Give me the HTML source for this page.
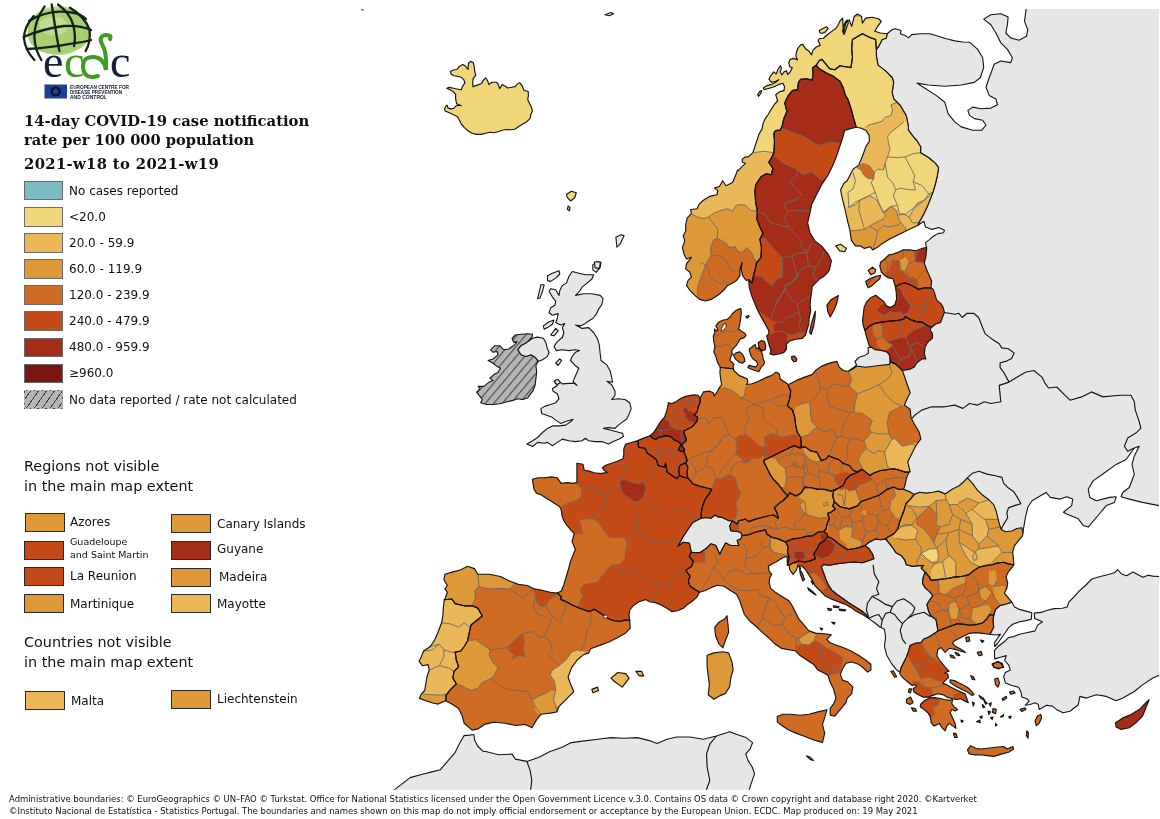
<!DOCTYPE html>
<html lang="en"><head><meta charset="utf-8"><title>14-day COVID-19 case notification rate</title>
<style>
html,body{margin:0;padding:0;background:#fff}
body{width:1160px;height:819px;position:relative;overflow:hidden;font-family:"DejaVu Sans","Liberation Sans",sans-serif;color:#111}
.abs{position:absolute}
.sw{position:absolute;width:37px;height:17.5px;border:1px solid #6b6b6b;box-sizing:content-box}
.sw2{position:absolute;width:38px;height:17px;border:1px solid #2a2a2a;box-sizing:content-box}
.lb{position:absolute;font-size:12px;line-height:16px;white-space:nowrap;color:#111}
.lb2{position:absolute;font-size:12px;line-height:16px;white-space:nowrap;color:#111}
.ttl{position:absolute;left:24px;font-family:"DejaVu Serif","Liberation Serif",serif;font-weight:bold;font-size:14.8px;line-height:19px;white-space:nowrap;color:#111}
.hd{position:absolute;left:24px;font-size:14.38px;line-height:19.5px;white-space:nowrap;color:#111}
.cap{position:absolute;left:9px;font-size:8.48px;line-height:10px;white-space:nowrap;color:#111}
.hatch{background:repeating-linear-gradient(125deg,#b4b4b4 0,#b4b4b4 4px,#444 4px,#444 5px,#b4b4b4 5px,#b4b4b4 6.5px)}
#map{position:absolute;left:0;top:0}
</style></head><body>
<svg id="map" width="1160" height="819" viewBox="0 0 1160 819">
<defs>
<pattern id="hatch" width="6.5" height="6.5" patternUnits="userSpaceOnUse" patternTransform="rotate(-50)"><rect width="6.5" height="6.5" fill="#b4b4b4"/><rect y="0" width="6.5" height="1.1" fill="#4a4a4a"/></pattern>
<clipPath id="k1"><path d="M752.1,282.9 749.1,279.6 746.1,280.4 742.5,275.5 741.2,268.9 742.2,262.3 740,268.9 740,275.5 736.7,280.4 732.6,282.9 727.7,285.4 723.6,290.3 717.8,295.2 711.2,299.4 705.4,301 699.7,299.4 694.7,295.2 689.8,290.3 686.5,285.4 688.1,280.4 691.4,277.1 689.8,272.2 685.7,268.9 686.5,263.9 691.4,257.3 686.5,259 684,254 682.4,247.5 684.8,240.9 683.2,235.9 685.7,231 685.7,224.4 687.3,217.8 691.4,213.7 690.6,209.5 697.2,208.7 698.8,204.6 703,200.5 709.5,196.4 717,194.7 717.8,190.6 714.5,188.1 719.4,186.5 722.7,180.7 726,185.7 732.6,182.4 735.1,176.6 737.6,170 738.1,170.6 742.3,166.4 745.4,163.3 742.3,162.3 742.3,159.2 744.9,157.1 748.5,156.6 752.7,152.9 754.2,148.8 755.8,143.6 757.3,139.4 758.9,134.3 762,129.1 763,123.9 765.1,118.7 768.2,114.5 771.3,109.3 774.5,104.2 777.6,101 775.7,94.7 779.8,91.6 784,90.6 784.5,86.4 782.9,83.3 778.8,84.4 773.6,87 768.4,88.5 764.3,89.6 763.2,88 766.3,85.9 771.5,84.4 775.7,82.3 778.8,79.7 775.7,81.2 771.5,82.3 768.9,79.2 770.5,76.1 773.6,71.9 776.2,74 778.3,68.8 780.3,65.7 781.4,67.8 780.3,71.9 781.9,75 784,71.9 786.6,70.9 787.6,74.5 790.2,71.9 792.3,67.8 789.7,66.7 788.7,62.6 790.2,59.4 793.8,58.4 797.5,60 795.9,56.3 796.4,52.2 798,48 800.6,44.9 802.7,44.4 805.8,49.1 808.9,51.1 811.5,54.8 813,50.1 816.2,47 820.3,45.4 818.2,40.8 819.3,38.7 823.4,38.2 827.6,34.5 831.7,31.4 835.9,28.3 838,25.2 840,21 842.6,18.1 843.4,33 845.9,23.1 849.2,19.8 851.7,26.4 854.2,16.5 857.5,14 861.6,16.5 862.4,23.1 865.7,18.1 872.3,17.3 878.9,19 881.3,21.4 877.2,27.2 874.8,31.3 880.5,33 887.1,33.8 887.1,33.8 886.3,38.2 882.2,39.5 878.9,46.1 876.4,49.4 876.4,49.4 875.6,39.5 869,37.1 862.4,33.8 852.5,39.5 851.7,47.8 852.5,57.7 850.9,67.6 845.9,66.7 845.2,66.7 840,65.7 834.8,69.8 829.7,68.8 825.5,63.6 821.9,59.4 819.3,60.5 816.2,65.2 816.2,65.2 812.5,67.8 813,75 812,80.2 806.8,78.7 800.6,79.2 798.5,82.3 797.5,89.6 792.3,90.6 788.1,95.8 784.8,103.1 786.9,111.4 783.8,118.7 782.2,126 780.2,130.1 775.5,130.6 773.9,133.2 774.5,141.5 773.9,152.9 771.3,158.1 768.8,162.3 772.9,168.5 771.3,174.7 766.2,173.7 761,176.8 755.7,184.8 754.9,191.4 755.7,203 757.3,211.2 757,219.4 759.8,226.9 763.1,233.4 759.8,239.2 761.5,247.5 761,257.3 756.5,263.1 754.9,270.5 753.2,277.1 752.1,282.9Z M757.5,94.7 759.6,91.6 761.7,90.6 760.6,93.7 758.5,96.3Z M819.3,30.4 822.4,28.8 826.5,26.7 828.1,28.3 825.5,31.9 821.9,33.5 819.8,32.5Z M842.6,31.4 843.7,26.2 845.2,22.1 847.3,20 848.3,23.1 846.3,28.3 844.2,34.5Z"/></clipPath>
<clipPath id="k2"><path d="M752.1,282.9 748.6,280.7 749.4,288.1 751.9,296.4 755.2,304.6 758.5,312 762.6,319.4 765.9,325.2 768.4,330.1 769.2,333.4 766.7,335.9 767.9,340.9 770,347.5 770.9,350.7 770,354 773.3,354.9 779.1,354 784,352.4 786.5,349.1 786.5,344.2 789.8,340.9 795.6,339.2 802.2,338.4 805.5,335.1 807.1,329.3 808.8,324.4 809.1,317.8 810.7,311.2 810.1,304.6 810.7,298 811.7,291.4 812.1,286.5 815.4,283.2 819.5,279.1 823.6,276.6 827.7,272.5 829.4,270 831.4,260.7 828.1,254.1 821.5,245.9 814.9,240.9 810,232.7 807.6,222.8 810,212.9 811.6,204.7 816.5,194.8 821.5,184.9 828.1,175 833,165.1 836.3,156.9 839.6,147 842.9,137.1 844.6,130.5 849.5,128.9 856.1,127.2 853.8,119 851.2,109.1 847.9,99.2 845.2,94.7 843.1,87.5 840,81.2 833.8,76.6 826.5,72.9 819.3,68.8 816.2,65.2 812.5,67.8 813,75 812,80.2 806.8,78.7 800.6,79.2 798.5,82.3 797.5,89.6 792.3,90.6 788.1,95.8 784.8,103.1 786.9,111.4 783.8,118.7 782.2,126 780.2,130.1 775.5,130.6 773.9,133.2 774.5,141.5 773.9,152.9 771.3,158.1 768.8,162.3 772.9,168.5 771.3,174.7 766.2,173.7 761,176.8 755.7,184.8 754.9,191.4 755.7,203 757.3,211.2 757,219.4 759.8,226.9 763.1,233.4 759.8,239.2 761.5,247.5 761,257.3 756.5,263.1 754.9,270.5 753.2,277.1Z M809.6,332.6 811.2,324.4 813.7,316.1 815.4,311.2 815,317.8 813.7,326 811.2,334.3Z M826.9,305.4 831,299.7 838.4,295.5 836.8,303 834.3,309.5 830.2,317 827.7,311.2Z"/></clipPath>
<clipPath id="k3"><path d="M918,225.3 909,229.4 902.4,232.7 895.8,236 889.2,239.3 882.6,243.4 876.9,247.6 872.7,250 870.3,246.7 864.5,248.4 860.4,245.9 855.4,245.9 851.3,240.1 850.5,234.4 849.7,229.4 847.2,219.5 844.7,208 842.2,198.1 840.6,189.9 843.9,183.3 847.2,180.7 850.5,174.2 853,169.2 858.7,165.1 861.2,159.3 863.7,152.7 866.1,146.1 869.4,141.2 869.1,135.4 866.1,130.5 861.2,128.3 856.3,127.2 853.8,119 851.2,109.1 847.9,99.2 845.2,94.7 843.1,87.5 840,81.2 833.8,76.6 826.5,72.9 819.3,68.8 816.2,65.2 819.3,60.5 821.9,59.4 825.5,63.6 829.7,68.8 834.8,69.8 840,65.7 845.2,66.7 845.9,66.7 850.9,67.6 852.5,57.7 851.7,47.8 852.5,39.5 862.4,33.8 869,37.1 875.6,39.5 876.4,49.4 876.4,56 878,65.1 885.5,70.9 892.1,77.5 893.7,82.4 892.1,92.3 893.7,98.9 900.3,105.5 906.1,115.4 906.9,118.6 908.5,126.9 908.2,129.7 912.3,135.4 917.2,141.2 920.8,147 920.5,152.7 928.8,157.7 935.4,163.4 938.6,167.6 937.3,175.8 935.4,184 932.9,192.3 930.4,198.9 927.1,207.1 923,215.4 918.9,222.8Z M835.7,245.9 840.6,244.3 846.4,248.4 844.7,251.7 839.8,250.9Z"/></clipPath>
<clipPath id="k4"><path d="M926.7,247.4 922.6,248.2 916,250.7 909.4,249.9 902.8,249.9 897.9,252.4 893,254 888.8,254.8 884.7,259 880.6,262.2 879.8,266.4 881.4,272.1 884.7,275.4 888.8,277.9 893,278.7 893.8,281.2 895.4,287 899.5,284.5 904.5,282.8 909.4,284.5 914.4,287 918.5,289.4 924.3,287.8 930.9,287.8 931.7,281.2 929.2,275.4 926.7,269.7 924.3,263.1 925.9,256.5Z M865.8,281.2 869.9,278.7 875.7,276.3 880.6,275.4 879.8,278.7 875.7,282 871.5,286.1 868.2,287.8 866.6,284.5Z M868.2,270.5 872.4,267.2 875.7,269.7 874.8,273 870.7,274.6Z"/></clipPath>
<clipPath id="k5"><path d="M895.4,287 896.3,292.7 896.6,299.3 894.6,305.1 890.5,307.6 886.4,305.9 883.9,301.8 879.8,298.5 875.7,295.2 870.7,297.7 866.6,301.8 864.1,307.6 863.3,314.2 862.5,320.7 863.3,325.7 864.9,330.3 869.9,325.7 874.8,323.2 881.4,322.1 889.7,321.1 897.9,320.4 903.7,319.1 905.3,316.6 909.4,319.1 916,321.6 922.6,322.4 927.6,325.7 931.7,327.3 935.8,324 940.7,322.4 942.4,317.5 944.4,312.5 943.2,307.6 940.7,303.4 936.6,300.1 935,294.4 933.3,289.4 930.9,287.8 924.3,287.8 918.5,289.4 914.4,287 909.4,284.5 904.5,282.8 899.5,284.5Z"/></clipPath>
<clipPath id="k6"><path d="M864.9,330.3 866.6,337.2 868.2,342.2 869.1,345.5 874.8,349.6 881.4,350.4 887.2,352.1 889.7,355.4 890.5,361.9 895.4,363.9 899.5,367.7 902.5,370.5 909.4,369.4 914.4,366.9 916.9,362.8 922.6,358.6 925.9,359 924.3,353.7 925.1,347.1 927.6,342.2 932.5,338 932.5,333.9 930,329.8 931.7,327.3 927.6,325.7 922.6,322.4 916,321.6 909.4,319.1 905.3,316.6 903.7,319.1 897.9,320.4 889.7,321.1 881.4,322.1 874.8,323.2 869.9,325.7Z"/></clipPath>
<clipPath id="k7"><path d="M788.2,385.3 789.9,383.7 796.5,380.4 804.7,377.1 812.1,374.6 815.4,370.5 821.2,366.4 829.4,363.1 836.9,361.4 839.3,367.2 843.4,370.5 848.4,371.3 853.3,368.8 856.6,366 865.7,367.2 878.9,365.5 889.6,364.4 890.5,361.9 895.4,363.9 899.5,367.7 902.5,370.5 902.8,371.6 906.1,381.2 910.2,392.7 906.9,399.3 904.4,405.1 910.2,409.2 911,417.5 914.3,424 919.2,432.3 920.9,438.9 915.9,445.5 911.8,453.7 907.7,461.9 910.2,471.8 909,472.1 905.2,472.1 900.3,470.5 893.7,468.8 887.1,469.7 880.5,470.5 873.9,473 869.8,475.4 865.7,472.1 861.9,469.3 858.3,472.1 853.3,470.5 849.2,465.5 842.6,463.1 839.3,459.8 834.4,458.1 828.6,455.7 826.1,459 821.2,460.6 817.1,452.4 810.5,450.7 804.7,446.6 799.8,447.9 801.4,445.5 800.6,437.2 797.3,432.3 795.7,425.7 794.8,417.5 792.4,410 787.4,405.9 789.9,397.7 790.7,391.1Z"/></clipPath>
<clipPath id="k8"><path d="M861.9,469.3 865.7,472.1 869.8,475.4 873.9,473 880.5,470.5 887.1,469.7 893.7,468.8 900.3,470.5 905.2,472.1 909,472.1 906.6,477.9 905.2,484.5 903.6,489.4 898.6,489.4 893.7,487 887.1,489.4 878.9,495.2 869.8,498.5 860.7,501.8 857.5,505.9 849.2,508.9 840.1,506.7 834.4,501.8 832.7,496 833.6,491.1 837.7,488.6 843.4,485.3 845.9,479.5 850,475.4 855.8,473Z"/></clipPath>
<clipPath id="k9"><path d="M903.6,489.4 898.6,489.4 893.7,487 887.1,489.4 878.9,495.2 869.8,498.5 860.7,501.8 857.5,505.9 849.2,508.9 840.1,506.7 834.4,501.8 832.7,505.9 835.2,509.2 830.3,512.5 827.8,513.3 829.4,519.1 827,524 826.1,529 823.7,531.5 827,533.9 827.8,536.4 832.7,538.9 837.7,543 843.4,547.1 847.6,549.6 854.2,548.8 860.7,547.1 864.9,545.5 869,542.2 875.6,538.9 880.5,539.7 885.5,538.9 888.8,536.4 893.7,533.9 897.8,529 899.5,522.4 901.9,515.8 904.4,509.2 906.1,503.4 910.2,499.3 914.3,494.4 910.2,491.9Z"/></clipPath>
<clipPath id="k10"><path d="M649.9,435.9 653,433.3 655.6,429.6 658.2,425.5 660.8,421.3 664.4,417.2 666.5,412 667.5,406.8 668.5,402.6 671.1,403.7 675.3,402.1 680.5,398.5 685.7,396.4 690.9,395.4 694,394.9 698.1,395.4 700.2,398 700,402.6 698.1,407.3 697.1,412 694,414.6 697.6,417.2 697.1,420.8 694,425 690.9,427.6 686.7,429.6 683.6,431.2 684.6,434.8 686.2,437.9 685.7,441.6 683.1,443.1 681.5,445.2 683.1,447.3 684.6,449.9 683.6,451.4 681,451.4 678.4,449.9 680,446.2 681,444.7 678.4,441.6 674.3,440 671.1,436.9 668,435.9 664.9,435.9 661.8,436.9 658.7,437.4 655.6,439.5 652.5,437.9Z"/></clipPath>
<clipPath id="k11"><path d="M637.8,440.6 643.6,438.1 649.9,435.8 652.5,437.9 655.6,439.5 658.7,437.4 661.8,436.9 664.9,435.9 668,435.9 671.1,436.9 674.3,440 678.4,441.6 681,444.7 680,446.2 678.4,449.9 681,451.4 683.6,451.4 685.2,454.6 686.2,457.7 687.2,460.8 685.6,462.9 681.2,464.7 679.5,466.4 678.7,470.5 679.5,475.4 677.1,478.7 673,476.3 667.2,472.1 665.5,463.1 664.7,467.2 658.1,465.5 656.5,459.8 652.4,456.5 647.4,453.2 644.9,448.2 640,447.4 638.6,447.2Z"/></clipPath>
<clipPath id="k12"><path d="M685.6,462.9 687.8,467.2 687,473 687.8,477.9 682.8,477.1 679.5,475.4 678.7,470.5 679.5,466.4 681.2,464.7Z"/></clipPath>
<clipPath id="k13"><path d="M700.2,398 703.4,391.9 709.2,391.1 713.3,392.7 714.2,396 716.6,392.7 718.8,388.6 721.6,384.5 720.7,379.5 719.9,373 720.3,367.2 725.7,368 733.4,368.8 733.9,370.5 736.4,373 738.9,375.4 743,377.1 747.1,378.7 747.9,382 746.3,384.5 752.1,383.7 758.6,381.2 765.2,377.9 771.8,375.4 775.9,372.1 779.2,373.8 780.1,378.7 783.4,381.2 787.5,383.7 788.2,385.3 790.7,391.1 789.9,397.7 787.4,405.9 792.4,410 794.8,417.5 795.7,425.7 797.3,432.3 800.6,437.2 801.4,445.5 799.8,447.9 794.1,445.8 790,447.4 783.4,450.7 776.8,454 770.2,457.3 763.6,460.6 764.4,463.1 766.9,468 770.2,474.6 773.5,479.5 778.4,484.5 783.4,491.1 787.8,496 782.5,501 780.1,502.6 774.3,507.6 776.8,512.5 778.4,518.3 773.5,515 768.5,515.8 761.9,517.5 755.4,519.1 748.8,521.6 745.5,519.1 738.9,520.7 737.2,524 732.3,520.7 729,520.7 722.4,517.5 717.5,516.6 715,515 710.9,518.3 705.9,517.5 701,518.3 701.3,512.5 702.6,505.9 705.1,499.3 709.2,493.6 711.7,489.4 705.9,487.8 699.3,486.1 692.7,483.7 687.8,477.9 687,473 687.8,467.2 685.6,462.9 687.2,460.8 686.2,457.7 685.2,454.6 683.6,451.4 684.6,449.9 683.1,447.3 681.5,445.2 683.1,443.1 685.7,441.6 686.2,437.9 684.6,434.8 683.6,431.2 686.7,429.6 690.9,427.6 694,425 697.1,420.8 697.6,417.2 694,414.6 697.1,412 698.1,407.3 700,402.6Z"/></clipPath>
<clipPath id="k14"><path d="M787.8,496 783.4,491.1 778.4,484.5 773.5,479.5 770.2,474.6 766.9,468 764.4,463.1 763.6,460.6 770.2,457.3 776.8,454 783.4,450.7 790,447.4 794.1,445.8 799.8,447.9 804.7,446.6 810.5,450.7 817.1,452.4 821.2,460.6 826.1,459 828.6,455.7 834.4,458.1 839.3,459.8 842.6,463.1 849.2,465.5 853.3,470.5 858.3,472.1 861.9,469.3 855.8,473 850,475.4 845.9,479.5 843.4,485.3 837.7,488.6 831.1,491.1 824.5,489.4 817.9,489.4 811.3,487.8 804.7,487 801.4,492.7 795.7,496 789.9,492.7Z"/></clipPath>
<clipPath id="k15"><path d="M837.7,488.6 831.1,491.1 824.5,489.4 817.9,489.4 811.3,487.8 804.7,487 801.4,492.7 795.7,496 789.9,492.7 787.8,496 782.5,501 780.1,502.6 774.3,507.6 776.8,512.5 778.4,518.3 773.5,515 768.5,515.8 761.9,517.5 755.4,519.1 748.8,521.6 745.5,519.1 738.9,520.7 737.2,524 732.3,520.7 729.8,525.7 730.6,530.6 737.2,531.5 740.5,532.3 742.2,535.6 748.8,534.8 755.4,532.3 761.9,530.6 765.2,529.8 766.9,533.9 771.8,537.2 778.4,538.9 785.8,542.2 788.2,540.5 793.2,538.9 799.8,538 806.4,536.4 813,535.6 817.9,532.3 823.7,531.5 826.1,529 827,524 829.4,519.1 827.8,513.3 830.3,512.5 835.2,509.2 832.7,505.9 834.4,501.8 832.7,496 833.6,491.1Z"/></clipPath>
<clipPath id="k16"><path d="M637.8,440.6 632.1,442.2 625.5,444.4 623.8,448.8 623.8,454.6 623,458.7 617.2,461.2 611.5,463.2 605.7,465.3 602.4,467.8 604,470.3 607.3,472.4 600.7,473.6 594.2,472.7 589.2,471.1 584.3,470.3 582.9,464.2 576.9,463.2 576.9,469.4 576.9,482.6 572.7,483.4 567.8,482.6 561.2,483.4 557.1,477.7 551.3,476.9 544.7,477.7 538.1,477.7 532.4,479.3 533.2,484.3 534,489.2 536.5,493.3 541.4,495 546.4,498.3 550.5,500.7 555.4,504 559.5,506.5 561.2,509.8 562,515.6 563.7,520.5 567,525.5 571.1,530.4 574.4,533.7 573.8,535 572.1,541.6 575.4,549.8 573.8,553.1 570.5,561.4 568.8,568 566.4,576.2 563.9,584.4 561.4,591 557.3,593 561.4,596.8 560.6,599.3 566.4,601.7 572.1,605 577.9,607.5 584.5,610 589.4,611.6 594.4,609.2 599.3,612.5 604.3,615.7 609.2,619 614.2,620.7 619.9,621.5 625.7,619.9 629.8,620.7 629,615.7 629.8,610 633.1,605.9 638.9,601.7 645.5,599.6 649.6,601.7 655.4,602.6 661.1,605 666.9,608.3 671.8,611.6 677.6,610.8 683.4,608.3 686.7,605 691.6,601.7 696.5,597.6 699.5,592.3 694.9,589.4 690,586.1 688.3,581.1 690,576.2 685.8,570.4 691.6,566.3 693.3,561.4 689.1,556.4 691.3,552.3 689.3,543.2 683.5,542.3 677.9,546.2 682.8,537.2 686.1,532.3 689.4,527.3 692.7,522.4 696,520.7 701,518.3 701.3,512.5 702.6,505.9 705.1,499.3 709.2,493.6 711.7,489.4 705.9,487.8 699.3,486.1 692.7,483.7 687.8,477.9 682.8,477.1 679.5,475.4 677.1,478.7 673,476.3 667.2,472.1 665.5,463.1 664.7,467.2 658.1,465.5 656.5,459.8 652.4,456.5 647.4,453.2 644.9,448.2 640,447.4 638.6,447.2Z"/></clipPath>
<clipPath id="k17"><path d="M714.7,627.3 718.8,622.3 724.6,619 727,615.7 727.9,624 728.7,632.2 725.4,640.5 722.9,647.9 718.8,643.8 715.5,635.5Z"/></clipPath>
<clipPath id="k18"><path d="M557.3,593 550.1,592.3 541,590 534.2,588.9 527.5,585.5 518.4,584.4 509.4,581 500.4,576.5 489.1,574.2 477.8,574.2 474.4,568.6 467.6,566.3 460.8,569.7 452.9,571.9 445,574.2 443.9,579.8 447.3,585.5 445,588.9 447.3,592.3 445,599 444.3,599.7 451.8,599 455.2,603.6 464.2,605.8 472.1,605.8 477.8,608.1 482.3,616 476.6,620.5 471,625 469.2,632.9 467.6,640.8 464.2,646.5 460.8,651 455.2,652.1 456.3,660 458.6,666.8 454,671.3 452.9,678.1 456.3,683.8 450.7,689.4 446.1,695.1 445.7,700.7 451.8,704.1 458.6,708.6 462,715.4 464.2,723.3 472.1,730.1 477.8,728.9 484.5,724.4 493.6,722.2 504.9,723.3 516.2,725.5 525.2,724.4 532,727.8 536.5,719.9 541,714.3 550.1,713.1 556.8,712 559.1,706.3 565.9,699.6 573.8,691.7 570.4,683.8 568.1,677 571.5,667.9 577.2,660 583.9,654.4 588.5,653.3 590.7,648.7 599.7,645.4 608.8,642 617.8,637.5 625.7,632.9 630.2,628.4 629.8,620.7 625.7,619.9 619.9,621.5 614.2,620.7 609.2,619 604.3,615.7 599.3,612.5 594.4,609.2 589.4,611.6 584.5,610 577.9,607.5 572.1,605 566.4,601.7 560.6,599.3 561.4,596.8Z M611,678.1 617.8,672.5 625.7,673.6 629.1,678.1 622.3,687.1 614.4,681.5Z M635.9,671.3 641.5,671.3 643.8,675.9 639.3,675.9Z M591.8,689.4 597.5,687.1 598.6,690.5 593,692.8Z"/></clipPath>
<clipPath id="k19"><path d="M444.3,599.7 443.4,607 442.8,616 441.6,622.8 438.2,631.8 434.8,639.7 430.3,646.5 423.6,651 421.3,656.7 419,661.2 422.4,665.7 428.1,664.6 429.2,670.2 426.9,677 425.8,683.8 424.7,690.5 421.3,693.9 419.5,698.4 425.8,700.7 432.6,703 438.2,704.1 445.7,700.7 446.1,695.1 450.7,689.4 456.3,683.8 452.9,678.1 454,671.3 458.6,666.8 456.3,660 455.2,652.1 460.8,651 464.2,646.5 467.6,640.8 469.2,632.9 471,625 476.6,620.5 482.3,616 477.8,608.1 472.1,605.8 464.2,605.8 455.2,603.6 451.8,599Z"/></clipPath>
<clipPath id="k20"><path d="M699.5,592.3 704.8,590.8 711.6,587.4 717.3,585.2 724,586.3 730.8,590.8 736.5,594.2 739.9,601 742.1,607.8 744.4,614.5 750,621.3 756.8,627 762.5,632.6 769.2,638.3 774.9,643.9 781.7,648.4 788.4,649.6 795.2,650.7 799.7,655.2 806.5,659.7 813.3,664.2 817.8,669.9 824.6,673.3 828,675.5 830.2,682.3 833.6,689.1 835.9,698.1 833.6,703.8 830.2,708.3 830.2,715.1 834.7,716.2 840.4,709.4 846,702.6 847.2,698.1 851.7,693.6 852.8,686.8 848.3,682.3 842.6,680.1 840.4,674.4 842.6,668.8 846,663.1 851.7,662 858.5,664.2 863,667.6 867.5,672.1 870.9,669.9 870.9,664.2 865.2,659.7 858.5,655.2 850.5,650.7 842.6,647.3 835.9,645 830.2,642.8 826.8,639.4 831.3,634.9 824.6,633.7 815.5,633.1 808.6,630.5 803.7,624.7 798.8,618.9 795.5,612.3 792.2,605.7 788.9,600.8 782.3,596.7 775.7,592.6 770.7,588.4 769.1,582.7 769.9,577.7 771.6,574.4 769.1,571.1 768.3,566.2 772.4,563.7 777.3,561.3 782.3,558 787.2,556.3 787.4,565.2 788.2,561.9 789.1,557 787.4,552.1 788.2,547.1 785.8,542.2 778.4,538.9 771.8,537.2 766.9,533.9 765.2,529.8 761.9,530.6 755.4,532.3 748.8,534.8 742.2,535.6 740.8,538.9 737.2,540.5 738.9,545.5 735.6,545.5 730.6,545.5 725.7,543 722.4,548.8 719.9,554.5 715.8,545.5 710.9,543.8 705.9,548.8 699.3,552.9 691.3,552.3 689.1,556.4 693.3,561.4 691.6,566.3 685.8,570.4 690,576.2 688.3,581.1 690,586.1 694.9,589.4Z M777.3,716.5 782.9,714.2 790.8,714.2 799.9,715.3 808.9,714.2 817.9,711.9 827,709.7 824.7,717.6 822.5,724.4 824.7,733.4 822.5,742.4 814.5,740.2 805.5,736.8 796.5,733.4 788.6,730 781.8,725.5 777.3,722.1Z"/></clipPath>
<clipPath id="k21"><path d="M707.1,655.2 713.9,652.9 722.9,651.8 728.6,652.9 732,662 733.1,669.9 730.8,677.8 729.7,686.8 725.2,693.6 719.5,695.9 713.9,699.3 708.2,694.7 709.4,684.6 708.2,675.5 707.1,666.5Z"/></clipPath>
<clipPath id="k22"><path d="M785.8,542.2 788.2,540.5 793.2,538.9 799.8,538 806.4,536.4 813,535.6 817.9,532.3 823.7,531.5 827,533.9 827.8,536.4 824.5,540.5 819.5,543.8 817.1,548.8 813.8,553.7 815.4,558.6 809.7,561.1 804.7,561.9 798.1,561.1 793.2,562.8 789.1,565.2 787.4,565.2 788.2,561.9 789.1,557 787.4,552.1 788.2,547.1Z"/></clipPath>
<clipPath id="k23"><path d="M789.1,565.2 793.2,562.8 798.1,561.1 804.7,561.9 809.7,561.1 815.4,558.6 813.8,553.7 817.1,548.8 819.5,543.8 824.5,540.5 827.8,536.4 832.7,538.9 837.7,543 843.4,547.1 847.6,549.6 854.2,548.8 860.7,547.1 864.9,545.5 869,548.8 872.3,553.7 873.9,558.6 869.8,560.3 862.4,562.8 854.2,561.9 845.9,562.8 837.7,563.6 829.4,565.2 823.7,564.4 821.2,566.9 823.5,572.8 825.9,579.4 828.4,585.1 831.7,590.1 836.7,594.2 842.4,598.3 848.2,602.5 854.8,606.6 861.4,610.7 866.3,614.8 868.8,618.6 863,614.8 856.4,611.5 850.7,607.4 844.9,604.1 838.3,601.6 831.7,599.2 825.1,595.9 820.2,590.9 815.2,586 811.9,579.4 808.6,574.4 805.4,569.5 802.1,566.2 797.9,565.4 796.3,570.3 793,574.4 789.7,569.5Z M799.6,569.5 802.1,572.8 804.5,579.4 802.9,581 800.4,574.4Z M798.8,566.2 800.7,568.2 800.1,569.8Z M807.8,587.6 812.8,591.7 816.1,595 814.4,594.2 808.6,590.1Z M811.1,581 813.6,582.7 812.8,584.3Z M827.6,608.2 831.7,609 830.9,610.7 828.1,609.9Z M833.4,605.7 839.1,606.6 838.3,607.7 833.7,607.1Z M839.1,609 845.7,609.9 844.9,611 839.6,610.4Z M831.7,622.2 835,622.6 834.2,624.2Z M820.2,628 822.7,628.5 821.5,630.1Z"/></clipPath>
<clipPath id="k24"><path d="M914.3,494.4 919.5,492.2 926.1,493.1 932.7,492.2 938.5,491.1 945.1,493.9 952.5,489 959.1,485.7 964,481.5 967.3,477.9 972.3,483.2 977.2,489.8 982.2,494.7 988.8,499.7 993.7,504.6 996.2,511.2 997.8,517.8 999.5,524.4 1001.1,529.3 1005.2,531.8 1011.8,531 1016.8,528.5 1021.7,527.7 1023,532.6 1022.5,535.9 1018.4,540.9 1014.3,545.8 1012.7,552.4 1013.5,559 1013.8,564.8 1008.5,563.9 1003.6,562.3 997,563.1 992.1,564.8 985.5,565.6 978.9,567.2 973.9,570.5 969,574.6 962.4,576.3 954.2,577.1 945.9,578.8 937.7,579.6 931.1,580.4 929.4,577.1 925.3,572.2 921.2,568 923.7,565.6 917.9,565.6 913,566.4 906.4,564.8 904.7,559.8 901.4,555.7 895.7,552.4 893.2,548.3 889.9,544.2 885.8,538.9 888.8,536.4 893.7,533.9 897.8,529 899.5,522.4 901.9,515.8 904.4,509.2 906.1,503.4 910.2,499.3Z"/></clipPath>
<clipPath id="k25"><path d="M1013.8,564.8 1008.5,563.9 1003.6,562.3 997,563.1 992.1,564.8 985.5,565.6 978.9,567.2 973.9,570.5 969,574.6 962.4,576.3 954.2,577.1 945.9,578.8 937.7,579.6 931.1,580.4 929.4,577.1 925.3,572.2 923.2,577.4 922.5,583.2 925.3,588.1 929.4,591.4 932.7,595.5 929.4,600.5 927,604.6 928.6,611.2 931.1,616.1 936,619.4 936.9,624.4 938,631 944.3,628.5 950.9,626 957.5,623.6 964,624.4 970.6,625.2 977.2,624.4 983,622.7 987.1,618.6 989.6,614.5 993.7,615.3 995.4,609.5 1000.3,605.4 1006.9,603.8 1011.8,602.1 1007.7,597.2 1004.4,593.1 1006.9,588.1 1007.7,583.2 1006.1,576.6 1008.5,571.6 1012.7,566.7Z"/></clipPath>
<clipPath id="k26"><path d="M938,631 934.4,633.4 929.4,636.7 923.7,639.2 921.2,642.5 915.4,643.3 910.2,645.5 908.8,650.7 906.4,657.3 903.9,662.3 901.4,667.2 899.8,672.2 899.9,674 903.2,678.1 908.1,682.2 912.2,685.5 915.5,684.7 916.4,686.4 913.1,688.8 913.9,692.1 918,694.6 923,697.1 927.9,697.1 932.8,695.4 937.8,693.8 942.7,694.6 946.9,697.1 952.6,698.7 956.7,699.5 960.9,698.7 965,701.2 968.3,702.8 966.6,697.9 965,693.8 960.9,692.1 955.9,689.7 951,687.2 946.9,684.7 942.7,683.1 945.2,680.6 948.5,677.3 947.7,674 944.4,673.2 947.7,671.5 949.2,671.3 945.9,668 942.6,663.9 939.3,659.8 936.9,655.7 937.7,649.9 941,647.5 945.1,652.4 949.2,648.3 954.2,649.1 959.1,650.7 965.7,652.4 960.7,649.1 955.8,646.6 952.5,643.3 954.2,640.9 959.1,638.4 964,635.9 969,633.4 975.6,632.6 982.2,633.4 989.6,634.3 990.4,633.4 993.7,626.9 992.9,621.1 993.7,615.3 989.6,614.5 987.1,618.6 983,622.7 977.2,624.4 970.6,625.2 964,624.4 957.5,623.6 950.9,626 944.3,628.5Z M950.1,679.8 954.3,680.6 959.2,683.1 964.2,685.5 968.3,688 971.6,691.3 974,694.6 971.6,695.4 967.5,692.1 962.5,689.7 957.6,687.2 953.4,684.7 950.1,682.2Z M920.5,704.5 924.6,700.4 929.5,697.9 934.5,697.6 939.4,698.2 944.4,699.5 949.3,700.4 952.6,699.5 951.8,703.7 954.3,707 957.6,709.4 955.1,711.1 951.8,709.4 950.1,712.7 952.6,717.7 955.1,723.4 955.9,728.4 952.6,725.9 949.3,723.4 946.9,725.9 945.2,730.9 941.9,727.6 939.4,723.4 936.1,725.1 933.7,725.9 931.2,722.6 930.4,716.9 927.9,712.7 923.8,709.4 920.5,707Z M967.5,749.8 970.7,745.7 975.7,748.2 980.6,749 987.2,748.2 995.5,747.3 1003.7,746.5 1007,749 1012.8,746.5 1013.6,749 1008.6,752.3 1002.1,753.9 993.8,756.4 987.2,755.6 980.6,754.8 974,754.8 969.1,753.9Z M1035,721 1037.5,716 1040.8,714.4 1041.6,717.7 1039.1,723.4 1036.3,725.9Z M992.2,664.9 997.1,661.6 1002.1,663.3 1003.7,667.4 998.8,668.2 994.6,667.4Z M994.6,679 997.9,678.1 999.6,683.1 997.9,687.2 995.5,684.7Z M1009.5,692.1 1013.6,691 1015.2,693 1011.1,694.3Z M906.5,699.5 910.6,697.1 913.1,702.8 909.8,704.5 906.5,702.8Z M911.4,707.8 915.5,708.6 916.4,711.1 913.1,711.1Z M909,688.8 911.4,688.8 910.6,693 908.5,692.1Z M953.4,733.3 955.9,733.3 957.2,737.5 954.6,737.5Z M979,695.4 983.1,697.9 984.8,700.4 980.6,698.2Z M993,708.6 996.3,709.4 995.5,713.6 992.5,712.4Z M988,711.1 990.5,711.9 988.9,714.4Z M988.9,703.7 991.3,702.8 990.5,706.1Z M983.9,700.4 987.2,703.2 985.6,704.2Z M972.4,702 974.4,703.2 973.2,706.1Z M976.5,721.8 979.8,720.1 980.3,722.6Z M995.5,723.4 997.1,725.1 995.5,725.9Z M990.5,717.7 993,716.9 992.2,719.7Z M1020.2,709.4 1025.1,707.8 1025.9,709.4 1021.8,711.4Z M1026.8,730.9 1028.4,732.5 1028.1,738.3 1026.4,735.8Z M1002.1,698.7 1006.2,696.3 1006.7,697.9 1002.9,700.4Z M970.7,675.7 973.2,676.5 974.9,679.8 972.4,679.4Z M890.8,671.5 893.3,670.7 896.6,676.5 894.9,677.3Z M1000.4,716.9 1003.7,714.4 1002.9,716.9Z M1008.6,716.9 1011.1,716 1010.3,718.5Z M982.3,704.5 984.8,707 983.1,707.8Z M979.8,716.9 982.3,716 981.5,718.5Z M960.9,720.1 963.3,721 961.7,722.3Z M965.7,637.6 969,636.7 969.8,640.9 966.5,641.7Z M980.5,640 983.8,640.9 982.2,642.5Z M977.2,652.4 981.3,651.6 982.2,654.9 978.9,655.7Z M992.1,663.9 998.6,661.5 1003.6,666.4 998.6,668.9 993.7,667.2Z M950,654.9 953.3,655.7 955,658.2 950.9,657.3Z M955,652.4 958.3,653.2 959.9,655.7 956.6,654.9Z"/></clipPath>
<clipPath id="k27"><path d="M1115.5,722.8 1122.8,717.9 1131,714.6 1139.2,709.6 1145.8,703 1149.1,699.7 1145.8,708 1142.5,716.2 1135.9,722.8 1129.3,727.7 1121.1,729.4 1116.2,727.1Z"/></clipPath>
<clipPath id="k28"><path d="M450.4,71.6 453.5,70 457.1,69.5 459.2,66.4 462.8,64.5 465.4,65.9 468,69.5 468.5,63.3 470.6,61.4 473.2,62.5 474.2,66.4 474.8,71.6 475.8,75.2 473.2,78.3 472.7,83 473,86.6 477.3,85.1 481.5,83.5 483.6,79.9 485.6,77.8 487.7,80.9 488.8,84.6 491.9,82.2 496.5,82.2 498.6,85.1 499.6,88.7 502.2,84.6 504.8,86.1 507.9,88 511.6,87.2 515.2,86.6 517.8,83.5 519.9,82.8 522,85.6 524,90.3 528.2,91.5 528.4,95.5 527.7,99.6 529.7,103.8 531.8,107.9 532.3,111.5 530.8,114.6 530.2,118.3 527.1,121.4 523,124 518.8,126.6 514.7,129.2 510.5,129.7 506.4,129.5 502.2,130.2 498.1,131.8 493.9,132.8 489.8,132.3 485.6,133.3 481.5,134.4 476.3,134.4 472.2,133.3 468,130.7 464.4,127.6 461.3,124 459.2,119.8 457.6,116.7 454.5,115.2 449.9,113.1 445.2,111 444.4,108.9 445.7,106.3 447.3,105.3 447.8,107.9 450.4,108.9 453.5,108.4 456.1,105.8 459.2,105.3 461.3,105.8 456.6,103.8 455.6,98.6 455.6,94.4 453.5,91.8 449.9,89.8 446.7,88.2 449.3,87.4 453.5,88.2 458.2,89.2 461.3,89.8 462.3,86.6 464.9,83 463.9,79.9 461.3,77.3 457.6,76.3 453.5,75.7 450.9,73.7Z M566.4,194.4 571.4,191.2 576.3,192.8 574.7,197.7 570.7,201 567.4,197.7Z M568.1,206 570.1,207.6 569.4,210.9 567.4,209.3Z"/></clipPath>
<clipPath id="k29"><path d="M733.4,368.8 725.7,368 720.3,367.2 717.4,362.2 715.9,356.5 713.8,351.9 714.9,346.7 713.8,341.5 713.3,336.3 714.9,332.2 714.3,329 716.4,331.1 718,330.1 715.9,325.9 718.5,322.3 722.6,320.2 727.3,319.2 729.9,317.1 732.5,313.5 736.1,310.4 740.8,308.5 741.3,312.4 740.8,317.6 739.8,323.9 738.7,329 741.8,331.6 744.9,333.2 746,335.3 743.9,337.9 740.3,338.9 738.2,342.5 736.1,345.6 733,348.8 731.5,351.9 732.5,353.9 730.9,356.5 729.9,360.7 732,362.2 734,364.3 733,366.4Z M733.5,355 736.1,352.9 739.8,351.9 742.3,353.9 744.4,358.1 744.9,361.2 742.3,363.3 739.2,362.2 736.1,359.6 734.6,357.6Z M749.1,349.3 752.2,346.7 755.3,344.6 756.3,348.8 758.4,347.7 761,350.8 762.6,355 763.1,359.1 764.6,362.2 763.6,364.8 761,367.4 758.9,371.6 754.8,370.5 750.6,369 748,367.4 749.1,365.4 752.7,366.4 755.8,366.9 757.9,364.3 756.3,361.2 753.2,359.1 751.2,356.5 750.1,352.9Z M758.4,342.5 761.5,340.5 764.6,341.5 765.7,345.6 765.2,349.8 762.6,350.8 760,348.8 758.4,345.6Z M791.6,356.5 794.2,356 796.8,358.6 796.3,361.2 793.7,361.7 791.9,359.6Z M746,316.6 748.6,315.4 749.1,316.6 747,318.2Z"/></clipPath>
<clipPath id="k30"><path d="M806.6,756 810,757.1 813.4,760.5 810,759.4Z"/></clipPath>
<clipPath id="frame"><rect x="390" y="9" width="769" height="780.8"/></clipPath>
</defs>
<g clip-path="url(#frame)">
<path d="M887.1,33.8 892.1,29.7 895.4,28.8 901.1,30.5 900.3,33.8 905.2,35.4 908.5,37.9 911.8,34.6 920.1,33.8 930,33.8 938.2,36.3 946.4,38.7 954.7,40.9 962.9,42 969.5,42.2 977.7,49.4 982.7,57.7 983.7,67.6 980.4,77.5 974.4,82.4 961.3,85 944.8,86.3 928.3,85 916.8,83.1 925,88.3 936.5,95.6 944.8,102.2 948.1,113.7 954.7,121.9 961.3,126.9 972.8,130.2 981.7,130.2 986,125.2 982.7,120.3 974.4,118.6 969.5,115.4 967.9,110.4 972.8,107.1 981,108.8 990.9,108.1 997.5,104.8 995.9,98.9 989.3,95.6 986,87.3 989.3,77.5 994.2,64.3 1000.8,61 1010.7,62.6 1012.4,57.7 1007.4,49.4 1000.8,42.8 995.9,33 990.9,24.7 983.7,19.1 990.9,14.8 1000.8,13.8 1008.1,17.1 1007.4,24.7 1005.8,33 1010.7,37.9 1018.9,40.2 1026.5,36.3 1027.8,29.7 1024.5,21.4 1026.5,6.6 1180,0 1180,506 1168.9,505.6 1159,505.6 1142.5,502.4 1129.3,499.1 1121.1,496.7 1122.8,492.5 1129.3,487.5 1134.3,474.3 1132,464.4 1134.3,456.2 1139.2,446.3 1134.3,448 1126.1,459.5 1116.2,464.4 1104.6,472.7 1093.1,480.9 1088.2,489.2 1089.8,497.4 1096.4,500.7 1109.6,497.4 1116.2,496.7 1114.5,502.4 1106.3,505.6 1098,515.5 1088.2,527.1 1083.2,525.4 1078.3,518.8 1066.7,513.9 1063.4,512.2 1071.7,505.6 1072.7,499.1 1066.7,496.7 1060.1,499.1 1050.3,497.4 1046.3,492.5 1040.4,495.8 1032.1,500.7 1027.8,507.3 1025.5,517.2 1023.2,530.4 1023,532.6 1020.1,535.9 995.4,535.9 978.9,519.4 928.3,507.3 888.8,497.4 878.9,474.3 888.8,441.4 888.8,395.2 905.2,345.8 918.4,309.5 921.7,276.6 926.3,246.7 925.5,242.6 928.8,240.1 933.7,236 937.8,233.6 943.6,232.7 944.4,230.3 938.6,227.5 932.1,229.4 925.5,227 923.8,221.2 918,225.3 918.9,222.8 923,215.4 927.1,207.1 930.4,198.9 932.9,192.3 935.4,184 937.3,175.8 938.6,167.6 935.4,163.4 928.8,157.7 920.5,152.7 920.8,147 917.2,141.2 912.3,135.4 908.2,129.7 908.5,126.9 906.9,118.6 906.1,115.4 900.3,105.5 893.7,98.9 892.1,92.3 893.7,82.4 892.1,77.5 885.5,70.9 878,65.1 876.4,56 876.4,49.4 878.9,46.1 882.2,39.5 886.3,38.2 887.1,33.8Z" fill="#E6E6E6" stroke="#141414" stroke-width="1.1" stroke-linejoin="round"/>
<path d="M849.1,370.5 854.1,367.2 856.5,364.8 854.9,361.5 859,357.3 864.8,355.4 868.4,353.2 868.1,347.5 890,347.5 890,368.9 849.1,375.5Z" fill="#E6E6E6" stroke="#141414" stroke-width="1.1" stroke-linejoin="round"/>
<path d="M691.3,552.3 689.3,543.2 683.5,542.3 677.9,546.2 682.8,537.2 686.1,532.3 689.4,527.3 692.7,522.4 696,520.7 701,518.3 705.9,517.5 710.9,518.3 715,515 717.5,516.6 722.4,517.5 729,520.7 732.3,520.7 729.8,525.7 730.6,530.6 737.2,531.5 740.5,532.3 742.2,535.6 740.8,538.9 737.2,540.5 738.9,545.5 735.6,545.5 730.6,545.5 725.7,543 722.4,548.8 719.9,554.5 715.8,545.5 710.9,543.8 705.9,548.8 699.3,552.9Z" fill="#E6E6E6" stroke="#141414" stroke-width="1.1" stroke-linejoin="round"/>
<path d="M868.8,618.6 866.3,614.8 861.4,610.7 854.8,606.6 848.2,602.5 842.4,598.3 836.7,594.2 831.7,590.1 828.4,585.1 825.9,579.4 823.5,572.8 821.2,566.9 823.7,564.4 829.4,565.2 837.7,563.6 845.9,562.8 854.2,561.9 862.4,562.8 869.8,560.3 873.9,558.6 872.3,553.7 869,548.8 864.9,545.5 869,542.2 875.6,538.9 880.5,539.7 885.5,538.9 889.9,544.2 893.2,548.3 895.7,552.4 901.4,555.7 904.7,559.8 906.4,564.8 913,566.4 917.9,565.6 923.7,565.6 921.2,568 925.3,572.2 923.2,577.4 922.5,583.2 925.3,588.1 929.4,591.4 932.7,595.5 929.4,600.5 927,604.6 928.6,611.2 931.1,616.1 936,619.4 936.9,624.4 938,631 934.4,633.4 929.4,636.7 923.7,639.2 921.2,642.5 915.4,643.3 910.2,645.5 908.8,650.7 906.4,657.3 903.9,662.3 901.4,667.2 899.8,672.2 895.7,668.8 891.2,663.1 886.7,655.2 884.4,646.2 885.6,637.1 884.4,629.2 879.9,627 874.3,622.5Z" fill="#E6E6E6" stroke="#141414" stroke-width="1.1" stroke-linejoin="round"/>
<path d="M993.7,615.3 995.4,609.5 1000.3,605.4 1006.9,603.8 1011.8,602.1 1014.5,607 1019.4,609.4 1026,611.1 1031.8,612.7 1031.3,619.3 1026,620.6 1019.4,621.8 1012.8,624.3 1008.7,627.6 1005.4,632.5 1001.3,638.3 997.2,644 994.7,646.5 994.7,642.4 998,637.5 1000.5,634.2 996.4,635 989.6,634.3 990.4,633.4 993.7,626.9 992.9,621.1Z" fill="#E6E6E6" stroke="#141414" stroke-width="1.1" stroke-linejoin="round"/>
<path d="M1034.3,613.1 1040.9,612.4 1047.5,610.3 1054,608.6 1062.3,608.3 1067.2,607 1068.9,602 1073.8,597.1 1078.8,591.3 1085.4,585.5 1091.9,579 1100.2,576.5 1108.4,574.5 1115,572.4 1117.5,569.6 1121.6,574 1126.5,575.7 1133.1,571.9 1138.1,574.8 1143,577.3 1148,575.2 1152.9,576.1 1159,576.5 1180,576 1180,675 1160,675 1152.4,678.3 1142.5,684.9 1134.3,691.5 1122.8,698.1 1116.2,700.7 1106.3,696.4 1096.4,694.8 1086.5,698.1 1079.9,696.4 1078.3,704.7 1070,711.3 1063,712.7 1056.4,709.4 1052.3,706.1 1046.5,705.3 1042.4,707.8 1039.1,709.4 1038.3,704.5 1035,702.8 1030.1,704.5 1025.1,705.3 1029.2,701.2 1026.8,698.7 1021.8,697.1 1021,692.1 1018.5,687.2 1011.9,685.5 1005.4,683.1 1003.7,676.5 1005.4,672.4 1010.3,669.9 1008.6,664.9 1004.6,660.5 1006.3,655.6 1000.5,657.2 994.7,658.9 994.4,650.6 997.2,647.3 1001.3,644 1005.4,640.7 1008.7,637.5 1013.7,636.6 1019.4,634.2 1027.7,632.5 1035.1,630.9 1037.6,625.1 1042.5,621.8 1034.6,618.5Z" fill="#E6E6E6" stroke="#141414" stroke-width="1.1" stroke-linejoin="round"/>
<path d="M572.2,271.5 578.8,273.2 585.4,274.8 593.6,274.8 591.9,279 587,283.1 582.1,287.2 579.6,291.3 575.5,295.4 583.7,293.8 591.9,293.8 600.2,295.4 603.1,298.7 601.8,304.5 598.5,309.4 596.1,314.4 592.8,318.5 588.6,321 585.4,323.4 580.4,325.9 575.5,325.1 582.1,328.4 588.6,327.6 593.6,332.5 597.7,339.1 599.4,345.7 600.2,353.9 601,360.5 606.8,364.9 610.1,370.7 611.7,377.3 612.5,382.2 606.8,381.4 611.7,384.7 615,391.3 615,395.4 611.7,399.5 618.3,398.7 624.9,399.5 629.8,402.8 631.2,408.6 629,414.4 626.5,419.3 621.6,422.6 617.5,425.9 615,428.4 608.4,427.6 603.5,428.4 610.1,430 616.7,431.7 622.4,433.3 623.6,436.6 619.1,439.1 613.4,441.6 608.4,444 601.8,441.6 595.2,441.6 588.6,440.7 585.4,438.3 582.1,440.7 575.5,441.6 568.9,440.7 562.3,439.1 557.3,442.4 552.4,445.7 547.5,442.4 544.2,443.2 537.6,442.4 532.6,446.5 526.9,444 532.6,440.7 537.6,437.5 542.5,432.5 547.5,428.4 552.4,425.9 559,425.9 565.6,425.1 570.5,421.8 573,419.3 567.2,421 560.6,423.4 555.7,420.1 551.6,416.9 546.6,415.2 541.7,413.6 540.9,408.6 545,406.1 550.7,404.5 555.7,402.8 559,398.7 557.3,393.8 553.2,391.3 552.4,388.8 557.3,385.5 554,381.4 557.3,379.8 560.3,382.2 562.3,383.9 568.9,383.4 573.8,383.1 577.1,385.5 573,381.4 575.5,375.7 578.8,368.2 575.5,365.8 570.5,360.5 572.2,356.4 575.5,352.3 579.6,350.6 575.5,349.8 568.9,350.6 562.3,349.8 556.5,350.6 554,346.5 557.3,341.6 562.3,337.5 563.9,332.5 562.3,327.6 564.8,323.4 560.6,325.1 555.7,322.6 557.3,318.5 558.2,313.6 552.4,315.2 549.1,312.7 550.7,307.8 554.9,305.3 555.7,301.2 552.4,297.1 549.1,291.3 550.7,288.8 555.7,289.7 559,295.4 559.8,290.5 562.3,285.5 566.4,283.1 568.9,276.5Z" fill="#E6E6E6" stroke="#141414" stroke-width="1.1" stroke-linejoin="round"/>
<path d="M547.5,275.7 552.4,273.2 559,270.7 559.8,274 555.7,278.1 550.7,281.4 547.5,280.6Z" fill="#E6E6E6" stroke="#141414" stroke-width="1.1" stroke-linejoin="round"/>
<path d="M540.9,284.7 544.2,284.7 542.5,291.3 540,297.9 537.6,298.7 539.2,292.1Z" fill="#E6E6E6" stroke="#141414" stroke-width="1.1" stroke-linejoin="round"/>
<path d="M543.3,325.9 549.1,321.8 554,320.1 552.4,324.3 547.5,327.6 544.2,329.2Z" fill="#E6E6E6" stroke="#141414" stroke-width="1.1" stroke-linejoin="round"/>
<path d="M550.7,335 555.7,328.4 558.2,330.9 554,335.8Z" fill="#E6E6E6" stroke="#141414" stroke-width="1.1" stroke-linejoin="round"/>
<path d="M555.7,363 559.8,358.9 561.5,360.5 558.2,365.5Z" fill="#E6E6E6" stroke="#141414" stroke-width="1.1" stroke-linejoin="round"/>
<path d="M592.8,264.9 596.9,261.6 601,262.5 600.2,267.4 596.1,272.4 592.8,269.9Z" fill="#E6E6E6" stroke="#141414" stroke-width="1.1" stroke-linejoin="round"/>
<path d="M554.9,380.3 558.2,379.5 560.3,382.8 557.3,384.4 554.9,382.8Z" fill="#E6E6E6" stroke="#141414" stroke-width="1.1" stroke-linejoin="round"/>
<path d="M615.9,237.3 620.8,234.7 624.1,235.6 620.2,243.9 616.9,247.2Z" fill="#E6E6E6" stroke="#141414" stroke-width="1.1" stroke-linejoin="round"/>
<path d="M594.4,262 600.4,262 599.4,268.6 595.1,267.6Z" fill="#E6E6E6" stroke="#141414" stroke-width="1.1" stroke-linejoin="round"/>
<path d="M605,14.8 610.9,12.5 613.6,13.8 609.3,15.8Z" fill="#E6E6E6" stroke="#141414" stroke-width="1.1" stroke-linejoin="round"/>
<path d="M515.3,335 521.1,334.2 527.7,333.8 532.6,334.2 531.8,337.5 526.9,342.4 521.1,345.7 517.8,349.8 521.1,354.8 526,356.4 531,354.8 535.1,357.2 538.4,361.3 535.9,365.5 536.7,372.1 535.9,378.6 535.1,385.2 532.6,391.8 531.8,392.1 527.7,397.9 522.7,399.5 517.8,398.7 512.8,400.4 506.3,402 499.7,403.7 493.1,404.5 486.5,404.5 480.7,402.8 482.4,399.5 479.1,395.4 476.6,392.1 479.9,388.8 478.2,386.4 484,386.4 489,382.2 493.1,380.6 489.8,378.1 494.7,374 498,372.4 500.5,368.2 497.2,366.6 493.1,363.3 488.1,360.5 493.1,358.9 498,354.8 497.2,351.5 493.1,352.3 490.6,349.8 494.7,345.7 499.7,345.7 503.8,349.8 508.7,349 514.5,344.9 517,341.6 513.7,342.4 512,338.3Z" fill="url(#hatch)" stroke="#141414" stroke-width="1.1" stroke-linejoin="round"/>
<path d="M517.8,349.8 521.1,345.7 526.9,342.4 532.6,338.3 537.6,337.1 543.3,338.3 545.8,342.4 547.5,349 549.1,352.3 547.5,356.4 542.5,359.7 538.4,361.3 535.1,357.2 531,354.8 526,356.4 521.1,354.8Z" fill="#E6E6E6" stroke="#141414" stroke-width="1.1" stroke-linejoin="round"/>
<path d="M380,800 394.5,789.6 400.8,784.9 410.1,777.6 421.5,774.5 431.9,771.9 440.2,769.8 446.4,762.6 454.7,753.2 459.9,742.8 464.1,735.6 469.3,735.1 473.9,734.5 474.5,739.7 477.6,746 482.8,751.1 485.7,751.5 498.9,754.8 512.1,754.1 515.4,759.1 526.9,761.4 538.4,757.4 550,751.5 561.5,747.5 571.4,742.6 584.6,740.9 597.7,739.3 610.9,737.6 624.1,738.3 637.3,737.6 650.5,740.9 657.1,743.6 667,739.3 676.8,737 690,737 703.2,739.3 716.4,736 729.6,731.7 736.2,734.3 746.1,737.6 752.6,742.6 750,749.2 745.7,753.8 748,760.4 752.3,767.3 754.6,773.9 751.3,783.1 749,790.4 749,810.1 380,850Z" fill="#E6E6E6" stroke="#141414" stroke-width="1.1" stroke-linejoin="round"/>
<path d="M526.9,761.4 530.2,770.6 531.8,780.5 530.2,793.7" fill="none" stroke="#141414" stroke-width="1.15" stroke-linejoin="round"/>
<path d="M716.4,736 709.8,744.2 706.5,754.1 707.2,767.3 709.8,780.5 704.9,793.7" fill="none" stroke="#141414" stroke-width="1.15" stroke-linejoin="round"/>
<path d="M944.4,312.5 949,313.3 954.8,314.2 958.9,313.3 962.2,317.5 967.1,313.3 973.7,313.3 978.6,317.5 981.9,325.7 985.2,333.9 991.8,338.9 999.2,343.8 1001.7,347.9 1008.3,348.8 1014.1,352.9 1011.6,358.6 1006.7,361.1 1000.1,362.8 1000.1,367.7 1003.4,371.8 1009.1,382.1" fill="none" stroke="#141414" stroke-width="1.15" stroke-linejoin="round"/>
<path d="M1009.1,382.1 1017.3,377.1 1025.5,372.2 1033.8,370.5 1042,377.1 1045.3,383.7 1048.6,388 1056.8,387 1063.4,393.6 1070,400.2 1081.6,396.9 1091.4,391.9 1103,396.9 1119.5,395.2 1131,395.2 1134.3,401.8 1135.3,410.1 1139.2,421.6 1140.9,428.2 1135.9,433.1 1127.7,438.1 1124.4,446.3 1127.7,451.3 1134.3,448" fill="none" stroke="#141414" stroke-width="1.15" stroke-linejoin="round"/>
<path d="M1009.1,382.1 999.2,385.4 1000.8,401.8 990.9,403.5 984.3,401.8 977.7,405.1 969.5,403.5 962.9,408.4 954.7,405.1 944.8,406.8 931.6,406.8 921.7,410.1 915.1,415 911.8,418.3" fill="none" stroke="#141414" stroke-width="1.15" stroke-linejoin="round"/>
<path d="M967.3,477.9 972.3,473.3 978.9,471.3 987.1,474.1 995.4,475.8 1001.9,477.4 1003.6,483.2 1008.5,488.1 1013.5,491.4 1016.8,496.4 1020.9,503.8 1015.1,505.4 1008.5,507.9 1006.9,512.8 1007.7,517.8 1003.6,524.4 1001.1,529.3" fill="none" stroke="#141414" stroke-width="1.15" stroke-linejoin="round"/>
<path d="M873.1,564.8 874.3,573.9 878.8,581.8 876.5,588.6 878.8,594.2 872,596.5 867.5,603.2 866.4,610 868.6,616.8" fill="none" stroke="#141414" stroke-width="1.15" stroke-linejoin="round"/>
<path d="M872,596.5 878.8,599.9 885.6,604.4 892.3,606.6 896.9,601 903.6,598.7 910.4,603.2 914.9,607.8 912.7,613.4 908.1,617.9 902.5,623.6" fill="none" stroke="#141414" stroke-width="1.15" stroke-linejoin="round"/>
<path d="M892.3,606.6 890.1,612.3 885.6,613.4 882.2,620.2 881,627" fill="none" stroke="#141414" stroke-width="1.15" stroke-linejoin="round"/>
<path d="M868.8,618.2 874.3,615.7 878.8,614.5 882.2,620.2" fill="none" stroke="#141414" stroke-width="1.15" stroke-linejoin="round"/>
<path d="M890.1,612.3 894.6,614.5 898,619.1 902.5,623.6 900.2,630.4 902.5,639.4 905.9,643.9" fill="none" stroke="#141414" stroke-width="1.15" stroke-linejoin="round"/>
<path d="M908.1,617.9 914.9,614.5 924,612.3 930.7,616.8" fill="none" stroke="#141414" stroke-width="1.15" stroke-linejoin="round"/>
<g clip-path="url(#k1)">
<path d="M752.1,282.9 749.1,279.6 746.1,280.4 742.5,275.5 741.2,268.9 742.2,262.3 740,268.9 740,275.5 736.7,280.4 732.6,282.9 727.7,285.4 723.6,290.3 717.8,295.2 711.2,299.4 705.4,301 699.7,299.4 694.7,295.2 689.8,290.3 686.5,285.4 688.1,280.4 691.4,277.1 689.8,272.2 685.7,268.9 686.5,263.9 691.4,257.3 686.5,259 684,254 682.4,247.5 684.8,240.9 683.2,235.9 685.7,231 685.7,224.4 687.3,217.8 691.4,213.7 690.6,209.5 697.2,208.7 698.8,204.6 703,200.5 709.5,196.4 717,194.7 717.8,190.6 714.5,188.1 719.4,186.5 722.7,180.7 726,185.7 732.6,182.4 735.1,176.6 737.6,170 738.1,170.6 742.3,166.4 745.4,163.3 742.3,162.3 742.3,159.2 744.9,157.1 748.5,156.6 752.7,152.9 754.2,148.8 755.8,143.6 757.3,139.4 758.9,134.3 762,129.1 763,123.9 765.1,118.7 768.2,114.5 771.3,109.3 774.5,104.2 777.6,101 775.7,94.7 779.8,91.6 784,90.6 784.5,86.4 782.9,83.3 778.8,84.4 773.6,87 768.4,88.5 764.3,89.6 763.2,88 766.3,85.9 771.5,84.4 775.7,82.3 778.8,79.7 775.7,81.2 771.5,82.3 768.9,79.2 770.5,76.1 773.6,71.9 776.2,74 778.3,68.8 780.3,65.7 781.4,67.8 780.3,71.9 781.9,75 784,71.9 786.6,70.9 787.6,74.5 790.2,71.9 792.3,67.8 789.7,66.7 788.7,62.6 790.2,59.4 793.8,58.4 797.5,60 795.9,56.3 796.4,52.2 798,48 800.6,44.9 802.7,44.4 805.8,49.1 808.9,51.1 811.5,54.8 813,50.1 816.2,47 820.3,45.4 818.2,40.8 819.3,38.7 823.4,38.2 827.6,34.5 831.7,31.4 835.9,28.3 838,25.2 840,21 842.6,18.1 843.4,33 845.9,23.1 849.2,19.8 851.7,26.4 854.2,16.5 857.5,14 861.6,16.5 862.4,23.1 865.7,18.1 872.3,17.3 878.9,19 881.3,21.4 877.2,27.2 874.8,31.3 880.5,33 887.1,33.8 887.1,33.8 886.3,38.2 882.2,39.5 878.9,46.1 876.4,49.4 876.4,49.4 875.6,39.5 869,37.1 862.4,33.8 852.5,39.5 851.7,47.8 852.5,57.7 850.9,67.6 845.9,66.7 845.2,66.7 840,65.7 834.8,69.8 829.7,68.8 825.5,63.6 821.9,59.4 819.3,60.5 816.2,65.2 816.2,65.2 812.5,67.8 813,75 812,80.2 806.8,78.7 800.6,79.2 798.5,82.3 797.5,89.6 792.3,90.6 788.1,95.8 784.8,103.1 786.9,111.4 783.8,118.7 782.2,126 780.2,130.1 775.5,130.6 773.9,133.2 774.5,141.5 773.9,152.9 771.3,158.1 768.8,162.3 772.9,168.5 771.3,174.7 766.2,173.7 761,176.8 755.7,184.8 754.9,191.4 755.7,203 757.3,211.2 757,219.4 759.8,226.9 763.1,233.4 759.8,239.2 761.5,247.5 761,257.3 756.5,263.1 754.9,270.5 753.2,277.1 752.1,282.9Z M757.5,94.7 759.6,91.6 761.7,90.6 760.6,93.7 758.5,96.3Z M819.3,30.4 822.4,28.8 826.5,26.7 828.1,28.3 825.5,31.9 821.9,33.5 819.8,32.5Z M842.6,31.4 843.7,26.2 845.2,22.1 847.3,20 848.3,23.1 846.3,28.3 844.2,34.5Z" fill="#DD9838"/>
<path d="M679.9,137 679.9,213.7 691.4,213.7 697.2,217 703,218.6 708.7,217 714.5,212.8 721.1,210.4 727.7,208.7 732.6,211.2 735.9,205.4 740.9,204.6 745.8,205.4 750.7,210.4 759,211.2 772.2,179.9 772.2,137Z" fill="#EAB858"/>
<path d="M725.9,155.2 753.9,152.6 773.7,152.6 956.6,152.6 956.6,16.8 725.9,16.8Z" fill="#F0D678"/>
<path d="M713.7,240 717.8,238.4 726,243.3 729.3,247.5 735.1,246.6 737.6,251.6 742.5,252.4 746.6,247.5 751.6,252.4 754,259 762.3,263.1 762.3,288.6 719.4,306.8 697.2,301.8 697.2,293.6 698,285.4 700.5,278.8 703,272.2 705.4,264.8 711.2,255.7 710.4,247.5Z" fill="#CF6B23"/>
<path d="M691.4,213.7 697.2,217 703,218.6 708.7,217 714.5,212.8 721.1,210.4 727.7,208.7 732.6,211.2 735.9,205.4 740.9,204.6 745.8,205.4 750.7,210.4 756.5,211.2" fill="none" stroke="#6f6a64" stroke-width="0.9" stroke-linejoin="round"/>
<path d="M708.7,217 712.8,222.7 717.8,229.3 717,238.4 713.7,240 710.4,247.5 711.2,255.7 705.4,264.8 700.5,262.3" fill="none" stroke="#6f6a64" stroke-width="0.9" stroke-linejoin="round"/>
<path d="M713.7,240 717.8,238.4 726,243.3 729.3,247.5 735.1,246.6 737.6,251.6 742.5,252.4 746.6,247.5 751.6,252.4 754,259 756.5,263.1" fill="none" stroke="#6f6a64" stroke-width="0.9" stroke-linejoin="round"/>
<path d="M705.4,264.8 703,272.2 700.5,278.8 698,285.4 697.2,293.6" fill="none" stroke="#6f6a64" stroke-width="0.9" stroke-linejoin="round"/>
<path d="M711.2,255.7 719.4,255.7 726,259.8 730.1,268.9 735.9,272.2 740,268.9" fill="none" stroke="#6f6a64" stroke-width="0.9" stroke-linejoin="round"/>
<path d="M705.4,264.8 708.7,268.9 710.4,277.1 714.5,280.4 721.1,283.7 725.2,280.4 727.7,285.4" fill="none" stroke="#6f6a64" stroke-width="0.9" stroke-linejoin="round"/>
<path d="M753.9,152.6 763.8,151.3 773.7,152.6" fill="none" stroke="#6f6a64" stroke-width="0.9" stroke-linejoin="round"/>
</g>
<g clip-path="url(#k2)">
<path d="M752.1,282.9 748.6,280.7 749.4,288.1 751.9,296.4 755.2,304.6 758.5,312 762.6,319.4 765.9,325.2 768.4,330.1 769.2,333.4 766.7,335.9 767.9,340.9 770,347.5 770.9,350.7 770,354 773.3,354.9 779.1,354 784,352.4 786.5,349.1 786.5,344.2 789.8,340.9 795.6,339.2 802.2,338.4 805.5,335.1 807.1,329.3 808.8,324.4 809.1,317.8 810.7,311.2 810.1,304.6 810.7,298 811.7,291.4 812.1,286.5 815.4,283.2 819.5,279.1 823.6,276.6 827.7,272.5 829.4,270 831.4,260.7 828.1,254.1 821.5,245.9 814.9,240.9 810,232.7 807.6,222.8 810,212.9 811.6,204.7 816.5,194.8 821.5,184.9 828.1,175 833,165.1 836.3,156.9 839.6,147 842.9,137.1 844.6,130.5 849.5,128.9 856.1,127.2 853.8,119 851.2,109.1 847.9,99.2 845.2,94.7 843.1,87.5 840,81.2 833.8,76.6 826.5,72.9 819.3,68.8 816.2,65.2 812.5,67.8 813,75 812,80.2 806.8,78.7 800.6,79.2 798.5,82.3 797.5,89.6 792.3,90.6 788.1,95.8 784.8,103.1 786.9,111.4 783.8,118.7 782.2,126 780.2,130.1 775.5,130.6 773.9,133.2 774.5,141.5 773.9,152.9 771.3,158.1 768.8,162.3 772.9,168.5 771.3,174.7 766.2,173.7 761,176.8 755.7,184.8 754.9,191.4 755.7,203 757.3,211.2 757,219.4 759.8,226.9 763.1,233.4 759.8,239.2 761.5,247.5 761,257.3 756.5,263.1 754.9,270.5 753.2,277.1Z M809.6,332.6 811.2,324.4 813.7,316.1 815.4,311.2 815,317.8 813.7,326 811.2,334.3Z M826.9,305.4 831,299.7 838.4,295.5 836.8,303 834.3,309.5 830.2,317 827.7,311.2Z" fill="#A62C1A"/>
<path d="M781.3,127.9 791.8,132.2 805,137.1 818.2,145.4 831.4,142.1 844.6,143.7 844.6,175 826.4,176.7 821.5,180 811.6,171.7 803.4,175 795.1,168.4 783.6,163.5 773.7,155.2 772.1,142.1 775.4,130.5Z" fill="#C44A18"/>
<path d="M759.8,239.2 764.8,237.6 768.9,243.3 773.8,249.1 778.8,254 782.1,258.2 782.9,268.9 782.1,277.1 777.1,278.8 772.2,285.4 767.2,282.1 762.3,277.1 756.5,275.5 752.4,275.5 754.9,263.1 761,257.3 759,247.5Z" fill="#C44A18"/>
<path d="M754.8,309.3 761,312.4 765.2,315.6 770.4,319.7 776.6,322.3 773.5,325.4 774,330.1 775.5,332.7 769.3,335.3 766.2,334.2 763.1,323.9 756.9,315.6Z" fill="#C44A18"/>
<path d="M787.5,334.2 793.2,335.3 798.4,333.2 803.5,332.2 806.1,336.3 801.5,339.9 795.2,341 791.1,341.5 787,341.5Z" fill="#C44A18"/>
<path d="M807.1,335.9 817,309.5 840.1,293.1 840.1,319.4 812.1,335.9Z" fill="#C44A18"/>
<path d="M781.3,127.9 791.8,132.2 805,137.1 818.2,145.4 831.4,142.1 839.6,143.7" fill="none" stroke="#6f6a64" stroke-width="0.9" stroke-linejoin="round"/>
<path d="M773.7,155.2 783.6,163.5 795.1,168.4 803.4,175 811.6,171.7 821.5,180 826.4,176.7" fill="none" stroke="#6f6a64" stroke-width="0.9" stroke-linejoin="round"/>
<path d="M759.8,239.2 764.8,237.6 768.9,243.3 773.8,249.1 778.8,254 782.1,258.2 782.9,268.9 782.1,277.1 777.1,278.8 772.2,285.4 767.2,282.1 762.3,277.1 756.5,275.5" fill="none" stroke="#6f6a64" stroke-width="0.9" stroke-linejoin="round"/>
<path d="M757.3,211.2 765.6,214.5 770.5,222.7 780.4,225.2 788.6,226.9 795.2,234.3 801.8,240.9 800.2,245.8 806.8,252.4 811.7,242.5" fill="none" stroke="#6f6a64" stroke-width="0.9" stroke-linejoin="round"/>
<path d="M782.1,258.2 791.9,255.7 795.2,267.2 796.9,275.5 791.9,282.1 785.4,287 777.1,303.5" fill="none" stroke="#6f6a64" stroke-width="0.9" stroke-linejoin="round"/>
<path d="M791.9,255.7 796.9,253.2 806.8,252.4 808.4,265.6 801.8,268.9 796.9,275.5" fill="none" stroke="#6f6a64" stroke-width="0.9" stroke-linejoin="round"/>
<path d="M808.4,265.6 815,267.2 813.4,275.5 816.7,280.4" fill="none" stroke="#6f6a64" stroke-width="0.9" stroke-linejoin="round"/>
<path d="M823.3,252.4 821.6,259 815,267.2" fill="none" stroke="#6f6a64" stroke-width="0.9" stroke-linejoin="round"/>
<path d="M788.6,226.9 783.7,219.4 788.6,211.2 783.7,207.1 785.4,203 795.2,199.7 801.8,194.7 795.2,188.1 790.3,181.5 796.9,174.9 796.9,170" fill="none" stroke="#6f6a64" stroke-width="0.9" stroke-linejoin="round"/>
<path d="M788.6,211.2 798.5,210.4 810.1,211.2" fill="none" stroke="#6f6a64" stroke-width="0.9" stroke-linejoin="round"/>
<path d="M770.9,319.4 777.5,299.7 785.7,289.8 785.7,284.8 795.6,279.9 798.9,273.3" fill="none" stroke="#6f6a64" stroke-width="0.9" stroke-linejoin="round"/>
<path d="M785.7,289.8 792.3,299.7 797.2,304.6 798.9,311.2 792.3,316.1 785.7,317.8 782.4,322.7 776.6,321.1" fill="none" stroke="#6f6a64" stroke-width="0.9" stroke-linejoin="round"/>
<path d="M797.2,304.6 805.5,298 810.4,296.4" fill="none" stroke="#6f6a64" stroke-width="0.9" stroke-linejoin="round"/>
<path d="M774.2,331.8 782.4,331 789.8,335.9 795.6,333.4 802.2,331.8 807.1,332.6" fill="none" stroke="#6f6a64" stroke-width="0.9" stroke-linejoin="round"/>
<path d="M798.9,311.2 800.5,319.4 798.9,326 802.2,331.8" fill="none" stroke="#6f6a64" stroke-width="0.9" stroke-linejoin="round"/>
</g>
<g clip-path="url(#k3)">
<path d="M918,225.3 909,229.4 902.4,232.7 895.8,236 889.2,239.3 882.6,243.4 876.9,247.6 872.7,250 870.3,246.7 864.5,248.4 860.4,245.9 855.4,245.9 851.3,240.1 850.5,234.4 849.7,229.4 847.2,219.5 844.7,208 842.2,198.1 840.6,189.9 843.9,183.3 847.2,180.7 850.5,174.2 853,169.2 858.7,165.1 861.2,159.3 863.7,152.7 866.1,146.1 869.4,141.2 869.1,135.4 866.1,130.5 861.2,128.3 856.3,127.2 853.8,119 851.2,109.1 847.9,99.2 845.2,94.7 843.1,87.5 840,81.2 833.8,76.6 826.5,72.9 819.3,68.8 816.2,65.2 819.3,60.5 821.9,59.4 825.5,63.6 829.7,68.8 834.8,69.8 840,65.7 845.2,66.7 845.9,66.7 850.9,67.6 852.5,57.7 851.7,47.8 852.5,39.5 862.4,33.8 869,37.1 875.6,39.5 876.4,49.4 876.4,56 878,65.1 885.5,70.9 892.1,77.5 893.7,82.4 892.1,92.3 893.7,98.9 900.3,105.5 906.1,115.4 906.9,118.6 908.5,126.9 908.2,129.7 912.3,135.4 917.2,141.2 920.8,147 920.5,152.7 928.8,157.7 935.4,163.4 938.6,167.6 937.3,175.8 935.4,184 932.9,192.3 930.4,198.9 927.1,207.1 923,215.4 918.9,222.8Z M835.7,245.9 840.6,244.3 846.4,248.4 844.7,251.7 839.8,250.9Z" fill="#F0D678"/>
<path d="M859.5,165.1 863.7,163.4 869.4,165.9 874.4,172.5 877.7,169.2 883.4,170 885.1,163.4 887.6,156.9 890,149.4 888.4,142.8 887.6,136.3 890.9,132.1 897.5,127.2 904,121.4 912.3,119.8 912.3,109.9 902.4,100 896.6,102.5 890.9,104.9 892.5,109.9 890.9,115.7 885.1,117.3 881.8,121.4 876,123.1 869.4,124.7 866.1,127.2 853,127.2Z" fill="#EAB858"/>
<path d="M857.1,167.6 862.8,163.4 869.4,165.9 874.4,172.5 873.6,179.1 867.8,178.3 863.7,175 861.2,170Z" fill="#CF6B23"/>
<path d="M844.7,208 855.4,204.7 859.5,200.6 869.4,195.7 874.4,198.1 877.7,201.4 883.4,213 885.9,215.4 883.4,218.7 876.9,222 869.4,226.1 864.5,229.4 850.5,231.1 844.7,221.2Z" fill="#EAB858"/>
<path d="M883.4,213 891.7,206.4 896.6,210.5 897.5,215.4 900.7,222.8 897.5,225.3 887.6,227 883.4,225.3 877.7,231.1 869.4,226.1 876.9,222 883.4,218.7 885.9,215.4Z" fill="#DD9838"/>
<path d="M848,231.1 864.5,229.4 869.4,226.1 877.7,231.1 883.4,225.3 887.6,227 897.5,225.3 900.7,222.8 905.7,227.8 907.3,234.4 869.4,257.5 844.7,250.9Z" fill="#DD9838"/>
<path d="M897.5,215.4 904,213.8 909,217.1 917.2,203.1 925.5,199.8 930.4,194 938.6,196.5 922.2,227.8 907.3,234.4 905.7,227.8 900.7,222.8Z" fill="#EAB858"/>
<path d="M866.1,127.2 869.4,124.7 876,123.1 881.8,121.4 885.1,117.3 890.9,115.7 892.5,109.9 890.9,104.9 896.6,102.5" fill="none" stroke="#6f6a64" stroke-width="0.9" stroke-linejoin="round"/>
<path d="M904,121.4 897.5,127.2 890.9,132.1 887.6,136.3 888.4,142.8 890,149.4 887.6,156.9 885.1,163.4 883.4,170 877.7,169.2 874.4,172.5 873.6,179.1 867.8,178.3 863.7,175 861.2,170 857.1,167.6" fill="none" stroke="#6f6a64" stroke-width="0.9" stroke-linejoin="round"/>
<path d="M859.5,165.1 863.7,163.4 869.4,165.9 874.4,172.5" fill="none" stroke="#6f6a64" stroke-width="0.9" stroke-linejoin="round"/>
<path d="M887.6,156.9 897.5,157.7 904.9,156.9 913.9,153.6 920.5,152.7" fill="none" stroke="#6f6a64" stroke-width="0.9" stroke-linejoin="round"/>
<path d="M904.9,156.9 909.8,165.9 914.8,175.8 913.1,181.6 915.6,189.8 909,189.8 900.7,188.2 895.8,189.8 892.5,182.4 887.6,177.5 885.1,163.4" fill="none" stroke="#6f6a64" stroke-width="0.9" stroke-linejoin="round"/>
<path d="M913.1,181.6 922.2,185.7 928.8,193.9 932.9,192.3" fill="none" stroke="#6f6a64" stroke-width="0.9" stroke-linejoin="round"/>
<path d="M895.8,189.8 893.3,195.6 897.5,205.5 899.1,213.7 905.7,214.5 912.3,208.8 922.2,202.2 928.8,193.9" fill="none" stroke="#6f6a64" stroke-width="0.9" stroke-linejoin="round"/>
<path d="M873.6,179.1 871.1,182.4 875.2,192.3 869.4,195.6 860.4,199.7 855.4,202.2 848.8,207.9" fill="none" stroke="#6f6a64" stroke-width="0.9" stroke-linejoin="round"/>
<path d="M853,172.5 855.4,180.7 853,189 848,192.3 848.8,207.9" fill="none" stroke="#6f6a64" stroke-width="0.9" stroke-linejoin="round"/>
<path d="M875.2,192.3 878.5,202.2 883.4,212.1 890.9,206.3 897.5,205.5" fill="none" stroke="#6f6a64" stroke-width="0.9" stroke-linejoin="round"/>
<path d="M848.8,207.2 855.4,204.7 859.5,200.6 869.4,195.7 874.4,198.1 877.7,201.4 883.4,213 891.7,206.4 896.6,210.5 897.5,215.4 904,213.8 909,217.1 917.2,203.1 925.5,199.8 930.4,194" fill="none" stroke="#6f6a64" stroke-width="0.9" stroke-linejoin="round"/>
<path d="M859.5,200.6 858.7,209.7 861.2,217.9 864.5,229.4 850.5,231.1" fill="none" stroke="#6f6a64" stroke-width="0.9" stroke-linejoin="round"/>
<path d="M864.5,229.4 869.4,226.1 876.9,222 883.4,218.7 885.9,215.4 883.4,213" fill="none" stroke="#6f6a64" stroke-width="0.9" stroke-linejoin="round"/>
<path d="M869.4,226.1 877.7,231.1 883.4,225.3 887.6,227 897.5,225.3 900.7,222.8 897.5,215.4" fill="none" stroke="#6f6a64" stroke-width="0.9" stroke-linejoin="round"/>
<path d="M900.7,222.8 905.7,227.8 905.7,231.1" fill="none" stroke="#6f6a64" stroke-width="0.9" stroke-linejoin="round"/>
<path d="M877.7,231.1 876,239.3 872.7,250" fill="none" stroke="#6f6a64" stroke-width="0.9" stroke-linejoin="round"/>
<path d="M909,217.1 912.3,222.8 918.9,222.8" fill="none" stroke="#6f6a64" stroke-width="0.9" stroke-linejoin="round"/>
</g>
<g clip-path="url(#k4)">
<path d="M926.7,247.4 922.6,248.2 916,250.7 909.4,249.9 902.8,249.9 897.9,252.4 893,254 888.8,254.8 884.7,259 880.6,262.2 879.8,266.4 881.4,272.1 884.7,275.4 888.8,277.9 893,278.7 893.8,281.2 895.4,287 899.5,284.5 904.5,282.8 909.4,284.5 914.4,287 918.5,289.4 924.3,287.8 930.9,287.8 931.7,281.2 929.2,275.4 926.7,269.7 924.3,263.1 925.9,256.5Z M865.8,281.2 869.9,278.7 875.7,276.3 880.6,275.4 879.8,278.7 875.7,282 871.5,286.1 868.2,287.8 866.6,284.5Z M868.2,270.5 872.4,267.2 875.7,269.7 874.8,273 870.7,274.6Z" fill="#C44A18"/>
<path d="M863.3,289.4 881.4,272.1 880.6,263.1 884.7,259 902.8,249.9 914.4,251.5 915.2,261.4 925.1,263.1 932.5,287.8 918.5,289.4 916.9,279.5 912.7,277.1 909.4,277.9 901.2,269.7 899.5,261.4 893,259.8 888,271.3 884.7,275.4 869.9,292.7Z" fill="#CF6B23"/>
<path d="M900.4,259 906.1,257.3 908.6,263.1 906.1,269.7 900.4,270.5 899.5,264.7Z" fill="#DD9838"/>
<path d="M915.2,261.4 916.9,253.2 922.6,248.2 927.6,246.6 925.9,256.5 924.3,263.1Z" fill="#A62C1A"/>
<path d="M909.4,277.9 912.7,277.1 916.9,279.5 917.7,284.5 914.4,287 909.4,284.5Z" fill="#C44A18"/>
<path d="M868.2,270.5 872.4,267.2 875.7,269.7 874.8,273 870.7,274.6Z" fill="#DD9838"/>
<path d="M884.7,259 888,264.7 887.2,271.3 884.7,275.4" fill="none" stroke="#6f6a64" stroke-width="0.9" stroke-linejoin="round"/>
<path d="M888,264.7 893,259.8 899.5,261.4 901.2,269.7 900.4,270.5 895.4,272.1 893,278.7" fill="none" stroke="#6f6a64" stroke-width="0.9" stroke-linejoin="round"/>
<path d="M902.8,249.9 903.7,257.3 900.4,259" fill="none" stroke="#6f6a64" stroke-width="0.9" stroke-linejoin="round"/>
<path d="M914.4,251.5 915.2,261.4 925.1,263.1" fill="none" stroke="#6f6a64" stroke-width="0.9" stroke-linejoin="round"/>
<path d="M915.2,261.4 908.6,263.1 906.1,269.7 909.4,277.9 901.2,269.7" fill="none" stroke="#6f6a64" stroke-width="0.9" stroke-linejoin="round"/>
<path d="M909.4,277.9 916.9,279.5 922.6,273 926.7,269.7" fill="none" stroke="#6f6a64" stroke-width="0.9" stroke-linejoin="round"/>
<path d="M916.9,279.5 918.5,289.4" fill="none" stroke="#6f6a64" stroke-width="0.9" stroke-linejoin="round"/>
<path d="M912.7,277.1 909.4,284.5" fill="none" stroke="#6f6a64" stroke-width="0.9" stroke-linejoin="round"/>
</g>
<g clip-path="url(#k5)">
<path d="M895.4,287 896.3,292.7 896.6,299.3 894.6,305.1 890.5,307.6 886.4,305.9 883.9,301.8 879.8,298.5 875.7,295.2 870.7,297.7 866.6,301.8 864.1,307.6 863.3,314.2 862.5,320.7 863.3,325.7 864.9,330.3 869.9,325.7 874.8,323.2 881.4,322.1 889.7,321.1 897.9,320.4 903.7,319.1 905.3,316.6 909.4,319.1 916,321.6 922.6,322.4 927.6,325.7 931.7,327.3 935.8,324 940.7,322.4 942.4,317.5 944.4,312.5 943.2,307.6 940.7,303.4 936.6,300.1 935,294.4 933.3,289.4 930.9,287.8 924.3,287.8 918.5,289.4 914.4,287 909.4,284.5 904.5,282.8 899.5,284.5Z" fill="#C44A18"/>
<path d="M895.4,287 901.2,289.4 903.7,296 907,301 911.1,305.9 907.8,312.5 903.7,314.2 901.2,310.9 895.4,312.5 890.5,310.9 887.2,312.5 884.7,315 879,312.5 877.3,310 881.4,305.1 886.4,302.6 890.5,305.9 894.6,303.4 897.9,299.3Z" fill="#A62C1A"/>
<path d="M901.2,289.4 903.7,296 907,301 911.1,305.9 907.8,312.5 903.7,314.2 905.3,316.6" fill="none" stroke="#6f6a64" stroke-width="0.9" stroke-linejoin="round"/>
<path d="M911.1,305.9 919.3,308.4 925.9,309.2 927.6,297.7 933.3,289.4" fill="none" stroke="#6f6a64" stroke-width="0.9" stroke-linejoin="round"/>
<path d="M925.9,309.2 921,314.2 922.6,322.4" fill="none" stroke="#6f6a64" stroke-width="0.9" stroke-linejoin="round"/>
<path d="M877.3,310 881.4,315.8 889.7,314.2 903.7,314.2" fill="none" stroke="#6f6a64" stroke-width="0.9" stroke-linejoin="round"/>
<path d="M881.4,315.8 881.4,322.1" fill="none" stroke="#6f6a64" stroke-width="0.9" stroke-linejoin="round"/>
</g>
<g clip-path="url(#k6)">
<path d="M864.9,330.3 866.6,337.2 868.2,342.2 869.1,345.5 874.8,349.6 881.4,350.4 887.2,352.1 889.7,355.4 890.5,361.9 895.4,363.9 899.5,367.7 902.5,370.5 909.4,369.4 914.4,366.9 916.9,362.8 922.6,358.6 925.9,359 924.3,353.7 925.1,347.1 927.6,342.2 932.5,338 932.5,333.9 930,329.8 931.7,327.3 927.6,325.7 922.6,322.4 916,321.6 909.4,319.1 905.3,316.6 903.7,319.1 897.9,320.4 889.7,321.1 881.4,322.1 874.8,323.2 869.9,325.7Z" fill="#A62C1A"/>
<path d="M863.3,330.3 869.9,325.7 881.4,322.1 899.5,320.4 900.4,332.3 899.5,338 893,339.7 886.4,341.3 883.1,337.2 876.5,338.9 877.3,345.5 881.4,352.1 866.6,347.1Z" fill="#C44A18"/>
<path d="M872.4,325.7 879.8,323.2 883.1,329 882.2,337.2 876.5,338.9 873.2,333.9Z" fill="#CF6B23"/>
<path d="M876.5,338.9 883.1,337.2 886.4,341.3 893,345.5 888,349.6 881.4,352.1 877.3,345.5Z" fill="#CF6B23"/>
<path d="M899.5,320.4 905.3,316.6 916,321.6 922.6,322.4 927.6,325.7 922.6,326.5 914.4,329.8 907.8,334.8 906.1,338 899.5,338 900.4,332.3Z" fill="#C44A18"/>
<path d="M899.5,320.4 900.4,332.3 899.5,338 893,339.7 886.4,341.3 893,345.5 897.9,355.4 901.2,358.6 897.1,366.1" fill="none" stroke="#6f6a64" stroke-width="0.9" stroke-linejoin="round"/>
<path d="M881.4,322.1 883.1,329 882.2,337.2 876.5,338.9 871.5,332.3 872.4,325.7" fill="none" stroke="#6f6a64" stroke-width="0.9" stroke-linejoin="round"/>
<path d="M906.1,338 907.8,334.8 914.4,329.8 922.6,326.5 927.6,325.7" fill="none" stroke="#6f6a64" stroke-width="0.9" stroke-linejoin="round"/>
<path d="M906.1,338 909.4,345.5 911.1,348.8 909.4,357 901.2,358.6" fill="none" stroke="#6f6a64" stroke-width="0.9" stroke-linejoin="round"/>
<path d="M909.4,345.5 917.7,343 925.1,347.1" fill="none" stroke="#6f6a64" stroke-width="0.9" stroke-linejoin="round"/>
<path d="M911.1,348.8 916,358.6 916.9,362.8" fill="none" stroke="#6f6a64" stroke-width="0.9" stroke-linejoin="round"/>
</g>
<g clip-path="url(#k7)">
<path d="M788.2,385.3 789.9,383.7 796.5,380.4 804.7,377.1 812.1,374.6 815.4,370.5 821.2,366.4 829.4,363.1 836.9,361.4 839.3,367.2 843.4,370.5 848.4,371.3 853.3,368.8 856.6,366 865.7,367.2 878.9,365.5 889.6,364.4 890.5,361.9 895.4,363.9 899.5,367.7 902.5,370.5 902.8,371.6 906.1,381.2 910.2,392.7 906.9,399.3 904.4,405.1 910.2,409.2 911,417.5 914.3,424 919.2,432.3 920.9,438.9 915.9,445.5 911.8,453.7 907.7,461.9 910.2,471.8 909,472.1 905.2,472.1 900.3,470.5 893.7,468.8 887.1,469.7 880.5,470.5 873.9,473 869.8,475.4 865.7,472.1 861.9,469.3 858.3,472.1 853.3,470.5 849.2,465.5 842.6,463.1 839.3,459.8 834.4,458.1 828.6,455.7 826.1,459 821.2,460.6 817.1,452.4 810.5,450.7 804.7,446.6 799.8,447.9 801.4,445.5 800.6,437.2 797.3,432.3 795.7,425.7 794.8,417.5 792.4,410 787.4,405.9 789.9,397.7 790.7,391.1Z" fill="#CF6B23"/>
<path d="M848.4,371.3 851.7,379.5 849.2,386.1 857.5,393.6 855,402.6 854.2,411.7 860.7,412.5 865.7,415.8 872.3,420.7 869,429 871.5,432.3 869,435.6 864,440.5 866.5,448.8 860.7,453.7 858.3,460.3 862.4,468.5 865.7,471.8 869,476.8 888.8,476.8 887.1,465.2 884.6,452.1 892.1,438.9 888.8,433.9 887.1,422.4 889.6,412.5 901.9,405.9 904.4,405.1 911.8,399.3 911.8,381.2 905.2,363.1 889.6,361.4 856.6,363.1Z" fill="#DD9838"/>
<path d="M884.6,452.1 892.1,438.9 895.4,438.9 901.9,446.3 911.8,443.8 921.7,442.2 911.8,453.7 907.7,461.9 911.8,473.5 905.2,471.8 898.6,468.5 888.8,467.7 887.1,465.2Z" fill="#EAB858"/>
<path d="M795.7,405.9 803.1,403.4 809.7,401.8 810.5,412.5 811.3,421.6 817.1,427.3 813,429.8 808,434.8 801.4,437.2 796.5,433.9 794,425.7 793.2,417.5Z" fill="#DD9838"/>
<path d="M815.4,370.5 817.9,377.9 820.4,386.1 819.5,391.1 815.4,397.7 809.7,401.8 803.1,403.4 795.7,405.9" fill="none" stroke="#6f6a64" stroke-width="0.9" stroke-linejoin="round"/>
<path d="M820.4,386.1 826.1,389.4 834.4,383.7 842.6,386.1 849.2,386.1 851.7,379.5 848.4,371.3" fill="none" stroke="#6f6a64" stroke-width="0.9" stroke-linejoin="round"/>
<path d="M826.1,389.4 827.8,397.7 829.4,405.9 837.7,409.2 850.9,412.5 854.2,411.7 855,402.6 857.5,393.6 849.2,386.1" fill="none" stroke="#6f6a64" stroke-width="0.9" stroke-linejoin="round"/>
<path d="M857.5,393.6 869,389.4 878.9,384.5 887.1,379.5 892.1,373 889.6,364.4" fill="none" stroke="#6f6a64" stroke-width="0.9" stroke-linejoin="round"/>
<path d="M878.9,384.5 885.5,394.4 893.7,402.6 901.9,405.9" fill="none" stroke="#6f6a64" stroke-width="0.9" stroke-linejoin="round"/>
<path d="M809.7,401.8 810.5,412.5 811.3,421.6 817.1,427.3 824.5,431.5 832.7,429.8 836.9,437.2 841,436.4 842.6,427.3 845.9,419.1 850.9,412.5" fill="none" stroke="#6f6a64" stroke-width="0.9" stroke-linejoin="round"/>
<path d="M817.1,427.3 813,429.8 808,434.8 801.4,437.2" fill="none" stroke="#6f6a64" stroke-width="0.9" stroke-linejoin="round"/>
<path d="M860.7,412.5 865.7,415.8 872.3,420.7 869,429 871.5,432.3 878.9,433.9 888.8,433.9 887.1,422.4 889.6,412.5 901.9,405.9" fill="none" stroke="#6f6a64" stroke-width="0.9" stroke-linejoin="round"/>
<path d="M836.9,437.2 832.7,447.1 829.4,453.7" fill="none" stroke="#6f6a64" stroke-width="0.9" stroke-linejoin="round"/>
<path d="M841,436.4 849.2,438.9 857.5,438.9 862.4,441.3 864,440.5 869,435.6 871.5,432.3" fill="none" stroke="#6f6a64" stroke-width="0.9" stroke-linejoin="round"/>
<path d="M849.2,438.9 846.7,448.8 847.6,457 844.3,461.9" fill="none" stroke="#6f6a64" stroke-width="0.9" stroke-linejoin="round"/>
<path d="M864,440.5 866.5,448.8 873.9,453.7 878.9,450.4 884.6,452.1 892.1,438.9 888.8,433.9" fill="none" stroke="#6f6a64" stroke-width="0.9" stroke-linejoin="round"/>
<path d="M866.5,448.8 860.7,453.7 858.3,460.3 862.4,468.5" fill="none" stroke="#6f6a64" stroke-width="0.9" stroke-linejoin="round"/>
<path d="M884.6,452.1 887.1,465.2 888.8,467.7" fill="none" stroke="#6f6a64" stroke-width="0.9" stroke-linejoin="round"/>
<path d="M892.1,438.9 895.4,438.9 901.9,446.3 911.8,443.8 915.9,445.5" fill="none" stroke="#6f6a64" stroke-width="0.9" stroke-linejoin="round"/>
</g>
<g clip-path="url(#k8)">
<path d="M861.9,469.3 865.7,472.1 869.8,475.4 873.9,473 880.5,470.5 887.1,469.7 893.7,468.8 900.3,470.5 905.2,472.1 909,472.1 906.6,477.9 905.2,484.5 903.6,489.4 898.6,489.4 893.7,487 887.1,489.4 878.9,495.2 869.8,498.5 860.7,501.8 857.5,505.9 849.2,508.9 840.1,506.7 834.4,501.8 832.7,496 833.6,491.1 837.7,488.6 843.4,485.3 845.9,479.5 850,475.4 855.8,473Z" fill="#CF6B23"/>
<path d="M837.7,488.6 843.4,485.3 845.9,479.5 850,475.4 855.8,473 861.9,469.3 865.7,472.1 869.8,475.4 872.3,479.5 865.7,482.8 859.1,484.5 855.8,489.4 849.2,491.1 845.1,487.8 841,490.3Z" fill="#C44A18"/>
<path d="M831.9,489.4 837.7,488.6 841,490.3 845.1,487.8 849.2,491.1 855.8,489.4 857.5,494.4 860.7,501.8 857.5,505.9 849.2,508.9 840.1,506.7 834.4,501.8 831.9,496Z" fill="#DD9838"/>
<path d="M841,490.3 845.1,487.8 849.2,491.1 855.8,489.4 859.1,484.5 865.7,482.8 872.3,479.5 869.8,475.4" fill="none" stroke="#6f6a64" stroke-width="0.9" stroke-linejoin="round"/>
<path d="M855.8,489.4 857.5,494.4 860.7,501.8" fill="none" stroke="#6f6a64" stroke-width="0.9" stroke-linejoin="round"/>
<path d="M837.7,494.4 842.6,496 844.3,505.9" fill="none" stroke="#6f6a64" stroke-width="0.9" stroke-linejoin="round"/>
<path d="M845.1,487.8 845.9,494.4 844.3,505.9" fill="none" stroke="#6f6a64" stroke-width="0.9" stroke-linejoin="round"/>
<path d="M850,475.4 852.5,482.8 859.1,484.5" fill="none" stroke="#6f6a64" stroke-width="0.9" stroke-linejoin="round"/>
<path d="M872.3,479.5 877.2,484.5 876.4,489.4 878.9,495.2" fill="none" stroke="#6f6a64" stroke-width="0.9" stroke-linejoin="round"/>
<path d="M877.2,484.5 885.5,479.5 895.4,477.9 906.6,477.9" fill="none" stroke="#6f6a64" stroke-width="0.9" stroke-linejoin="round"/>
<path d="M885.5,479.5 887.1,489.4" fill="none" stroke="#6f6a64" stroke-width="0.9" stroke-linejoin="round"/>
</g>
<g clip-path="url(#k9)">
<path d="M903.6,489.4 898.6,489.4 893.7,487 887.1,489.4 878.9,495.2 869.8,498.5 860.7,501.8 857.5,505.9 849.2,508.9 840.1,506.7 834.4,501.8 832.7,505.9 835.2,509.2 830.3,512.5 827.8,513.3 829.4,519.1 827,524 826.1,529 823.7,531.5 827,533.9 827.8,536.4 832.7,538.9 837.7,543 843.4,547.1 847.6,549.6 854.2,548.8 860.7,547.1 864.9,545.5 869,542.2 875.6,538.9 880.5,539.7 885.5,538.9 888.8,536.4 893.7,533.9 897.8,529 899.5,522.4 901.9,515.8 904.4,509.2 906.1,503.4 910.2,499.3 914.3,494.4 910.2,491.9Z" fill="#CF6B23"/>
<path d="M839.3,529.8 845.9,526.5 852.5,527.3 851.7,537.2 857.5,538.9 862.4,542.2 860.7,547.9 847.6,550.4 845.9,543.8 840.1,538.9Z" fill="#DD9838"/>
<path d="M893.7,487.8 903.6,489.4 914.3,494.4 910.2,499.3 906.1,503.4 904.4,509.2 901.9,515.8 899.5,519.1 893.7,515.8 889.6,509.2 890.4,501 895.4,496Z" fill="#DD9838"/>
<path d="M860.7,510.9 864.9,510 867.3,513.3 864,515.8 860.7,514.2Z" fill="#DD9838"/>
<path d="M821.2,517.5 829.4,515.8 827.8,529.8 822.8,532.3 819.5,525.7Z" fill="#DD9838"/>
<path d="M839.3,506.7 837.7,512.5 842.6,517.5 849.2,515.8 852.5,508.4" fill="none" stroke="#6f6a64" stroke-width="0.9" stroke-linejoin="round"/>
<path d="M842.6,517.5 839.3,529.8 845.9,526.5 852.5,527.3 851.7,537.2 857.5,538.9 862.4,542.2 860.7,547.1" fill="none" stroke="#6f6a64" stroke-width="0.9" stroke-linejoin="round"/>
<path d="M849.2,515.8 852.5,522.4 852.5,527.3" fill="none" stroke="#6f6a64" stroke-width="0.9" stroke-linejoin="round"/>
<path d="M852.5,522.4 862.4,520.7 864,515.8 860.7,510.9 862.4,504.3" fill="none" stroke="#6f6a64" stroke-width="0.9" stroke-linejoin="round"/>
<path d="M862.4,520.7 865.7,532.3 862.4,542.2" fill="none" stroke="#6f6a64" stroke-width="0.9" stroke-linejoin="round"/>
<path d="M865.7,532.3 875.6,529.8 878.9,522.4 877.2,515.8 867.3,513.3" fill="none" stroke="#6f6a64" stroke-width="0.9" stroke-linejoin="round"/>
<path d="M875.6,529.8 878.9,535.6 875.6,538.9" fill="none" stroke="#6f6a64" stroke-width="0.9" stroke-linejoin="round"/>
<path d="M878.9,522.4 887.1,525.7 893.7,515.8 889.6,509.2 882.2,510.9 877.2,515.8" fill="none" stroke="#6f6a64" stroke-width="0.9" stroke-linejoin="round"/>
<path d="M882.2,510.9 880.5,502.6 878.9,495.2" fill="none" stroke="#6f6a64" stroke-width="0.9" stroke-linejoin="round"/>
<path d="M889.6,509.2 890.4,501 895.4,496 893.7,487.8" fill="none" stroke="#6f6a64" stroke-width="0.9" stroke-linejoin="round"/>
<path d="M887.1,525.7 890.4,532.3 893.7,533.9" fill="none" stroke="#6f6a64" stroke-width="0.9" stroke-linejoin="round"/>
<path d="M830.3,512.5 836,517.5 832.7,525.7 827,524" fill="none" stroke="#6f6a64" stroke-width="0.9" stroke-linejoin="round"/>
<path d="M832.7,525.7 839.3,529.8" fill="none" stroke="#6f6a64" stroke-width="0.9" stroke-linejoin="round"/>
</g>
<g clip-path="url(#k10)">
<path d="M649.9,435.9 653,433.3 655.6,429.6 658.2,425.5 660.8,421.3 664.4,417.2 666.5,412 667.5,406.8 668.5,402.6 671.1,403.7 675.3,402.1 680.5,398.5 685.7,396.4 690.9,395.4 694,394.9 698.1,395.4 700.2,398 700,402.6 698.1,407.3 697.1,412 694,414.6 697.6,417.2 697.1,420.8 694,425 690.9,427.6 686.7,429.6 683.6,431.2 684.6,434.8 686.2,437.9 685.7,441.6 683.1,443.1 681.5,445.2 683.1,447.3 684.6,449.9 683.6,451.4 681,451.4 678.4,449.9 680,446.2 681,444.7 678.4,441.6 674.3,440 671.1,436.9 668,435.9 664.9,435.9 661.8,436.9 658.7,437.4 655.6,439.5 652.5,437.9Z" fill="#C44A18"/>
<path d="M646.2,436.9 653,432.2 658.2,425 664.4,418.7 668.5,420.8 670.6,426.5 675.8,429.6 682.6,429.6 688.8,431.2 688.8,453.5 681,452 678.4,449.9 680,446.2 681,444.7 678.4,441.6 674.3,440 671.1,436.9 668,435.9 664.9,435.9 661.8,436.9 658.7,437.9 655.6,440 651.4,438.5Z" fill="#A62C1A"/>
<path d="M682.8,408.9 685.7,407 688.3,411 692.4,412.2 694.5,414.6 699.7,417.2 698.7,421.3 694,423.4 690.9,422.2 688.3,420.5 685.7,418.4 685.3,414.3 683,412.2Z" fill="#A62C1A"/>
<path d="M664.4,418.7 668.5,420.8 670.6,426.5 675.8,429.6 682.6,429.6" fill="none" stroke="#6f6a64" stroke-width="0.9" stroke-linejoin="round"/>
<path d="M668.5,420.8 673.2,419.3 677.4,420.8 679.4,425.5 675.8,429.6" fill="none" stroke="#6f6a64" stroke-width="0.9" stroke-linejoin="round"/>
<path d="M657.6,430.2 660.8,430.7 669.1,429.6 670.6,426.5" fill="none" stroke="#6f6a64" stroke-width="0.9" stroke-linejoin="round"/>
<path d="M660.8,430.7 660.2,436.9" fill="none" stroke="#6f6a64" stroke-width="0.9" stroke-linejoin="round"/>
<path d="M673.2,419.3 674.3,414.1 676.3,409.9 683.6,408.4 685.7,407.3 688.8,403.7 687.8,398.5" fill="none" stroke="#6f6a64" stroke-width="0.9" stroke-linejoin="round"/>
<path d="M676.3,409.9 675.3,405.8" fill="none" stroke="#6f6a64" stroke-width="0.9" stroke-linejoin="round"/>
<path d="M677.4,420.8 683.1,416.1 685.7,414.1" fill="none" stroke="#6f6a64" stroke-width="0.9" stroke-linejoin="round"/>
<path d="M683.6,408.4 683.1,412 685.7,414.1 686.2,418.2 688.8,420.3 694,422.9" fill="none" stroke="#6f6a64" stroke-width="0.9" stroke-linejoin="round"/>
<path d="M688.8,403.7 694,401.6 698.1,407.3" fill="none" stroke="#6f6a64" stroke-width="0.9" stroke-linejoin="round"/>
<path d="M682.6,429.6 681,436.9 683.1,443.1" fill="none" stroke="#6f6a64" stroke-width="0.9" stroke-linejoin="round"/>
</g>
<g clip-path="url(#k11)">
<path d="M637.8,440.6 643.6,438.1 649.9,435.8 652.5,437.9 655.6,439.5 658.7,437.4 661.8,436.9 664.9,435.9 668,435.9 671.1,436.9 674.3,440 678.4,441.6 681,444.7 680,446.2 678.4,449.9 681,451.4 683.6,451.4 685.2,454.6 686.2,457.7 687.2,460.8 685.6,462.9 681.2,464.7 679.5,466.4 678.7,470.5 679.5,475.4 677.1,478.7 673,476.3 667.2,472.1 665.5,463.1 664.7,467.2 658.1,465.5 656.5,459.8 652.4,456.5 647.4,453.2 644.9,448.2 640,447.4 638.6,447.2Z" fill="#C44A18"/>
<path d="M644.2,447.8 649.3,449.4 655.6,449.9 660.8,450.9 667,449.9 672.2,451.4 678.4,449.9" fill="none" stroke="#6f6a64" stroke-width="0.9" stroke-linejoin="round"/>
<path d="M657.1,461.8 658.7,456.6 655.6,449.9" fill="none" stroke="#6f6a64" stroke-width="0.9" stroke-linejoin="round"/>
<path d="M672.2,451.4 674.3,457.7 679.4,461.8 685.7,462.9" fill="none" stroke="#6f6a64" stroke-width="0.9" stroke-linejoin="round"/>
<path d="M658.7,456.6 666,457.7 674.3,457.7" fill="none" stroke="#6f6a64" stroke-width="0.9" stroke-linejoin="round"/>
</g>
<g clip-path="url(#k12)">
<path d="M685.6,462.9 687.8,467.2 687,473 687.8,477.9 682.8,477.1 679.5,475.4 678.7,470.5 679.5,466.4 681.2,464.7Z" fill="#C44A18"/>
</g>
<g clip-path="url(#k13)">
<path d="M700.2,398 703.4,391.9 709.2,391.1 713.3,392.7 714.2,396 716.6,392.7 718.8,388.6 721.6,384.5 720.7,379.5 719.9,373 720.3,367.2 725.7,368 733.4,368.8 733.9,370.5 736.4,373 738.9,375.4 743,377.1 747.1,378.7 747.9,382 746.3,384.5 752.1,383.7 758.6,381.2 765.2,377.9 771.8,375.4 775.9,372.1 779.2,373.8 780.1,378.7 783.4,381.2 787.5,383.7 788.2,385.3 790.7,391.1 789.9,397.7 787.4,405.9 792.4,410 794.8,417.5 795.7,425.7 797.3,432.3 800.6,437.2 801.4,445.5 799.8,447.9 794.1,445.8 790,447.4 783.4,450.7 776.8,454 770.2,457.3 763.6,460.6 764.4,463.1 766.9,468 770.2,474.6 773.5,479.5 778.4,484.5 783.4,491.1 787.8,496 782.5,501 780.1,502.6 774.3,507.6 776.8,512.5 778.4,518.3 773.5,515 768.5,515.8 761.9,517.5 755.4,519.1 748.8,521.6 745.5,519.1 738.9,520.7 737.2,524 732.3,520.7 729,520.7 722.4,517.5 717.5,516.6 715,515 710.9,518.3 705.9,517.5 701,518.3 701.3,512.5 702.6,505.9 705.1,499.3 709.2,493.6 711.7,489.4 705.9,487.8 699.3,486.1 692.7,483.7 687.8,477.9 687,473 687.8,467.2 685.6,462.9 687.2,460.8 686.2,457.7 685.2,454.6 683.6,451.4 684.6,449.9 683.1,447.3 681.5,445.2 683.1,443.1 685.7,441.6 686.2,437.9 684.6,434.8 683.6,431.2 686.7,429.6 690.9,427.6 694,425 697.1,420.8 697.6,417.2 694,414.6 697.1,412 698.1,407.3 700,402.6Z" fill="#CF6B23"/>
<path d="M715.8,364.7 733.8,366.4 738.9,375.4 747.1,378.7 749.6,382 745.5,387.8 744.6,396 740.5,397.7 735.6,392.7 729.8,389.4 724,387.8 717.5,386.1Z" fill="#DD9838"/>
<path d="M735.6,438.9 738.9,435.6 745.5,434.8 752.1,438.9 758.6,445.5 765.2,447.1 766.9,449.6 762.8,455.4 758.6,458.6 752.1,457.8 748.8,462.8 743.8,461.9 740.5,457 735.6,453.7 737.2,447.1Z" fill="#C44A18"/>
<path d="M764.4,437.2 770.2,433.9 776.8,435.6 783.4,437.2 791.6,434.8 798.2,435.6 803.1,445.5 799,449.6 793.3,446.3 788.3,450.4 781.7,454.5 775.1,457.8 770.2,460.3 765.2,462.8 763.6,455.4 766.9,449.6 765.2,447.1Z" fill="#C44A18"/>
<path d="M711.7,489.4 715.8,477.9 722.4,478.7 725.7,475.4 729.8,474.6 735.6,477.9 737.2,486.1 740.5,492.7 738.9,497.7 735.6,502.6 737.2,510.9 735.6,517.5 729,521.6 722.4,518.3 717.5,517.5 715,515.8 710.9,519.1 705.9,518.3 700.1,519.1 700.1,512.5 701.8,505.9 704.3,499.3 708.4,493.6Z" fill="#C44A18"/>
<path d="M724,387.8 729.8,389.4 735.6,392.7 740.5,397.7 744.6,396 745.5,387.8" fill="none" stroke="#6f6a64" stroke-width="0.9" stroke-linejoin="round"/>
<path d="M735.6,438.9 738.9,435.6 745.5,434.8 752.1,438.9 758.6,445.5 765.2,447.1 766.9,449.6 762.8,455.4 758.6,458.6 752.1,457.8 748.8,462.8 743.8,461.9 740.5,457 735.6,453.7 737.2,447.1 735.6,438.9" fill="none" stroke="#6f6a64" stroke-width="0.9" stroke-linejoin="round"/>
<path d="M765.2,447.1 764.4,437.2 770.2,433.9 776.8,435.6 783.4,437.2 791.6,434.8 798.2,435.6" fill="none" stroke="#6f6a64" stroke-width="0.9" stroke-linejoin="round"/>
<path d="M766.9,449.6 763.6,455.4 766.1,461.9" fill="none" stroke="#6f6a64" stroke-width="0.9" stroke-linejoin="round"/>
<path d="M711.7,489.4 715.8,477.9 722.4,478.7 725.7,475.4 729.8,474.6 735.6,477.9 737.2,486.1 740.5,492.7 738.9,497.7 735.6,502.6 737.2,510.9 735.6,517.5 732.3,520.7" fill="none" stroke="#6f6a64" stroke-width="0.9" stroke-linejoin="round"/>
<path d="M740.5,397.7 748.8,401 753.7,404.3 761.9,402.6 771.8,399.3 780.1,396 785,394.4 789.1,397.7" fill="none" stroke="#6f6a64" stroke-width="0.9" stroke-linejoin="round"/>
<path d="M753.7,404.3 745.5,409.2 748.8,419.1 743.8,429 745.5,434.8" fill="none" stroke="#6f6a64" stroke-width="0.9" stroke-linejoin="round"/>
<path d="M753.7,404.3 762.8,407.6 763.6,419.1 771.8,425.7 776.8,429 776.8,435.6" fill="none" stroke="#6f6a64" stroke-width="0.9" stroke-linejoin="round"/>
<path d="M771.8,399.3 776.8,405.9 788.3,405.9" fill="none" stroke="#6f6a64" stroke-width="0.9" stroke-linejoin="round"/>
<path d="M697.7,419.1 705.9,417.5 709.2,424 714.2,417.5 722.4,417.5 725.7,427.3 729,434.8 735.6,438.9" fill="none" stroke="#6f6a64" stroke-width="0.9" stroke-linejoin="round"/>
<path d="M729,434.8 722.4,437.2 717.5,445.5 712.5,450.4 705.9,452.1 697.7,455.4 689.4,458.6 686.1,461.9" fill="none" stroke="#6f6a64" stroke-width="0.9" stroke-linejoin="round"/>
<path d="M735.6,453.7 730.6,458.6 725.7,465.2 722.4,468.5 719.1,475" fill="none" stroke="#6f6a64" stroke-width="0.9" stroke-linejoin="round"/>
<path d="M689.4,461.4 694.4,466.4 696,473 692.7,477.9 691.1,482.8" fill="none" stroke="#6f6a64" stroke-width="0.9" stroke-linejoin="round"/>
<path d="M696,473 705.9,466.4 712.5,468 715.8,477.9" fill="none" stroke="#6f6a64" stroke-width="0.9" stroke-linejoin="round"/>
<path d="M705.9,466.4 707.6,456.5 712.5,449.9 719.1,443.3 722.4,440" fill="none" stroke="#6f6a64" stroke-width="0.9" stroke-linejoin="round"/>
<path d="M729.8,474.6 732.3,466.4 738.9,461.4 745.5,463.1 748.8,459.8" fill="none" stroke="#6f6a64" stroke-width="0.9" stroke-linejoin="round"/>
</g>
<g clip-path="url(#k14)">
<path d="M787.8,496 783.4,491.1 778.4,484.5 773.5,479.5 770.2,474.6 766.9,468 764.4,463.1 763.6,460.6 770.2,457.3 776.8,454 783.4,450.7 790,447.4 794.1,445.8 799.8,447.9 804.7,446.6 810.5,450.7 817.1,452.4 821.2,460.6 826.1,459 828.6,455.7 834.4,458.1 839.3,459.8 842.6,463.1 849.2,465.5 853.3,470.5 858.3,472.1 861.9,469.3 855.8,473 850,475.4 845.9,479.5 843.4,485.3 837.7,488.6 831.1,491.1 824.5,489.4 817.9,489.4 811.3,487.8 804.7,487 801.4,492.7 795.7,496 789.9,492.7Z" fill="#CF6B23"/>
<path d="M761.9,460.6 770.2,457.3 776.8,459.8 780.1,464.7 785,468 786.7,477.9 785,487.8 780.1,487.8 773.5,479.5 770.2,474.6 766.9,468 764.4,463.1Z" fill="#DD9838"/>
<path d="M804.7,446.6 810.5,450.7 817.1,452.4 821.2,460.6 816.3,462.2 811.3,460.6 806.4,456.5 803.1,451.5Z" fill="#DD9838"/>
<path d="M834.4,475.4 841,473 847.6,472.1 850,475.4 845.9,479.5 843.4,485.3 839.3,486.1 835.2,481.2Z" fill="#C44A18"/>
<path d="M776.8,459.8 780.1,464.7 785,468 786.7,477.9 785,487.8 780.1,487.8" fill="none" stroke="#6f6a64" stroke-width="0.9" stroke-linejoin="round"/>
<path d="M776.8,459.8 783.4,456.5 790,454.8 794.1,445.8" fill="none" stroke="#6f6a64" stroke-width="0.9" stroke-linejoin="round"/>
<path d="M785,468 793.3,464.7 801.5,468 806.4,464.7 804.8,456.5 798.2,453.2 790,454.8" fill="none" stroke="#6f6a64" stroke-width="0.9" stroke-linejoin="round"/>
<path d="M792.4,463.1 796.5,462.2 798.2,466.4 794.1,468 792.4,463.1" fill="none" stroke="#6f6a64" stroke-width="0.9" stroke-linejoin="round"/>
<path d="M786.7,477.9 794.9,476.3 803.1,477.9 808.1,473 806.4,464.7" fill="none" stroke="#6f6a64" stroke-width="0.9" stroke-linejoin="round"/>
<path d="M785,487.8 791.6,494.4 798.2,496 803.1,489.4 803.1,477.9" fill="none" stroke="#6f6a64" stroke-width="0.9" stroke-linejoin="round"/>
<path d="M803.1,451.5 806.4,456.5 811.3,460.6 816.3,462.2 821.2,460.6" fill="none" stroke="#6f6a64" stroke-width="0.9" stroke-linejoin="round"/>
<path d="M806.4,456.5 803.1,464.7 804.7,473 802.2,478.7 804.7,487" fill="none" stroke="#6f6a64" stroke-width="0.9" stroke-linejoin="round"/>
<path d="M816.3,462.2 819.5,469.7 827.8,473 834.4,475.4 835.2,481.2 839.3,486.1" fill="none" stroke="#6f6a64" stroke-width="0.9" stroke-linejoin="round"/>
<path d="M819.5,469.7 818.7,477.9 820.4,486.1 817.9,489.4" fill="none" stroke="#6f6a64" stroke-width="0.9" stroke-linejoin="round"/>
<path d="M804.7,473 813,474.6 818.7,477.9" fill="none" stroke="#6f6a64" stroke-width="0.9" stroke-linejoin="round"/>
<path d="M827.8,473 829.4,463.1 834.4,458.1" fill="none" stroke="#6f6a64" stroke-width="0.9" stroke-linejoin="round"/>
<path d="M841,473 842.6,463.1" fill="none" stroke="#6f6a64" stroke-width="0.9" stroke-linejoin="round"/>
</g>
<g clip-path="url(#k15)">
<path d="M837.7,488.6 831.1,491.1 824.5,489.4 817.9,489.4 811.3,487.8 804.7,487 801.4,492.7 795.7,496 789.9,492.7 787.8,496 782.5,501 780.1,502.6 774.3,507.6 776.8,512.5 778.4,518.3 773.5,515 768.5,515.8 761.9,517.5 755.4,519.1 748.8,521.6 745.5,519.1 738.9,520.7 737.2,524 732.3,520.7 729.8,525.7 730.6,530.6 737.2,531.5 740.5,532.3 742.2,535.6 748.8,534.8 755.4,532.3 761.9,530.6 765.2,529.8 766.9,533.9 771.8,537.2 778.4,538.9 785.8,542.2 788.2,540.5 793.2,538.9 799.8,538 806.4,536.4 813,535.6 817.9,532.3 823.7,531.5 826.1,529 827,524 829.4,519.1 827.8,513.3 830.3,512.5 835.2,509.2 832.7,505.9 834.4,501.8 832.7,496 833.6,491.1Z" fill="#CF6B23"/>
<path d="M798.2,496.9 803.1,489.4 811.4,487.8 811.3,487.8 817.9,489.4 824.5,489.4 831.1,491.1 837.7,488.6 834.4,496 835.2,509.2 830.3,512.5 827.8,513.3 826.1,517.5 819.5,518.3 813,516.6 806.4,514.2 801.4,509.2 799.8,504.3 804.7,501Z" fill="#DD9838"/>
<path d="M729,519.9 738.9,520.7 738,531.5 730.6,532.3 729,525.7Z" fill="#C44A18"/>
<path d="M798.2,496.9 803.1,489.4 811.4,487.8" fill="none" stroke="#6f6a64" stroke-width="0.9" stroke-linejoin="round"/>
<path d="M799.8,504.3 804.7,501 806.4,514.2 801.4,509.2 799.8,504.3" fill="none" stroke="#6f6a64" stroke-width="0.9" stroke-linejoin="round"/>
<path d="M806.4,514.2 813,516.6 819.5,518.3 826.1,517.5" fill="none" stroke="#6f6a64" stroke-width="0.9" stroke-linejoin="round"/>
<path d="M823.7,503.4 827,501.8 827.8,505.1 823.7,505.9 823.7,503.4" fill="none" stroke="#6f6a64" stroke-width="0.9" stroke-linejoin="round"/>
<path d="M765.2,529.8 770.2,527.3 776.8,529 785,527.3 793.3,529.8 803.1,529 808.1,532.3 814.7,532.3" fill="none" stroke="#6f6a64" stroke-width="0.9" stroke-linejoin="round"/>
<path d="M776.8,529 775.1,522.4 778.4,518.3" fill="none" stroke="#6f6a64" stroke-width="0.9" stroke-linejoin="round"/>
<path d="M793.3,529.8 794.9,522.4 801.5,519.1 804.8,512.5" fill="none" stroke="#6f6a64" stroke-width="0.9" stroke-linejoin="round"/>
<path d="M738.9,520.7 738,531.5" fill="none" stroke="#6f6a64" stroke-width="0.9" stroke-linejoin="round"/>
<path d="M748.8,534.8 752.1,527.3 761.9,525.7 770.2,527.3" fill="none" stroke="#6f6a64" stroke-width="0.9" stroke-linejoin="round"/>
<path d="M785.8,541.3 793.3,538.9 801.5,540.5 808.1,532.3" fill="none" stroke="#6f6a64" stroke-width="0.9" stroke-linejoin="round"/>
</g>
<g clip-path="url(#k16)">
<path d="M637.8,440.6 632.1,442.2 625.5,444.4 623.8,448.8 623.8,454.6 623,458.7 617.2,461.2 611.5,463.2 605.7,465.3 602.4,467.8 604,470.3 607.3,472.4 600.7,473.6 594.2,472.7 589.2,471.1 584.3,470.3 582.9,464.2 576.9,463.2 576.9,469.4 576.9,482.6 572.7,483.4 567.8,482.6 561.2,483.4 557.1,477.7 551.3,476.9 544.7,477.7 538.1,477.7 532.4,479.3 533.2,484.3 534,489.2 536.5,493.3 541.4,495 546.4,498.3 550.5,500.7 555.4,504 559.5,506.5 561.2,509.8 562,515.6 563.7,520.5 567,525.5 571.1,530.4 574.4,533.7 573.8,535 572.1,541.6 575.4,549.8 573.8,553.1 570.5,561.4 568.8,568 566.4,576.2 563.9,584.4 561.4,591 557.3,593 561.4,596.8 560.6,599.3 566.4,601.7 572.1,605 577.9,607.5 584.5,610 589.4,611.6 594.4,609.2 599.3,612.5 604.3,615.7 609.2,619 614.2,620.7 619.9,621.5 625.7,619.9 629.8,620.7 629,615.7 629.8,610 633.1,605.9 638.9,601.7 645.5,599.6 649.6,601.7 655.4,602.6 661.1,605 666.9,608.3 671.8,611.6 677.6,610.8 683.4,608.3 686.7,605 691.6,601.7 696.5,597.6 699.5,592.3 694.9,589.4 690,586.1 688.3,581.1 690,576.2 685.8,570.4 691.6,566.3 693.3,561.4 689.1,556.4 691.3,552.3 689.3,543.2 683.5,542.3 677.9,546.2 682.8,537.2 686.1,532.3 689.4,527.3 692.7,522.4 696,520.7 701,518.3 701.3,512.5 702.6,505.9 705.1,499.3 709.2,493.6 711.7,489.4 705.9,487.8 699.3,486.1 692.7,483.7 687.8,477.9 682.8,477.1 679.5,475.4 677.1,478.7 673,476.3 667.2,472.1 665.5,463.1 664.7,467.2 658.1,465.5 656.5,459.8 652.4,456.5 647.4,453.2 644.9,448.2 640,447.4 638.6,447.2Z" fill="#C44A18"/>
<path d="M529.9,474.4 576.9,474.4 576.9,482.6 581.8,489.2 581,497.5 576,500.7 567.8,503.2 561.2,506.5 557.9,509 529.9,499.1Z" fill="#CF6B23"/>
<path d="M573.6,533.7 582.6,533.7 581,525.5 579.3,519.7 585.9,518.9 594.2,518.9 599.1,523 604,530.4 609,537 617.2,537.8 624.6,537 627.3,543.2 625.7,551.5 624.9,559.7 619.1,564.7 610.9,565.5 605.9,571.3 601.8,576.2 596.9,582.8 587.8,583.6 582,586.1 580.4,591 582.8,596 580.4,600.9 577.9,607.5 572.1,605 566.4,601.7 560.6,599.3 561.4,596.8 553.2,594.3 556.5,584.4 564.7,559.7 566.4,535Z" fill="#CF6B23"/>
<path d="M619.7,481.8 623.8,479.3 630.4,481.8 637,483.4 644.4,482.6 646.1,489.2 643.6,496.6 637.8,501.6 633.7,501.6 628.8,497.5 623.8,495 620.5,488.4Z" fill="#A62C1A"/>
<path d="M576.9,482.6 581.8,489.2 581,497.5 576,500.7 567.8,503.2 561.2,506.5" fill="none" stroke="#6f6a64" stroke-width="0.9" stroke-linejoin="round"/>
<path d="M574.4,533.7 582.6,533.7 581,525.5 579.3,519.7 585.9,518.9 594.2,518.9 599.1,523 604,530.4 609,537 617.2,537.8 624.6,537" fill="none" stroke="#6f6a64" stroke-width="0.9" stroke-linejoin="round"/>
<path d="M624.5,537 627.3,543.2 625.7,551.5 624.9,559.7 619.1,564.7 610.9,565.5 605.9,571.3 601.8,576.2 596.9,582.8 587.8,583.6 582,586.1 580.4,591 582.8,596 580.4,600.9 577.9,607.5" fill="none" stroke="#6f6a64" stroke-width="0.9" stroke-linejoin="round"/>
<path d="M619.7,481.8 623.8,479.3 630.4,481.8 637,483.4 644.4,482.6 646.1,489.2 643.6,496.6 637.8,501.6 633.7,501.6 628.8,497.5 623.8,495 620.5,488.4 619.7,481.8" fill="none" stroke="#6f6a64" stroke-width="0.9" stroke-linejoin="round"/>
<path d="M623,458.7 624.6,467.8 623,476 619.7,481.8" fill="none" stroke="#6f6a64" stroke-width="0.9" stroke-linejoin="round"/>
<path d="M644.4,482.6 650.2,477.7 655.1,469.4 657.6,467" fill="none" stroke="#6f6a64" stroke-width="0.9" stroke-linejoin="round"/>
<path d="M581.8,489.2 585.9,489.2 594.2,488.4 597.5,492.5 602.4,492.5 607.3,497.5 609.8,489.2 619.7,485.1" fill="none" stroke="#6f6a64" stroke-width="0.9" stroke-linejoin="round"/>
<path d="M607.3,497.5 606.5,505.7 597.5,509.8 594.2,518.9" fill="none" stroke="#6f6a64" stroke-width="0.9" stroke-linejoin="round"/>
<path d="M637.8,501.6 635.4,509 636.2,518.9 637,530.4 624.6,537" fill="none" stroke="#6f6a64" stroke-width="0.9" stroke-linejoin="round"/>
<path d="M643.6,496.6 650.2,505.7 660.1,507.3 668.3,515.6 678.2,509.8 684.8,509 691.4,513.9 694.7,520.5" fill="none" stroke="#6f6a64" stroke-width="0.9" stroke-linejoin="round"/>
<path d="M637,530.4 643.6,533.7 648.5,541.9 656.8,543.6 663.4,540.3 671.6,543.6 679.8,541.9" fill="none" stroke="#6f6a64" stroke-width="0.9" stroke-linejoin="round"/>
<path d="M619.1,564.7 620.7,573.7 627.3,570.4 630.6,574.5 636.4,569.6 643,573.7 647.1,582.8 655.4,584.4 657.8,587.7 655.4,596 649.6,600.9" fill="none" stroke="#6f6a64" stroke-width="0.9" stroke-linejoin="round"/>
<path d="M655.4,584.4 661.9,583.6 668.5,587.7 670.2,582.8 673.5,576.2 681.7,572.1 685.8,570.4" fill="none" stroke="#6f6a64" stroke-width="0.9" stroke-linejoin="round"/>
</g>
<g clip-path="url(#k17)">
<path d="M714.7,627.3 718.8,622.3 724.6,619 727,615.7 727.9,624 728.7,632.2 725.4,640.5 722.9,647.9 718.8,643.8 715.5,635.5Z" fill="#CF6B23"/>
</g>
<g clip-path="url(#k18)">
<path d="M557.3,593 550.1,592.3 541,590 534.2,588.9 527.5,585.5 518.4,584.4 509.4,581 500.4,576.5 489.1,574.2 477.8,574.2 474.4,568.6 467.6,566.3 460.8,569.7 452.9,571.9 445,574.2 443.9,579.8 447.3,585.5 445,588.9 447.3,592.3 445,599 444.3,599.7 451.8,599 455.2,603.6 464.2,605.8 472.1,605.8 477.8,608.1 482.3,616 476.6,620.5 471,625 469.2,632.9 467.6,640.8 464.2,646.5 460.8,651 455.2,652.1 456.3,660 458.6,666.8 454,671.3 452.9,678.1 456.3,683.8 450.7,689.4 446.1,695.1 445.7,700.7 451.8,704.1 458.6,708.6 462,715.4 464.2,723.3 472.1,730.1 477.8,728.9 484.5,724.4 493.6,722.2 504.9,723.3 516.2,725.5 525.2,724.4 532,727.8 536.5,719.9 541,714.3 550.1,713.1 556.8,712 559.1,706.3 565.9,699.6 573.8,691.7 570.4,683.8 568.1,677 571.5,667.9 577.2,660 583.9,654.4 588.5,653.3 590.7,648.7 599.7,645.4 608.8,642 617.8,637.5 625.7,632.9 630.2,628.4 629.8,620.7 625.7,619.9 619.9,621.5 614.2,620.7 609.2,619 604.3,615.7 599.3,612.5 594.4,609.2 589.4,611.6 584.5,610 577.9,607.5 572.1,605 566.4,601.7 560.6,599.3 561.4,596.8Z M611,678.1 617.8,672.5 625.7,673.6 629.1,678.1 622.3,687.1 614.4,681.5Z M635.9,671.3 641.5,671.3 643.8,675.9 639.3,675.9Z M591.8,689.4 597.5,687.1 598.6,690.5 593,692.8Z" fill="#CF6B23"/>
<path d="M439.4,564 477.8,564 477.8,574.2 478.9,586.6 474.4,591.1 475.5,597.9 473.2,603.6 472.1,608.1 464.2,607 455.2,604.7 451.8,600.2 439.4,601.3Z" fill="#DD9838"/>
<path d="M477.8,568.6 489.1,570.8 500.4,574.2 509.4,578.7 516.2,583.9 509.4,588.9 500.4,588.4 489.1,588.9 478.9,586.6Z" fill="#DD9838"/>
<path d="M469.2,640.8 475.5,639.7 482.3,644.2 490.2,649.9 489.1,655.5 493.6,663.4 498.1,666.8 494.7,674.7 491.3,678.1 482.3,682.6 477.8,688.3 471,690.5 464.2,687.1 456.3,683.8 450.7,678.1 451.8,671.3 456.3,666.8 454,660 452.9,652.1 460.8,649.9 464.2,645.4 466.5,640.4Z" fill="#DD9838"/>
<path d="M571.5,652.1 577.2,649.9 586.2,652.1 581.7,661.2 574.9,667.9 571.5,677 573.8,683.8 577.2,691.7 568.1,701.8 561.3,708.6 555.7,706.3 553.4,699.6 555.7,690.5 554.6,681.5 550.1,674.7 552.3,670.2 559.1,665.7 565.9,660Z" fill="#EAB858"/>
<path d="M532,699.6 538.8,696.2 546.7,692.8 551.2,689.4 555.7,690.5 553.4,699.6 555.7,706.3 559.1,713.1 550.1,715.4 541,716.5 535.4,710.9Z" fill="#DD9838"/>
<path d="M534.2,586.6 541,587.8 550.1,590 560.2,591.1 554.6,595.7 548.9,600.2 545.5,605.8 541,607 536.5,602.4 535.4,595.7Z" fill="#C44A18"/>
<path d="M507.1,647.6 515,639.7 522.9,632.9 524.1,642 522.9,649.9 525.2,656.7 518.4,655.5 512.8,658.9 513.9,654.4 509.4,651Z" fill="#C44A18"/>
<path d="M606.5,667.9 647.2,667.9 647.2,695.1 588.5,695.1 588.5,683.8Z" fill="#EAB858"/>
<path d="M477.8,574.2 478.9,586.6 474.4,591.1 475.5,597.9 473.2,603.6 472.1,605.8" fill="none" stroke="#6f6a64" stroke-width="0.9" stroke-linejoin="round"/>
<path d="M478.9,586.6 489.1,588.9 500.4,588.4 509.4,588.9 515,583.9" fill="none" stroke="#6f6a64" stroke-width="0.9" stroke-linejoin="round"/>
<path d="M469.2,640.8 475.5,639.7 482.3,644.2 490.2,649.9 500.4,648.7 507.1,647.6 515,639.7 522.9,632.9 532,631.8 539.9,637.5 544.4,636.3" fill="none" stroke="#6f6a64" stroke-width="0.9" stroke-linejoin="round"/>
<path d="M509.4,588.9 518.4,594.5 522.9,597.9 529.7,592.3 534.2,588.9" fill="none" stroke="#6f6a64" stroke-width="0.9" stroke-linejoin="round"/>
<path d="M535.4,595.7 533.1,607 536.5,613.7 545.5,617.1 551.2,621.6 547.8,629.5 544.4,636.3" fill="none" stroke="#6f6a64" stroke-width="0.9" stroke-linejoin="round"/>
<path d="M534.2,588.9 535.4,595.7 536.5,602.4 541,607 545.5,605.8 548.9,600.2 554.6,595.7 558,592.9" fill="none" stroke="#6f6a64" stroke-width="0.9" stroke-linejoin="round"/>
<path d="M545.5,605.8 552.3,616 551.2,621.6" fill="none" stroke="#6f6a64" stroke-width="0.9" stroke-linejoin="round"/>
<path d="M554.6,595.7 565.9,604.7 568.1,599" fill="none" stroke="#6f6a64" stroke-width="0.9" stroke-linejoin="round"/>
<path d="M552.3,616 560.2,622.8 565.9,604.7" fill="none" stroke="#6f6a64" stroke-width="0.9" stroke-linejoin="round"/>
<path d="M591.8,609.2 590.7,622.8 586.2,634.1 583.9,645.4 580.5,651 577.2,649.9" fill="none" stroke="#6f6a64" stroke-width="0.9" stroke-linejoin="round"/>
<path d="M544.4,636.3 550.1,642 552.3,649.9 547.8,654.4 554.6,661.2 559.1,665.7 565.9,660 571.5,652.1 577.2,649.9" fill="none" stroke="#6f6a64" stroke-width="0.9" stroke-linejoin="round"/>
<path d="M490.2,649.9 489.1,655.5 493.6,663.4 498.1,666.8 494.7,674.7 491.3,678.1 498.1,684.9 507.1,689.4 518.4,690.5 527.5,691.7 530.9,698.4 532,699.6" fill="none" stroke="#6f6a64" stroke-width="0.9" stroke-linejoin="round"/>
<path d="M507.1,647.6 509.4,651 513.9,654.4 512.8,658.9 518.4,655.5 525.2,656.7 522.9,649.9 524.1,642 522.9,632.9" fill="none" stroke="#6f6a64" stroke-width="0.9" stroke-linejoin="round"/>
<path d="M491.3,678.1 482.3,682.6 477.8,688.3 471,690.5 464.2,687.1 456.3,683.8" fill="none" stroke="#6f6a64" stroke-width="0.9" stroke-linejoin="round"/>
<path d="M532,699.6 538.8,696.2 546.7,692.8 551.2,689.4 555.7,690.5 553.4,699.6 555.7,706.3 556.8,712" fill="none" stroke="#6f6a64" stroke-width="0.9" stroke-linejoin="round"/>
<path d="M559.1,665.7 552.3,670.2 550.1,674.7 554.6,681.5 555.7,690.5" fill="none" stroke="#6f6a64" stroke-width="0.9" stroke-linejoin="round"/>
<path d="M532,699.6 536.5,708.6 541,714.3" fill="none" stroke="#6f6a64" stroke-width="0.9" stroke-linejoin="round"/>
</g>
<g clip-path="url(#k19)">
<path d="M444.3,599.7 443.4,607 442.8,616 441.6,622.8 438.2,631.8 434.8,639.7 430.3,646.5 423.6,651 421.3,656.7 419,661.2 422.4,665.7 428.1,664.6 429.2,670.2 426.9,677 425.8,683.8 424.7,690.5 421.3,693.9 419.5,698.4 425.8,700.7 432.6,703 438.2,704.1 445.7,700.7 446.1,695.1 450.7,689.4 456.3,683.8 452.9,678.1 454,671.3 458.6,666.8 456.3,660 455.2,652.1 460.8,651 464.2,646.5 467.6,640.8 469.2,632.9 471,625 476.6,620.5 482.3,616 477.8,608.1 472.1,605.8 464.2,605.8 455.2,603.6 451.8,599Z" fill="#EAB858"/>
<path d="M416.8,699.6 421.3,693.9 430.3,694.6 439.4,695.1 447.3,694.6 447.3,704.1 438.2,706.3Z" fill="#DD9838"/>
<path d="M441.6,622.8 450.7,623.9 458.6,627.3 464.2,622.8 469.9,627.3" fill="none" stroke="#6f6a64" stroke-width="0.9" stroke-linejoin="round"/>
<path d="M430.3,646.5 439.4,644.2 443.9,649.9 450.7,652.1 455.2,652.1" fill="none" stroke="#6f6a64" stroke-width="0.9" stroke-linejoin="round"/>
<path d="M423.6,651 432.6,649.9 439.4,644.2" fill="none" stroke="#6f6a64" stroke-width="0.9" stroke-linejoin="round"/>
<path d="M429.2,670.2 439.4,665.7 443.9,656.7 443.9,649.9" fill="none" stroke="#6f6a64" stroke-width="0.9" stroke-linejoin="round"/>
<path d="M439.4,665.7 448.4,667.9 454,671.3" fill="none" stroke="#6f6a64" stroke-width="0.9" stroke-linejoin="round"/>
<path d="M421.3,693.9 430.3,694.6 439.4,695.1 446.1,694.6" fill="none" stroke="#6f6a64" stroke-width="0.9" stroke-linejoin="round"/>
</g>
<g clip-path="url(#k20)">
<path d="M699.5,592.3 704.8,590.8 711.6,587.4 717.3,585.2 724,586.3 730.8,590.8 736.5,594.2 739.9,601 742.1,607.8 744.4,614.5 750,621.3 756.8,627 762.5,632.6 769.2,638.3 774.9,643.9 781.7,648.4 788.4,649.6 795.2,650.7 799.7,655.2 806.5,659.7 813.3,664.2 817.8,669.9 824.6,673.3 828,675.5 830.2,682.3 833.6,689.1 835.9,698.1 833.6,703.8 830.2,708.3 830.2,715.1 834.7,716.2 840.4,709.4 846,702.6 847.2,698.1 851.7,693.6 852.8,686.8 848.3,682.3 842.6,680.1 840.4,674.4 842.6,668.8 846,663.1 851.7,662 858.5,664.2 863,667.6 867.5,672.1 870.9,669.9 870.9,664.2 865.2,659.7 858.5,655.2 850.5,650.7 842.6,647.3 835.9,645 830.2,642.8 826.8,639.4 831.3,634.9 824.6,633.7 815.5,633.1 808.6,630.5 803.7,624.7 798.8,618.9 795.5,612.3 792.2,605.7 788.9,600.8 782.3,596.7 775.7,592.6 770.7,588.4 769.1,582.7 769.9,577.7 771.6,574.4 769.1,571.1 768.3,566.2 772.4,563.7 777.3,561.3 782.3,558 787.2,556.3 787.4,565.2 788.2,561.9 789.1,557 787.4,552.1 788.2,547.1 785.8,542.2 778.4,538.9 771.8,537.2 766.9,533.9 765.2,529.8 761.9,530.6 755.4,532.3 748.8,534.8 742.2,535.6 740.8,538.9 737.2,540.5 738.9,545.5 735.6,545.5 730.6,545.5 725.7,543 722.4,548.8 719.9,554.5 715.8,545.5 710.9,543.8 705.9,548.8 699.3,552.9 691.3,552.3 689.1,556.4 693.3,561.4 691.6,566.3 685.8,570.4 690,576.2 688.3,581.1 690,586.1 694.9,589.4Z M777.3,716.5 782.9,714.2 790.8,714.2 799.9,715.3 808.9,714.2 817.9,711.9 827,709.7 824.7,717.6 822.5,724.4 824.7,733.4 822.5,742.4 814.5,740.2 805.5,736.8 796.5,733.4 788.6,730 781.8,725.5 777.3,722.1Z" fill="#CF6B23"/>
<path d="M689.1,552.3 704.8,551.5 704.8,562.2 693.3,562.2 688.3,557.2Z" fill="#C44A18"/>
<path d="M770.2,538.9 778.4,538 786.7,540.5 788.3,547.1 786.7,555.4 780.1,553.7 773.5,552.1 770.2,547.1Z" fill="#DD9838"/>
<path d="M798.6,639.4 803.1,634.9 809.9,631.5 816.7,633.7 814.4,640.5 808.8,645 802,644.4Z" fill="#DD9838"/>
<path d="M795.2,646.2 802,644.4 808.8,645 814.4,640.5 821.2,643.9 826.8,648.4 835.9,652.9 842.6,657.5 841.5,666.5 838.1,673.3 829.1,675.5 817.8,675.5 806.5,666.5 797.5,655.2Z" fill="#C44A18"/>
<path d="M798.6,639.4 803.1,634.9 809.9,631.5 816.7,633.7 814.4,640.5 808.8,645 802,644.4 798.6,639.4" fill="none" stroke="#6f6a64" stroke-width="0.9" stroke-linejoin="round"/>
<path d="M814.4,640.5 821.2,643.9 826.8,648.4 835.9,652.9 842.6,657.5 841.5,666.5" fill="none" stroke="#6f6a64" stroke-width="0.9" stroke-linejoin="round"/>
<path d="M821.2,643.9 820.1,657.5 826.8,666.5 829.1,675.5" fill="none" stroke="#6f6a64" stroke-width="0.9" stroke-linejoin="round"/>
<path d="M826.8,666.5 838.1,673.3 842.6,668.8" fill="none" stroke="#6f6a64" stroke-width="0.9" stroke-linejoin="round"/>
<path d="M723.8,579.4 729.5,571.1 737.8,569.5 746,574.4 755.9,573.6 764.2,572.8 770.7,574.4" fill="none" stroke="#6f6a64" stroke-width="0.9" stroke-linejoin="round"/>
<path d="M713.9,566.2 719.7,574.4 723.8,579.4 731.2,586 737.8,590.1 746,590.9 757.6,589.3 760.9,595.9 769.1,597.5" fill="none" stroke="#6f6a64" stroke-width="0.9" stroke-linejoin="round"/>
<path d="M746,558.8 744.4,566.2 752.6,572.8 755.9,573.6" fill="none" stroke="#6f6a64" stroke-width="0.9" stroke-linejoin="round"/>
<path d="M742.7,543.1 746.9,549.7 746,558.8 755.9,556.3 762.5,548.1 760.9,541.5" fill="none" stroke="#6f6a64" stroke-width="0.9" stroke-linejoin="round"/>
<path d="M762.5,548.1 769.1,546.4 770.7,539.8" fill="none" stroke="#6f6a64" stroke-width="0.9" stroke-linejoin="round"/>
<path d="M769.1,597.5 765.8,607.4 762.5,617.3 758.4,625.5" fill="none" stroke="#6f6a64" stroke-width="0.9" stroke-linejoin="round"/>
<path d="M769.1,597.5 775.7,602.5 779.8,610.7 784.8,617.3 782.3,623.9 788.9,633.8 797.1,638.7" fill="none" stroke="#6f6a64" stroke-width="0.9" stroke-linejoin="round"/>
<path d="M762.5,617.3 772.4,625.5 782.3,623.9" fill="none" stroke="#6f6a64" stroke-width="0.9" stroke-linejoin="round"/>
<path d="M784.8,617.3 792.2,614" fill="none" stroke="#6f6a64" stroke-width="0.9" stroke-linejoin="round"/>
<path d="M714.7,553 718,562.9 713.9,566.2 708.1,579.4 699.9,590.9" fill="none" stroke="#6f6a64" stroke-width="0.9" stroke-linejoin="round"/>
<path d="M797.1,638.7 803.7,635.4 808.6,632.1" fill="none" stroke="#6f6a64" stroke-width="0.9" stroke-linejoin="round"/>
<path d="M797.1,638.7 795.5,646.9" fill="none" stroke="#6f6a64" stroke-width="0.9" stroke-linejoin="round"/>
<path d="M770.2,538.9 770.2,547.1 773.5,552.1 780.1,553.7 786.7,555.4" fill="none" stroke="#6f6a64" stroke-width="0.9" stroke-linejoin="round"/>
<path d="M689.1,556.4 693.3,561.4 704.8,562.2 704.8,551.5" fill="none" stroke="#6f6a64" stroke-width="0.9" stroke-linejoin="round"/>
<path d="M829.2,674.7 834.9,667.9 841.7,670.1" fill="none" stroke="#6f6a64" stroke-width="0.9" stroke-linejoin="round"/>
</g>
<g clip-path="url(#k21)">
<path d="M707.1,655.2 713.9,652.9 722.9,651.8 728.6,652.9 732,662 733.1,669.9 730.8,677.8 729.7,686.8 725.2,693.6 719.5,695.9 713.9,699.3 708.2,694.7 709.4,684.6 708.2,675.5 707.1,666.5Z" fill="#DD9838"/>
</g>
<g clip-path="url(#k22)">
<path d="M785.8,542.2 788.2,540.5 793.2,538.9 799.8,538 806.4,536.4 813,535.6 817.9,532.3 823.7,531.5 827,533.9 827.8,536.4 824.5,540.5 819.5,543.8 817.1,548.8 813.8,553.7 815.4,558.6 809.7,561.1 804.7,561.9 798.1,561.1 793.2,562.8 789.1,565.2 787.4,565.2 788.2,561.9 789.1,557 787.4,552.1 788.2,547.1Z" fill="#C44A18"/>
<path d="M793.8,552.2 803.7,551.4 805.4,558 798.8,560.4 793.8,558Z" fill="#A62C1A"/>
<path d="M820.2,534.9 826.8,532.4 827.6,536.5 821.8,540.7Z" fill="#A62C1A"/>
<path d="M792.2,540.7 795.5,548.1 793.8,552.2 788.9,554.7" fill="none" stroke="#6f6a64" stroke-width="0.9" stroke-linejoin="round"/>
<path d="M795.5,548.1 803.7,551.4 811.9,549.7 816.9,545.6" fill="none" stroke="#6f6a64" stroke-width="0.9" stroke-linejoin="round"/>
<path d="M803.7,551.4 805.4,558 805.4,560.4" fill="none" stroke="#6f6a64" stroke-width="0.9" stroke-linejoin="round"/>
<path d="M805.4,539 808.6,544.8 811.9,549.7" fill="none" stroke="#6f6a64" stroke-width="0.9" stroke-linejoin="round"/>
<path d="M793.8,552.2 793.8,558 798.8,560.4 805.4,558" fill="none" stroke="#6f6a64" stroke-width="0.9" stroke-linejoin="round"/>
</g>
<g clip-path="url(#k23)">
<path d="M789.1,565.2 793.2,562.8 798.1,561.1 804.7,561.9 809.7,561.1 815.4,558.6 813.8,553.7 817.1,548.8 819.5,543.8 824.5,540.5 827.8,536.4 832.7,538.9 837.7,543 843.4,547.1 847.6,549.6 854.2,548.8 860.7,547.1 864.9,545.5 869,548.8 872.3,553.7 873.9,558.6 869.8,560.3 862.4,562.8 854.2,561.9 845.9,562.8 837.7,563.6 829.4,565.2 823.7,564.4 821.2,566.9 823.5,572.8 825.9,579.4 828.4,585.1 831.7,590.1 836.7,594.2 842.4,598.3 848.2,602.5 854.8,606.6 861.4,610.7 866.3,614.8 868.8,618.6 863,614.8 856.4,611.5 850.7,607.4 844.9,604.1 838.3,601.6 831.7,599.2 825.1,595.9 820.2,590.9 815.2,586 811.9,579.4 808.6,574.4 805.4,569.5 802.1,566.2 797.9,565.4 796.3,570.3 793,574.4 789.7,569.5Z M799.6,569.5 802.1,572.8 804.5,579.4 802.9,581 800.4,574.4Z M798.8,566.2 800.7,568.2 800.1,569.8Z M807.8,587.6 812.8,591.7 816.1,595 814.4,594.2 808.6,590.1Z M811.1,581 813.6,582.7 812.8,584.3Z M827.6,608.2 831.7,609 830.9,610.7 828.1,609.9Z M833.4,605.7 839.1,606.6 838.3,607.7 833.7,607.1Z M839.1,609 845.7,609.9 844.9,611 839.6,610.4Z M831.7,622.2 835,622.6 834.2,624.2Z M820.2,628 822.7,628.5 821.5,630.1Z" fill="#C44A18"/>
<path d="M815.2,555.5 813.6,549.7 816.9,545.6 819.4,540.7 824.3,538.2 830.1,539.8 835,544.8 833.4,551.4 828.4,556.3 821.8,558.8Z" fill="#A62C1A"/>
<path d="M788,564.5 797.1,563.7 798.4,567.8 796.3,572 793,575.8 788.9,570.3Z" fill="#DD9838"/>
<path d="M808.6,574.4 815.2,572.8 821.8,579.4 826.8,587.6 821.8,590.9 815.2,586 811.9,579.4Z" fill="#CF6B23"/>
<path d="M815.2,555.5 821.8,558.8 828.4,556.3 833.4,551.4 835,544.8 830.1,539.8 824.3,538.2" fill="none" stroke="#6f6a64" stroke-width="0.9" stroke-linejoin="round"/>
<path d="M797.1,563.7 798.4,567.8 796.3,572" fill="none" stroke="#6f6a64" stroke-width="0.9" stroke-linejoin="round"/>
<path d="M805.4,560.4 808.6,567.8 815.2,572.8 821.8,566.2" fill="none" stroke="#6f6a64" stroke-width="0.9" stroke-linejoin="round"/>
<path d="M835,544.8 841.6,548.1 848.2,546.4 854.8,549.7" fill="none" stroke="#6f6a64" stroke-width="0.9" stroke-linejoin="round"/>
<path d="M833.4,551.4 838.3,558 844.9,559.6 848.2,564.5" fill="none" stroke="#6f6a64" stroke-width="0.9" stroke-linejoin="round"/>
<path d="M844.9,559.6 848.2,546.4" fill="none" stroke="#6f6a64" stroke-width="0.9" stroke-linejoin="round"/>
<path d="M854.8,549.7 856.4,558 854.8,563.7" fill="none" stroke="#6f6a64" stroke-width="0.9" stroke-linejoin="round"/>
<path d="M815.2,572.8 821.8,579.4 826.8,587.6 825.1,595.9" fill="none" stroke="#6f6a64" stroke-width="0.9" stroke-linejoin="round"/>
<path d="M833.4,590.9 831.7,599.2" fill="none" stroke="#6f6a64" stroke-width="0.9" stroke-linejoin="round"/>
<path d="M844.9,600.8 844.9,604.1" fill="none" stroke="#6f6a64" stroke-width="0.9" stroke-linejoin="round"/>
</g>
<g clip-path="url(#k24)">
<path d="M914.3,494.4 919.5,492.2 926.1,493.1 932.7,492.2 938.5,491.1 945.1,493.9 952.5,489 959.1,485.7 964,481.5 967.3,477.9 972.3,483.2 977.2,489.8 982.2,494.7 988.8,499.7 993.7,504.6 996.2,511.2 997.8,517.8 999.5,524.4 1001.1,529.3 1005.2,531.8 1011.8,531 1016.8,528.5 1021.7,527.7 1023,532.6 1022.5,535.9 1018.4,540.9 1014.3,545.8 1012.7,552.4 1013.5,559 1013.8,564.8 1008.5,563.9 1003.6,562.3 997,563.1 992.1,564.8 985.5,565.6 978.9,567.2 973.9,570.5 969,574.6 962.4,576.3 954.2,577.1 945.9,578.8 937.7,579.6 931.1,580.4 929.4,577.1 925.3,572.2 921.2,568 923.7,565.6 917.9,565.6 913,566.4 906.4,564.8 904.7,559.8 901.4,555.7 895.7,552.4 893.2,548.3 889.9,544.2 885.8,538.9 888.8,536.4 893.7,533.9 897.8,529 899.5,522.4 901.9,515.8 904.4,509.2 906.1,503.4 910.2,499.3Z" fill="#DD9838"/>
<path d="M917.1,517.8 929.4,506.3 936.9,514.5 936,524.4 940.1,526.9 936.9,534.3 933.6,542.5 929.4,535.9 922.8,527.7 917.1,524.4Z" fill="#CF6B23"/>
<path d="M921.2,553.2 929.4,549.1 936.9,548.3 938.5,555.7 937.7,561.5 931.9,562.3 927,559Z" fill="#F0D678"/>
<path d="M945.9,494.7 952.5,489 959.1,485.7 964,481.5 967.3,476.6 973.9,483.2 978.9,489.8 983.8,494.7 990.4,499.7 995.4,504.6 997.8,511.2 997,519.4 985.5,519.4 988.8,529.3 987.1,535.9 978.9,544.2 972.3,535.9 972.3,524.4 965.7,512.8 957.5,504.6 949.2,504.6Z" fill="#EAB858"/>
<path d="M957.5,501.3 967.3,498 978.9,503 972.3,509.5 964,511.2Z" fill="#DD9838"/>
<path d="M907.2,505.4 914.6,493.1 926.1,491.4 938.5,489.8 945.1,493.9 945.9,499.7 936,500.5 929.4,506.3 919.5,507.1Z" fill="#EAB858"/>
<path d="M891.5,535.9 899.8,526.9 911.3,525.2 917.9,530.1 915.4,539.2 904.7,540 896.5,538.4Z" fill="#EAB858"/>
<path d="M931.1,568.9 934.4,563.9 942.6,561.5 949.2,555.7 955.8,562.3 955.8,576.3 945.9,579.6 931.1,581.2Z" fill="#EAB858"/>
<path d="M959.1,542.5 965.7,555.7 970.6,562.3 978.9,566.4 992.1,562.3 1001.9,552.4 998.6,545.8 978.9,549.1 973.9,552.4 967.3,547.5Z" fill="#EAB858"/>
<path d="M907.2,505.4 919.5,507.1 929.4,506.3 936,500.5 945.9,499.7 945.1,493.9" fill="none" stroke="#6f6a64" stroke-width="0.9" stroke-linejoin="round"/>
<path d="M917.1,517.8 929.4,506.3 936.9,514.5 936,524.4 940.1,526.9 936.9,534.3 933.6,542.5 929.4,535.9 922.8,527.7 917.1,524.4 917.1,517.8" fill="none" stroke="#6f6a64" stroke-width="0.9" stroke-linejoin="round"/>
<path d="M945.9,499.7 949.2,504.6 957.5,504.6 965.7,512.8 972.3,524.4 972.3,535.9 978.9,544.2 987.1,535.9 988.8,529.3 985.5,519.4 997,519.4" fill="none" stroke="#6f6a64" stroke-width="0.9" stroke-linejoin="round"/>
<path d="M936,500.5 936.9,514.5" fill="none" stroke="#6f6a64" stroke-width="0.9" stroke-linejoin="round"/>
<path d="M949.2,504.6 952.5,514.5 949.2,524.4 940.1,526.9" fill="none" stroke="#6f6a64" stroke-width="0.9" stroke-linejoin="round"/>
<path d="M957.5,504.6 967.3,498 978.9,503 988.8,499.7" fill="none" stroke="#6f6a64" stroke-width="0.9" stroke-linejoin="round"/>
<path d="M965.7,512.8 972.3,509.5 978.9,503" fill="none" stroke="#6f6a64" stroke-width="0.9" stroke-linejoin="round"/>
<path d="M972.3,509.5 982.2,517.8 985.5,519.4" fill="none" stroke="#6f6a64" stroke-width="0.9" stroke-linejoin="round"/>
<path d="M952.5,514.5 960.7,519.4 969,522.7 972.3,524.4" fill="none" stroke="#6f6a64" stroke-width="0.9" stroke-linejoin="round"/>
<path d="M960.7,519.4 959.1,529.3 949.2,532.6 936.9,534.3" fill="none" stroke="#6f6a64" stroke-width="0.9" stroke-linejoin="round"/>
<path d="M959.1,529.3 972.3,535.9" fill="none" stroke="#6f6a64" stroke-width="0.9" stroke-linejoin="round"/>
<path d="M898.1,529.3 904.7,524.4 911.3,525.2 917.1,517.8 913,509.5 907.2,505.4" fill="none" stroke="#6f6a64" stroke-width="0.9" stroke-linejoin="round"/>
<path d="M899.8,526.9 911.3,525.2 917.9,530.1 915.4,539.2 904.7,540 896.5,538.4" fill="none" stroke="#6f6a64" stroke-width="0.9" stroke-linejoin="round"/>
<path d="M915.4,539.2 921.2,547.5 921.2,553.2 916.3,562.3 917.9,565.6" fill="none" stroke="#6f6a64" stroke-width="0.9" stroke-linejoin="round"/>
<path d="M921.2,553.2 929.4,549.1 936.9,548.3 938.5,555.7 937.7,561.5 931.9,562.3 927,559 921.2,553.2" fill="none" stroke="#6f6a64" stroke-width="0.9" stroke-linejoin="round"/>
<path d="M936.9,548.3 933.6,542.5" fill="none" stroke="#6f6a64" stroke-width="0.9" stroke-linejoin="round"/>
<path d="M936.9,548.3 945.9,539.2 949.2,532.6" fill="none" stroke="#6f6a64" stroke-width="0.9" stroke-linejoin="round"/>
<path d="M945.9,539.2 947.6,552.4 949.2,555.7 955.8,562.3 955.8,576.3" fill="none" stroke="#6f6a64" stroke-width="0.9" stroke-linejoin="round"/>
<path d="M931.9,562.3 934.4,563.9 942.6,561.5 949.2,555.7" fill="none" stroke="#6f6a64" stroke-width="0.9" stroke-linejoin="round"/>
<path d="M931.1,568.9 934.4,563.9" fill="none" stroke="#6f6a64" stroke-width="0.9" stroke-linejoin="round"/>
<path d="M942.6,561.5 945.9,578.8" fill="none" stroke="#6f6a64" stroke-width="0.9" stroke-linejoin="round"/>
<path d="M959.1,542.5 965.7,555.7 970.6,562.3 978.9,566.4" fill="none" stroke="#6f6a64" stroke-width="0.9" stroke-linejoin="round"/>
<path d="M959.1,542.5 967.3,547.5 973.9,552.4 978.9,549.1 998.6,545.8 1001.9,552.4 992.1,562.3" fill="none" stroke="#6f6a64" stroke-width="0.9" stroke-linejoin="round"/>
<path d="M959.1,542.5 959.1,529.3" fill="none" stroke="#6f6a64" stroke-width="0.9" stroke-linejoin="round"/>
<path d="M978.9,544.2 978.9,549.1" fill="none" stroke="#6f6a64" stroke-width="0.9" stroke-linejoin="round"/>
<path d="M987.1,535.9 998.6,545.8" fill="none" stroke="#6f6a64" stroke-width="0.9" stroke-linejoin="round"/>
<path d="M988.8,529.3 1000.3,526.9" fill="none" stroke="#6f6a64" stroke-width="0.9" stroke-linejoin="round"/>
<path d="M1001.9,552.4 1012.7,552.4" fill="none" stroke="#6f6a64" stroke-width="0.9" stroke-linejoin="round"/>
<path d="M972.3,555.7 975.6,552.4 977.2,559 973.9,560.6 972.3,555.7" fill="none" stroke="#6f6a64" stroke-width="0.9" stroke-linejoin="round"/>
</g>
<g clip-path="url(#k25)">
<path d="M1013.8,564.8 1008.5,563.9 1003.6,562.3 997,563.1 992.1,564.8 985.5,565.6 978.9,567.2 973.9,570.5 969,574.6 962.4,576.3 954.2,577.1 945.9,578.8 937.7,579.6 931.1,580.4 929.4,577.1 925.3,572.2 923.2,577.4 922.5,583.2 925.3,588.1 929.4,591.4 932.7,595.5 929.4,600.5 927,604.6 928.6,611.2 931.1,616.1 936,619.4 936.9,624.4 938,631 944.3,628.5 950.9,626 957.5,623.6 964,624.4 970.6,625.2 977.2,624.4 983,622.7 987.1,618.6 989.6,614.5 993.7,615.3 995.4,609.5 1000.3,605.4 1006.9,603.8 1011.8,602.1 1007.7,597.2 1004.4,593.1 1006.9,588.1 1007.7,583.2 1006.1,576.6 1008.5,571.6 1012.7,566.7Z" fill="#CF6B23"/>
<path d="M938.5,579.9 947.6,578.2 957.5,577.4 965.7,575.8 965.7,583.2 957.5,586.5 950.9,589.8 945.9,594.7 939.3,593.1Z" fill="#DD9838"/>
<path d="M978.9,589.8 985.5,586.5 992.1,593.1 985.5,601.3 980.5,598Z" fill="#DD9838"/>
<path d="M992.1,585.7 1005.2,584.8 1005.2,593.1 1011.8,602.1 1000.3,605.4 995.4,598.8Z" fill="#DD9838"/>
<path d="M949.2,603 955.8,601.3 959.1,609.5 957.5,619.4 950.9,619.4 948.4,611.2Z" fill="#DD9838"/>
<path d="M972.3,607.9 980.5,606.3 988.8,604.6 992.1,609.5 987.1,618.6 983,622.7 977.2,624.4 970.6,619.4Z" fill="#DD9838"/>
<path d="M988.8,571.6 995.4,570 997,579.9 993.7,586.5 988.8,584.8Z" fill="#DD9838"/>
<path d="M938.5,579.9 947.6,578.2 957.5,577.4 965.7,575.8" fill="none" stroke="#6f6a64" stroke-width="0.9" stroke-linejoin="round"/>
<path d="M939.3,593.1 938.5,579.9" fill="none" stroke="#6f6a64" stroke-width="0.9" stroke-linejoin="round"/>
<path d="M945.9,594.7 950.9,589.8 957.5,586.5 965.7,583.2 965.7,575.8" fill="none" stroke="#6f6a64" stroke-width="0.9" stroke-linejoin="round"/>
<path d="M932.7,595.5 939.3,593.1 945.9,594.7 954.2,598 955.8,601.3" fill="none" stroke="#6f6a64" stroke-width="0.9" stroke-linejoin="round"/>
<path d="M954.2,598 962.4,594.7 965.7,588.1 965.7,583.2" fill="none" stroke="#6f6a64" stroke-width="0.9" stroke-linejoin="round"/>
<path d="M962.4,594.7 967.3,596.4 975.6,593.9 978.9,589.8 977.2,579.9 972.3,576.6" fill="none" stroke="#6f6a64" stroke-width="0.9" stroke-linejoin="round"/>
<path d="M978.9,589.8 985.5,586.5 992.1,593.1 985.5,601.3 980.5,598 978.9,589.8" fill="none" stroke="#6f6a64" stroke-width="0.9" stroke-linejoin="round"/>
<path d="M985.5,586.5 988.8,584.8 993.7,586.5 997,579.9" fill="none" stroke="#6f6a64" stroke-width="0.9" stroke-linejoin="round"/>
<path d="M992.1,593.1 995.4,598.8 1000.3,605.4" fill="none" stroke="#6f6a64" stroke-width="0.9" stroke-linejoin="round"/>
<path d="M993.7,586.5 1005.2,584.8" fill="none" stroke="#6f6a64" stroke-width="0.9" stroke-linejoin="round"/>
<path d="M967.3,596.4 969,604.6 972.3,607.9 980.5,606.3 985.5,601.3" fill="none" stroke="#6f6a64" stroke-width="0.9" stroke-linejoin="round"/>
<path d="M949.2,603 955.8,601.3 959.1,609.5 957.5,619.4 950.9,619.4 948.4,611.2 949.2,603" fill="none" stroke="#6f6a64" stroke-width="0.9" stroke-linejoin="round"/>
<path d="M929.4,600.5 937.7,603 942.6,609.5 936,612.8 931.1,616.1" fill="none" stroke="#6f6a64" stroke-width="0.9" stroke-linejoin="round"/>
<path d="M942.6,609.5 948.4,611.2" fill="none" stroke="#6f6a64" stroke-width="0.9" stroke-linejoin="round"/>
<path d="M959.1,609.5 969,604.6" fill="none" stroke="#6f6a64" stroke-width="0.9" stroke-linejoin="round"/>
<path d="M972.3,607.9 970.6,619.4 977.2,624.4" fill="none" stroke="#6f6a64" stroke-width="0.9" stroke-linejoin="round"/>
<path d="M957.5,619.4 964,624.4" fill="none" stroke="#6f6a64" stroke-width="0.9" stroke-linejoin="round"/>
<path d="M950.9,619.4 950.9,626" fill="none" stroke="#6f6a64" stroke-width="0.9" stroke-linejoin="round"/>
<path d="M970.6,619.4 962.4,617.8 959.1,609.5" fill="none" stroke="#6f6a64" stroke-width="0.9" stroke-linejoin="round"/>
<path d="M988.8,604.6 992.1,609.5 989.6,614.5" fill="none" stroke="#6f6a64" stroke-width="0.9" stroke-linejoin="round"/>
</g>
<g clip-path="url(#k26)">
<path d="M938,631 934.4,633.4 929.4,636.7 923.7,639.2 921.2,642.5 915.4,643.3 910.2,645.5 908.8,650.7 906.4,657.3 903.9,662.3 901.4,667.2 899.8,672.2 899.9,674 903.2,678.1 908.1,682.2 912.2,685.5 915.5,684.7 916.4,686.4 913.1,688.8 913.9,692.1 918,694.6 923,697.1 927.9,697.1 932.8,695.4 937.8,693.8 942.7,694.6 946.9,697.1 952.6,698.7 956.7,699.5 960.9,698.7 965,701.2 968.3,702.8 966.6,697.9 965,693.8 960.9,692.1 955.9,689.7 951,687.2 946.9,684.7 942.7,683.1 945.2,680.6 948.5,677.3 947.7,674 944.4,673.2 947.7,671.5 949.2,671.3 945.9,668 942.6,663.9 939.3,659.8 936.9,655.7 937.7,649.9 941,647.5 945.1,652.4 949.2,648.3 954.2,649.1 959.1,650.7 965.7,652.4 960.7,649.1 955.8,646.6 952.5,643.3 954.2,640.9 959.1,638.4 964,635.9 969,633.4 975.6,632.6 982.2,633.4 989.6,634.3 990.4,633.4 993.7,626.9 992.9,621.1 993.7,615.3 989.6,614.5 987.1,618.6 983,622.7 977.2,624.4 970.6,625.2 964,624.4 957.5,623.6 950.9,626 944.3,628.5Z M950.1,679.8 954.3,680.6 959.2,683.1 964.2,685.5 968.3,688 971.6,691.3 974,694.6 971.6,695.4 967.5,692.1 962.5,689.7 957.6,687.2 953.4,684.7 950.1,682.2Z M920.5,704.5 924.6,700.4 929.5,697.9 934.5,697.6 939.4,698.2 944.4,699.5 949.3,700.4 952.6,699.5 951.8,703.7 954.3,707 957.6,709.4 955.1,711.1 951.8,709.4 950.1,712.7 952.6,717.7 955.1,723.4 955.9,728.4 952.6,725.9 949.3,723.4 946.9,725.9 945.2,730.9 941.9,727.6 939.4,723.4 936.1,725.1 933.7,725.9 931.2,722.6 930.4,716.9 927.9,712.7 923.8,709.4 920.5,707Z M967.5,749.8 970.7,745.7 975.7,748.2 980.6,749 987.2,748.2 995.5,747.3 1003.7,746.5 1007,749 1012.8,746.5 1013.6,749 1008.6,752.3 1002.1,753.9 993.8,756.4 987.2,755.6 980.6,754.8 974,754.8 969.1,753.9Z M1035,721 1037.5,716 1040.8,714.4 1041.6,717.7 1039.1,723.4 1036.3,725.9Z M992.2,664.9 997.1,661.6 1002.1,663.3 1003.7,667.4 998.8,668.2 994.6,667.4Z M994.6,679 997.9,678.1 999.6,683.1 997.9,687.2 995.5,684.7Z M1009.5,692.1 1013.6,691 1015.2,693 1011.1,694.3Z M906.5,699.5 910.6,697.1 913.1,702.8 909.8,704.5 906.5,702.8Z M911.4,707.8 915.5,708.6 916.4,711.1 913.1,711.1Z M909,688.8 911.4,688.8 910.6,693 908.5,692.1Z M953.4,733.3 955.9,733.3 957.2,737.5 954.6,737.5Z M979,695.4 983.1,697.9 984.8,700.4 980.6,698.2Z M993,708.6 996.3,709.4 995.5,713.6 992.5,712.4Z M988,711.1 990.5,711.9 988.9,714.4Z M988.9,703.7 991.3,702.8 990.5,706.1Z M983.9,700.4 987.2,703.2 985.6,704.2Z M972.4,702 974.4,703.2 973.2,706.1Z M976.5,721.8 979.8,720.1 980.3,722.6Z M995.5,723.4 997.1,725.1 995.5,725.9Z M990.5,717.7 993,716.9 992.2,719.7Z M1020.2,709.4 1025.1,707.8 1025.9,709.4 1021.8,711.4Z M1026.8,730.9 1028.4,732.5 1028.1,738.3 1026.4,735.8Z M1002.1,698.7 1006.2,696.3 1006.7,697.9 1002.9,700.4Z M970.7,675.7 973.2,676.5 974.9,679.8 972.4,679.4Z M890.8,671.5 893.3,670.7 896.6,676.5 894.9,677.3Z M1000.4,716.9 1003.7,714.4 1002.9,716.9Z M1008.6,716.9 1011.1,716 1010.3,718.5Z M982.3,704.5 984.8,707 983.1,707.8Z M979.8,716.9 982.3,716 981.5,718.5Z M960.9,720.1 963.3,721 961.7,722.3Z M965.7,637.6 969,636.7 969.8,640.9 966.5,641.7Z M980.5,640 983.8,640.9 982.2,642.5Z M977.2,652.4 981.3,651.6 982.2,654.9 978.9,655.7Z M992.1,663.9 998.6,661.5 1003.6,666.4 998.6,668.9 993.7,667.2Z M950,654.9 953.3,655.7 955,658.2 950.9,657.3Z M955,652.4 958.3,653.2 959.9,655.7 956.6,654.9Z" fill="#CF6B23"/>
<path d="M910.2,645.5 915.4,643.3 921.2,642.5 923.7,647.5 929.4,655.7 934.4,659 939.3,662.3 949.2,672.2 945.9,682.1 934.4,680.4 929.4,677.1 921.2,678.8 916.3,668.9 911.3,662.3 908,655.7Z" fill="#C44A18"/>
<path d="M912.2,682.2 918,681.4 923,686.4 931.2,688 932.8,695.4 927.9,697.9 923,697.9 918,695.4 913.1,692.1Z" fill="#C44A18"/>
<path d="M952.6,695.4 960.9,691.3 967.5,693 969.9,703.7 960.9,700.4 954.3,700.9Z" fill="#C44A18"/>
<path d="M919.7,707.8 924.6,699.5 934.5,697.1 939.4,698.7 937.8,705.3 932.8,707 934.5,714.4 930.4,716.9 927.9,712.7 923.8,709.4Z" fill="#C44A18"/>
<path d="M921.2,642.5 923.7,647.5 929.4,655.7 934.4,659 936.9,655.7" fill="none" stroke="#6f6a64" stroke-width="0.9" stroke-linejoin="round"/>
<path d="M929.4,655.7 927.8,662.3 916.3,668.9" fill="none" stroke="#6f6a64" stroke-width="0.9" stroke-linejoin="round"/>
<path d="M911.3,662.3 916.3,668.9 921.2,678.8" fill="none" stroke="#6f6a64" stroke-width="0.9" stroke-linejoin="round"/>
<path d="M949.2,629.3 955.8,635.9 954.2,640.9" fill="none" stroke="#6f6a64" stroke-width="0.9" stroke-linejoin="round"/>
<path d="M934.4,633.4 939.3,642.5 937.7,649.9" fill="none" stroke="#6f6a64" stroke-width="0.9" stroke-linejoin="round"/>
<path d="M912.2,682.2 918,681.4 923,686.4 931.2,688 932.8,695.4" fill="none" stroke="#6f6a64" stroke-width="0.9" stroke-linejoin="round"/>
<path d="M915.5,660 916.4,669.9 921.3,678.1 923,686.4" fill="none" stroke="#6f6a64" stroke-width="0.9" stroke-linejoin="round"/>
<path d="M921.3,678.1 929.5,676.5 934.5,675.7 942.7,683.1" fill="none" stroke="#6f6a64" stroke-width="0.9" stroke-linejoin="round"/>
<path d="M931.2,688 937.8,686.4 946.9,684.7" fill="none" stroke="#6f6a64" stroke-width="0.9" stroke-linejoin="round"/>
<path d="M939.4,698.7 937.8,705.3 932.8,707 934.5,714.4 930.4,716.9" fill="none" stroke="#6f6a64" stroke-width="0.9" stroke-linejoin="round"/>
<path d="M952.6,695.4 954.3,700.9" fill="none" stroke="#6f6a64" stroke-width="0.9" stroke-linejoin="round"/>
</g>
<g clip-path="url(#k27)">
<path d="M1115.5,722.8 1122.8,717.9 1131,714.6 1139.2,709.6 1145.8,703 1149.1,699.7 1145.8,708 1142.5,716.2 1135.9,722.8 1129.3,727.7 1121.1,729.4 1116.2,727.1Z" fill="#A62C1A"/>
</g>
<g clip-path="url(#k28)">
<path d="M450.4,71.6 453.5,70 457.1,69.5 459.2,66.4 462.8,64.5 465.4,65.9 468,69.5 468.5,63.3 470.6,61.4 473.2,62.5 474.2,66.4 474.8,71.6 475.8,75.2 473.2,78.3 472.7,83 473,86.6 477.3,85.1 481.5,83.5 483.6,79.9 485.6,77.8 487.7,80.9 488.8,84.6 491.9,82.2 496.5,82.2 498.6,85.1 499.6,88.7 502.2,84.6 504.8,86.1 507.9,88 511.6,87.2 515.2,86.6 517.8,83.5 519.9,82.8 522,85.6 524,90.3 528.2,91.5 528.4,95.5 527.7,99.6 529.7,103.8 531.8,107.9 532.3,111.5 530.8,114.6 530.2,118.3 527.1,121.4 523,124 518.8,126.6 514.7,129.2 510.5,129.7 506.4,129.5 502.2,130.2 498.1,131.8 493.9,132.8 489.8,132.3 485.6,133.3 481.5,134.4 476.3,134.4 472.2,133.3 468,130.7 464.4,127.6 461.3,124 459.2,119.8 457.6,116.7 454.5,115.2 449.9,113.1 445.2,111 444.4,108.9 445.7,106.3 447.3,105.3 447.8,107.9 450.4,108.9 453.5,108.4 456.1,105.8 459.2,105.3 461.3,105.8 456.6,103.8 455.6,98.6 455.6,94.4 453.5,91.8 449.9,89.8 446.7,88.2 449.3,87.4 453.5,88.2 458.2,89.2 461.3,89.8 462.3,86.6 464.9,83 463.9,79.9 461.3,77.3 457.6,76.3 453.5,75.7 450.9,73.7Z M566.4,194.4 571.4,191.2 576.3,192.8 574.7,197.7 570.7,201 567.4,197.7Z M568.1,206 570.1,207.6 569.4,210.9 567.4,209.3Z" fill="#F0D678"/>
</g>
<g clip-path="url(#k29)">
<path d="M733.4,368.8 725.7,368 720.3,367.2 717.4,362.2 715.9,356.5 713.8,351.9 714.9,346.7 713.8,341.5 713.3,336.3 714.9,332.2 714.3,329 716.4,331.1 718,330.1 715.9,325.9 718.5,322.3 722.6,320.2 727.3,319.2 729.9,317.1 732.5,313.5 736.1,310.4 740.8,308.5 741.3,312.4 740.8,317.6 739.8,323.9 738.7,329 741.8,331.6 744.9,333.2 746,335.3 743.9,337.9 740.3,338.9 738.2,342.5 736.1,345.6 733,348.8 731.5,351.9 732.5,353.9 730.9,356.5 729.9,360.7 732,362.2 734,364.3 733,366.4Z M733.5,355 736.1,352.9 739.8,351.9 742.3,353.9 744.4,358.1 744.9,361.2 742.3,363.3 739.2,362.2 736.1,359.6 734.6,357.6Z M749.1,349.3 752.2,346.7 755.3,344.6 756.3,348.8 758.4,347.7 761,350.8 762.6,355 763.1,359.1 764.6,362.2 763.6,364.8 761,367.4 758.9,371.6 754.8,370.5 750.6,369 748,367.4 749.1,365.4 752.7,366.4 755.8,366.9 757.9,364.3 756.3,361.2 753.2,359.1 751.2,356.5 750.1,352.9Z M758.4,342.5 761.5,340.5 764.6,341.5 765.7,345.6 765.2,349.8 762.6,350.8 760,348.8 758.4,345.6Z M791.6,356.5 794.2,356 796.8,358.6 796.3,361.2 793.7,361.7 791.9,359.6Z M746,316.6 748.6,315.4 749.1,316.6 747,318.2Z" fill="#CF6B23"/>
<path d="M757.4,339.4 766.7,339.4 766.7,351.9 757.4,351.9Z" fill="#C44A18"/>
<path d="M790.6,355 797.8,355 797.8,362.8 790.6,362.8Z" fill="#C44A18"/>
<path d="M713.3,336.3 718.5,335.3 725.7,331.1 732,332.2 738.7,329" fill="none" stroke="#6f6a64" stroke-width="0.9" stroke-linejoin="round"/>
<path d="M714.9,346.7 720.6,346.2 727.3,344.6 729.9,347.7 733,348.8" fill="none" stroke="#6f6a64" stroke-width="0.9" stroke-linejoin="round"/>
</g>
<g clip-path="url(#k30)">
<path d="M806.6,756 810,757.1 813.4,760.5 810,759.4Z" fill="#EAB858"/>
</g>
<path d="M752.1,282.9 749.1,279.6 746.1,280.4 742.5,275.5 741.2,268.9 742.2,262.3 740,268.9 740,275.5 736.7,280.4 732.6,282.9 727.7,285.4 723.6,290.3 717.8,295.2 711.2,299.4 705.4,301 699.7,299.4 694.7,295.2 689.8,290.3 686.5,285.4 688.1,280.4 691.4,277.1 689.8,272.2 685.7,268.9 686.5,263.9 691.4,257.3 686.5,259 684,254 682.4,247.5 684.8,240.9 683.2,235.9 685.7,231 685.7,224.4 687.3,217.8 691.4,213.7 690.6,209.5 697.2,208.7 698.8,204.6 703,200.5 709.5,196.4 717,194.7 717.8,190.6 714.5,188.1 719.4,186.5 722.7,180.7 726,185.7 732.6,182.4 735.1,176.6 737.6,170 738.1,170.6 742.3,166.4 745.4,163.3 742.3,162.3 742.3,159.2 744.9,157.1 748.5,156.6 752.7,152.9 754.2,148.8 755.8,143.6 757.3,139.4 758.9,134.3 762,129.1 763,123.9 765.1,118.7 768.2,114.5 771.3,109.3 774.5,104.2 777.6,101 775.7,94.7 779.8,91.6 784,90.6 784.5,86.4 782.9,83.3 778.8,84.4 773.6,87 768.4,88.5 764.3,89.6 763.2,88 766.3,85.9 771.5,84.4 775.7,82.3 778.8,79.7 775.7,81.2 771.5,82.3 768.9,79.2 770.5,76.1 773.6,71.9 776.2,74 778.3,68.8 780.3,65.7 781.4,67.8 780.3,71.9 781.9,75 784,71.9 786.6,70.9 787.6,74.5 790.2,71.9 792.3,67.8 789.7,66.7 788.7,62.6 790.2,59.4 793.8,58.4 797.5,60 795.9,56.3 796.4,52.2 798,48 800.6,44.9 802.7,44.4 805.8,49.1 808.9,51.1 811.5,54.8 813,50.1 816.2,47 820.3,45.4 818.2,40.8 819.3,38.7 823.4,38.2 827.6,34.5 831.7,31.4 835.9,28.3 838,25.2 840,21 842.6,18.1 843.4,33 845.9,23.1 849.2,19.8 851.7,26.4 854.2,16.5 857.5,14 861.6,16.5 862.4,23.1 865.7,18.1 872.3,17.3 878.9,19 881.3,21.4 877.2,27.2 874.8,31.3 880.5,33 887.1,33.8 887.1,33.8 886.3,38.2 882.2,39.5 878.9,46.1 876.4,49.4 876.4,49.4 875.6,39.5 869,37.1 862.4,33.8 852.5,39.5 851.7,47.8 852.5,57.7 850.9,67.6 845.9,66.7 845.2,66.7 840,65.7 834.8,69.8 829.7,68.8 825.5,63.6 821.9,59.4 819.3,60.5 816.2,65.2 816.2,65.2 812.5,67.8 813,75 812,80.2 806.8,78.7 800.6,79.2 798.5,82.3 797.5,89.6 792.3,90.6 788.1,95.8 784.8,103.1 786.9,111.4 783.8,118.7 782.2,126 780.2,130.1 775.5,130.6 773.9,133.2 774.5,141.5 773.9,152.9 771.3,158.1 768.8,162.3 772.9,168.5 771.3,174.7 766.2,173.7 761,176.8 755.7,184.8 754.9,191.4 755.7,203 757.3,211.2 757,219.4 759.8,226.9 763.1,233.4 759.8,239.2 761.5,247.5 761,257.3 756.5,263.1 754.9,270.5 753.2,277.1 752.1,282.9Z M757.5,94.7 759.6,91.6 761.7,90.6 760.6,93.7 758.5,96.3Z M819.3,30.4 822.4,28.8 826.5,26.7 828.1,28.3 825.5,31.9 821.9,33.5 819.8,32.5Z M842.6,31.4 843.7,26.2 845.2,22.1 847.3,20 848.3,23.1 846.3,28.3 844.2,34.5Z" fill="none" stroke="#141414" stroke-width="1.15" stroke-linejoin="round"/>
<path d="M752.1,282.9 748.6,280.7 749.4,288.1 751.9,296.4 755.2,304.6 758.5,312 762.6,319.4 765.9,325.2 768.4,330.1 769.2,333.4 766.7,335.9 767.9,340.9 770,347.5 770.9,350.7 770,354 773.3,354.9 779.1,354 784,352.4 786.5,349.1 786.5,344.2 789.8,340.9 795.6,339.2 802.2,338.4 805.5,335.1 807.1,329.3 808.8,324.4 809.1,317.8 810.7,311.2 810.1,304.6 810.7,298 811.7,291.4 812.1,286.5 815.4,283.2 819.5,279.1 823.6,276.6 827.7,272.5 829.4,270 831.4,260.7 828.1,254.1 821.5,245.9 814.9,240.9 810,232.7 807.6,222.8 810,212.9 811.6,204.7 816.5,194.8 821.5,184.9 828.1,175 833,165.1 836.3,156.9 839.6,147 842.9,137.1 844.6,130.5 849.5,128.9 856.1,127.2 853.8,119 851.2,109.1 847.9,99.2 845.2,94.7 843.1,87.5 840,81.2 833.8,76.6 826.5,72.9 819.3,68.8 816.2,65.2 812.5,67.8 813,75 812,80.2 806.8,78.7 800.6,79.2 798.5,82.3 797.5,89.6 792.3,90.6 788.1,95.8 784.8,103.1 786.9,111.4 783.8,118.7 782.2,126 780.2,130.1 775.5,130.6 773.9,133.2 774.5,141.5 773.9,152.9 771.3,158.1 768.8,162.3 772.9,168.5 771.3,174.7 766.2,173.7 761,176.8 755.7,184.8 754.9,191.4 755.7,203 757.3,211.2 757,219.4 759.8,226.9 763.1,233.4 759.8,239.2 761.5,247.5 761,257.3 756.5,263.1 754.9,270.5 753.2,277.1Z M809.6,332.6 811.2,324.4 813.7,316.1 815.4,311.2 815,317.8 813.7,326 811.2,334.3Z M826.9,305.4 831,299.7 838.4,295.5 836.8,303 834.3,309.5 830.2,317 827.7,311.2Z" fill="none" stroke="#141414" stroke-width="1.15" stroke-linejoin="round"/>
<path d="M918,225.3 909,229.4 902.4,232.7 895.8,236 889.2,239.3 882.6,243.4 876.9,247.6 872.7,250 870.3,246.7 864.5,248.4 860.4,245.9 855.4,245.9 851.3,240.1 850.5,234.4 849.7,229.4 847.2,219.5 844.7,208 842.2,198.1 840.6,189.9 843.9,183.3 847.2,180.7 850.5,174.2 853,169.2 858.7,165.1 861.2,159.3 863.7,152.7 866.1,146.1 869.4,141.2 869.1,135.4 866.1,130.5 861.2,128.3 856.3,127.2 853.8,119 851.2,109.1 847.9,99.2 845.2,94.7 843.1,87.5 840,81.2 833.8,76.6 826.5,72.9 819.3,68.8 816.2,65.2 819.3,60.5 821.9,59.4 825.5,63.6 829.7,68.8 834.8,69.8 840,65.7 845.2,66.7 845.9,66.7 850.9,67.6 852.5,57.7 851.7,47.8 852.5,39.5 862.4,33.8 869,37.1 875.6,39.5 876.4,49.4 876.4,56 878,65.1 885.5,70.9 892.1,77.5 893.7,82.4 892.1,92.3 893.7,98.9 900.3,105.5 906.1,115.4 906.9,118.6 908.5,126.9 908.2,129.7 912.3,135.4 917.2,141.2 920.8,147 920.5,152.7 928.8,157.7 935.4,163.4 938.6,167.6 937.3,175.8 935.4,184 932.9,192.3 930.4,198.9 927.1,207.1 923,215.4 918.9,222.8Z M835.7,245.9 840.6,244.3 846.4,248.4 844.7,251.7 839.8,250.9Z" fill="none" stroke="#141414" stroke-width="1.15" stroke-linejoin="round"/>
<path d="M926.7,247.4 922.6,248.2 916,250.7 909.4,249.9 902.8,249.9 897.9,252.4 893,254 888.8,254.8 884.7,259 880.6,262.2 879.8,266.4 881.4,272.1 884.7,275.4 888.8,277.9 893,278.7 893.8,281.2 895.4,287 899.5,284.5 904.5,282.8 909.4,284.5 914.4,287 918.5,289.4 924.3,287.8 930.9,287.8 931.7,281.2 929.2,275.4 926.7,269.7 924.3,263.1 925.9,256.5Z M865.8,281.2 869.9,278.7 875.7,276.3 880.6,275.4 879.8,278.7 875.7,282 871.5,286.1 868.2,287.8 866.6,284.5Z M868.2,270.5 872.4,267.2 875.7,269.7 874.8,273 870.7,274.6Z" fill="none" stroke="#141414" stroke-width="1.15" stroke-linejoin="round"/>
<path d="M895.4,287 896.3,292.7 896.6,299.3 894.6,305.1 890.5,307.6 886.4,305.9 883.9,301.8 879.8,298.5 875.7,295.2 870.7,297.7 866.6,301.8 864.1,307.6 863.3,314.2 862.5,320.7 863.3,325.7 864.9,330.3 869.9,325.7 874.8,323.2 881.4,322.1 889.7,321.1 897.9,320.4 903.7,319.1 905.3,316.6 909.4,319.1 916,321.6 922.6,322.4 927.6,325.7 931.7,327.3 935.8,324 940.7,322.4 942.4,317.5 944.4,312.5 943.2,307.6 940.7,303.4 936.6,300.1 935,294.4 933.3,289.4 930.9,287.8 924.3,287.8 918.5,289.4 914.4,287 909.4,284.5 904.5,282.8 899.5,284.5Z" fill="none" stroke="#141414" stroke-width="1.15" stroke-linejoin="round"/>
<path d="M864.9,330.3 866.6,337.2 868.2,342.2 869.1,345.5 874.8,349.6 881.4,350.4 887.2,352.1 889.7,355.4 890.5,361.9 895.4,363.9 899.5,367.7 902.5,370.5 909.4,369.4 914.4,366.9 916.9,362.8 922.6,358.6 925.9,359 924.3,353.7 925.1,347.1 927.6,342.2 932.5,338 932.5,333.9 930,329.8 931.7,327.3 927.6,325.7 922.6,322.4 916,321.6 909.4,319.1 905.3,316.6 903.7,319.1 897.9,320.4 889.7,321.1 881.4,322.1 874.8,323.2 869.9,325.7Z" fill="none" stroke="#141414" stroke-width="1.15" stroke-linejoin="round"/>
<path d="M788.2,385.3 789.9,383.7 796.5,380.4 804.7,377.1 812.1,374.6 815.4,370.5 821.2,366.4 829.4,363.1 836.9,361.4 839.3,367.2 843.4,370.5 848.4,371.3 853.3,368.8 856.6,366 865.7,367.2 878.9,365.5 889.6,364.4 890.5,361.9 895.4,363.9 899.5,367.7 902.5,370.5 902.8,371.6 906.1,381.2 910.2,392.7 906.9,399.3 904.4,405.1 910.2,409.2 911,417.5 914.3,424 919.2,432.3 920.9,438.9 915.9,445.5 911.8,453.7 907.7,461.9 910.2,471.8 909,472.1 905.2,472.1 900.3,470.5 893.7,468.8 887.1,469.7 880.5,470.5 873.9,473 869.8,475.4 865.7,472.1 861.9,469.3 858.3,472.1 853.3,470.5 849.2,465.5 842.6,463.1 839.3,459.8 834.4,458.1 828.6,455.7 826.1,459 821.2,460.6 817.1,452.4 810.5,450.7 804.7,446.6 799.8,447.9 801.4,445.5 800.6,437.2 797.3,432.3 795.7,425.7 794.8,417.5 792.4,410 787.4,405.9 789.9,397.7 790.7,391.1Z" fill="none" stroke="#141414" stroke-width="1.15" stroke-linejoin="round"/>
<path d="M861.9,469.3 865.7,472.1 869.8,475.4 873.9,473 880.5,470.5 887.1,469.7 893.7,468.8 900.3,470.5 905.2,472.1 909,472.1 906.6,477.9 905.2,484.5 903.6,489.4 898.6,489.4 893.7,487 887.1,489.4 878.9,495.2 869.8,498.5 860.7,501.8 857.5,505.9 849.2,508.9 840.1,506.7 834.4,501.8 832.7,496 833.6,491.1 837.7,488.6 843.4,485.3 845.9,479.5 850,475.4 855.8,473Z" fill="none" stroke="#141414" stroke-width="1.15" stroke-linejoin="round"/>
<path d="M903.6,489.4 898.6,489.4 893.7,487 887.1,489.4 878.9,495.2 869.8,498.5 860.7,501.8 857.5,505.9 849.2,508.9 840.1,506.7 834.4,501.8 832.7,505.9 835.2,509.2 830.3,512.5 827.8,513.3 829.4,519.1 827,524 826.1,529 823.7,531.5 827,533.9 827.8,536.4 832.7,538.9 837.7,543 843.4,547.1 847.6,549.6 854.2,548.8 860.7,547.1 864.9,545.5 869,542.2 875.6,538.9 880.5,539.7 885.5,538.9 888.8,536.4 893.7,533.9 897.8,529 899.5,522.4 901.9,515.8 904.4,509.2 906.1,503.4 910.2,499.3 914.3,494.4 910.2,491.9Z" fill="none" stroke="#141414" stroke-width="1.15" stroke-linejoin="round"/>
<path d="M649.9,435.9 653,433.3 655.6,429.6 658.2,425.5 660.8,421.3 664.4,417.2 666.5,412 667.5,406.8 668.5,402.6 671.1,403.7 675.3,402.1 680.5,398.5 685.7,396.4 690.9,395.4 694,394.9 698.1,395.4 700.2,398 700,402.6 698.1,407.3 697.1,412 694,414.6 697.6,417.2 697.1,420.8 694,425 690.9,427.6 686.7,429.6 683.6,431.2 684.6,434.8 686.2,437.9 685.7,441.6 683.1,443.1 681.5,445.2 683.1,447.3 684.6,449.9 683.6,451.4 681,451.4 678.4,449.9 680,446.2 681,444.7 678.4,441.6 674.3,440 671.1,436.9 668,435.9 664.9,435.9 661.8,436.9 658.7,437.4 655.6,439.5 652.5,437.9Z" fill="none" stroke="#141414" stroke-width="1.15" stroke-linejoin="round"/>
<path d="M637.8,440.6 643.6,438.1 649.9,435.8 652.5,437.9 655.6,439.5 658.7,437.4 661.8,436.9 664.9,435.9 668,435.9 671.1,436.9 674.3,440 678.4,441.6 681,444.7 680,446.2 678.4,449.9 681,451.4 683.6,451.4 685.2,454.6 686.2,457.7 687.2,460.8 685.6,462.9 681.2,464.7 679.5,466.4 678.7,470.5 679.5,475.4 677.1,478.7 673,476.3 667.2,472.1 665.5,463.1 664.7,467.2 658.1,465.5 656.5,459.8 652.4,456.5 647.4,453.2 644.9,448.2 640,447.4 638.6,447.2Z" fill="none" stroke="#141414" stroke-width="1.15" stroke-linejoin="round"/>
<path d="M685.6,462.9 687.8,467.2 687,473 687.8,477.9 682.8,477.1 679.5,475.4 678.7,470.5 679.5,466.4 681.2,464.7Z" fill="none" stroke="#141414" stroke-width="1.15" stroke-linejoin="round"/>
<path d="M700.2,398 703.4,391.9 709.2,391.1 713.3,392.7 714.2,396 716.6,392.7 718.8,388.6 721.6,384.5 720.7,379.5 719.9,373 720.3,367.2 725.7,368 733.4,368.8 733.9,370.5 736.4,373 738.9,375.4 743,377.1 747.1,378.7 747.9,382 746.3,384.5 752.1,383.7 758.6,381.2 765.2,377.9 771.8,375.4 775.9,372.1 779.2,373.8 780.1,378.7 783.4,381.2 787.5,383.7 788.2,385.3 790.7,391.1 789.9,397.7 787.4,405.9 792.4,410 794.8,417.5 795.7,425.7 797.3,432.3 800.6,437.2 801.4,445.5 799.8,447.9 794.1,445.8 790,447.4 783.4,450.7 776.8,454 770.2,457.3 763.6,460.6 764.4,463.1 766.9,468 770.2,474.6 773.5,479.5 778.4,484.5 783.4,491.1 787.8,496 782.5,501 780.1,502.6 774.3,507.6 776.8,512.5 778.4,518.3 773.5,515 768.5,515.8 761.9,517.5 755.4,519.1 748.8,521.6 745.5,519.1 738.9,520.7 737.2,524 732.3,520.7 729,520.7 722.4,517.5 717.5,516.6 715,515 710.9,518.3 705.9,517.5 701,518.3 701.3,512.5 702.6,505.9 705.1,499.3 709.2,493.6 711.7,489.4 705.9,487.8 699.3,486.1 692.7,483.7 687.8,477.9 687,473 687.8,467.2 685.6,462.9 687.2,460.8 686.2,457.7 685.2,454.6 683.6,451.4 684.6,449.9 683.1,447.3 681.5,445.2 683.1,443.1 685.7,441.6 686.2,437.9 684.6,434.8 683.6,431.2 686.7,429.6 690.9,427.6 694,425 697.1,420.8 697.6,417.2 694,414.6 697.1,412 698.1,407.3 700,402.6Z" fill="none" stroke="#141414" stroke-width="1.15" stroke-linejoin="round"/>
<path d="M787.8,496 783.4,491.1 778.4,484.5 773.5,479.5 770.2,474.6 766.9,468 764.4,463.1 763.6,460.6 770.2,457.3 776.8,454 783.4,450.7 790,447.4 794.1,445.8 799.8,447.9 804.7,446.6 810.5,450.7 817.1,452.4 821.2,460.6 826.1,459 828.6,455.7 834.4,458.1 839.3,459.8 842.6,463.1 849.2,465.5 853.3,470.5 858.3,472.1 861.9,469.3 855.8,473 850,475.4 845.9,479.5 843.4,485.3 837.7,488.6 831.1,491.1 824.5,489.4 817.9,489.4 811.3,487.8 804.7,487 801.4,492.7 795.7,496 789.9,492.7Z" fill="none" stroke="#141414" stroke-width="1.15" stroke-linejoin="round"/>
<path d="M837.7,488.6 831.1,491.1 824.5,489.4 817.9,489.4 811.3,487.8 804.7,487 801.4,492.7 795.7,496 789.9,492.7 787.8,496 782.5,501 780.1,502.6 774.3,507.6 776.8,512.5 778.4,518.3 773.5,515 768.5,515.8 761.9,517.5 755.4,519.1 748.8,521.6 745.5,519.1 738.9,520.7 737.2,524 732.3,520.7 729.8,525.7 730.6,530.6 737.2,531.5 740.5,532.3 742.2,535.6 748.8,534.8 755.4,532.3 761.9,530.6 765.2,529.8 766.9,533.9 771.8,537.2 778.4,538.9 785.8,542.2 788.2,540.5 793.2,538.9 799.8,538 806.4,536.4 813,535.6 817.9,532.3 823.7,531.5 826.1,529 827,524 829.4,519.1 827.8,513.3 830.3,512.5 835.2,509.2 832.7,505.9 834.4,501.8 832.7,496 833.6,491.1Z" fill="none" stroke="#141414" stroke-width="1.15" stroke-linejoin="round"/>
<path d="M637.8,440.6 632.1,442.2 625.5,444.4 623.8,448.8 623.8,454.6 623,458.7 617.2,461.2 611.5,463.2 605.7,465.3 602.4,467.8 604,470.3 607.3,472.4 600.7,473.6 594.2,472.7 589.2,471.1 584.3,470.3 582.9,464.2 576.9,463.2 576.9,469.4 576.9,482.6 572.7,483.4 567.8,482.6 561.2,483.4 557.1,477.7 551.3,476.9 544.7,477.7 538.1,477.7 532.4,479.3 533.2,484.3 534,489.2 536.5,493.3 541.4,495 546.4,498.3 550.5,500.7 555.4,504 559.5,506.5 561.2,509.8 562,515.6 563.7,520.5 567,525.5 571.1,530.4 574.4,533.7 573.8,535 572.1,541.6 575.4,549.8 573.8,553.1 570.5,561.4 568.8,568 566.4,576.2 563.9,584.4 561.4,591 557.3,593 561.4,596.8 560.6,599.3 566.4,601.7 572.1,605 577.9,607.5 584.5,610 589.4,611.6 594.4,609.2 599.3,612.5 604.3,615.7 609.2,619 614.2,620.7 619.9,621.5 625.7,619.9 629.8,620.7 629,615.7 629.8,610 633.1,605.9 638.9,601.7 645.5,599.6 649.6,601.7 655.4,602.6 661.1,605 666.9,608.3 671.8,611.6 677.6,610.8 683.4,608.3 686.7,605 691.6,601.7 696.5,597.6 699.5,592.3 694.9,589.4 690,586.1 688.3,581.1 690,576.2 685.8,570.4 691.6,566.3 693.3,561.4 689.1,556.4 691.3,552.3 689.3,543.2 683.5,542.3 677.9,546.2 682.8,537.2 686.1,532.3 689.4,527.3 692.7,522.4 696,520.7 701,518.3 701.3,512.5 702.6,505.9 705.1,499.3 709.2,493.6 711.7,489.4 705.9,487.8 699.3,486.1 692.7,483.7 687.8,477.9 682.8,477.1 679.5,475.4 677.1,478.7 673,476.3 667.2,472.1 665.5,463.1 664.7,467.2 658.1,465.5 656.5,459.8 652.4,456.5 647.4,453.2 644.9,448.2 640,447.4 638.6,447.2Z" fill="none" stroke="#141414" stroke-width="1.15" stroke-linejoin="round"/>
<path d="M714.7,627.3 718.8,622.3 724.6,619 727,615.7 727.9,624 728.7,632.2 725.4,640.5 722.9,647.9 718.8,643.8 715.5,635.5Z" fill="none" stroke="#141414" stroke-width="1.15" stroke-linejoin="round"/>
<path d="M557.3,593 550.1,592.3 541,590 534.2,588.9 527.5,585.5 518.4,584.4 509.4,581 500.4,576.5 489.1,574.2 477.8,574.2 474.4,568.6 467.6,566.3 460.8,569.7 452.9,571.9 445,574.2 443.9,579.8 447.3,585.5 445,588.9 447.3,592.3 445,599 444.3,599.7 451.8,599 455.2,603.6 464.2,605.8 472.1,605.8 477.8,608.1 482.3,616 476.6,620.5 471,625 469.2,632.9 467.6,640.8 464.2,646.5 460.8,651 455.2,652.1 456.3,660 458.6,666.8 454,671.3 452.9,678.1 456.3,683.8 450.7,689.4 446.1,695.1 445.7,700.7 451.8,704.1 458.6,708.6 462,715.4 464.2,723.3 472.1,730.1 477.8,728.9 484.5,724.4 493.6,722.2 504.9,723.3 516.2,725.5 525.2,724.4 532,727.8 536.5,719.9 541,714.3 550.1,713.1 556.8,712 559.1,706.3 565.9,699.6 573.8,691.7 570.4,683.8 568.1,677 571.5,667.9 577.2,660 583.9,654.4 588.5,653.3 590.7,648.7 599.7,645.4 608.8,642 617.8,637.5 625.7,632.9 630.2,628.4 629.8,620.7 625.7,619.9 619.9,621.5 614.2,620.7 609.2,619 604.3,615.7 599.3,612.5 594.4,609.2 589.4,611.6 584.5,610 577.9,607.5 572.1,605 566.4,601.7 560.6,599.3 561.4,596.8Z M611,678.1 617.8,672.5 625.7,673.6 629.1,678.1 622.3,687.1 614.4,681.5Z M635.9,671.3 641.5,671.3 643.8,675.9 639.3,675.9Z M591.8,689.4 597.5,687.1 598.6,690.5 593,692.8Z" fill="none" stroke="#141414" stroke-width="1.15" stroke-linejoin="round"/>
<path d="M444.3,599.7 443.4,607 442.8,616 441.6,622.8 438.2,631.8 434.8,639.7 430.3,646.5 423.6,651 421.3,656.7 419,661.2 422.4,665.7 428.1,664.6 429.2,670.2 426.9,677 425.8,683.8 424.7,690.5 421.3,693.9 419.5,698.4 425.8,700.7 432.6,703 438.2,704.1 445.7,700.7 446.1,695.1 450.7,689.4 456.3,683.8 452.9,678.1 454,671.3 458.6,666.8 456.3,660 455.2,652.1 460.8,651 464.2,646.5 467.6,640.8 469.2,632.9 471,625 476.6,620.5 482.3,616 477.8,608.1 472.1,605.8 464.2,605.8 455.2,603.6 451.8,599Z" fill="none" stroke="#141414" stroke-width="1.15" stroke-linejoin="round"/>
<path d="M699.5,592.3 704.8,590.8 711.6,587.4 717.3,585.2 724,586.3 730.8,590.8 736.5,594.2 739.9,601 742.1,607.8 744.4,614.5 750,621.3 756.8,627 762.5,632.6 769.2,638.3 774.9,643.9 781.7,648.4 788.4,649.6 795.2,650.7 799.7,655.2 806.5,659.7 813.3,664.2 817.8,669.9 824.6,673.3 828,675.5 830.2,682.3 833.6,689.1 835.9,698.1 833.6,703.8 830.2,708.3 830.2,715.1 834.7,716.2 840.4,709.4 846,702.6 847.2,698.1 851.7,693.6 852.8,686.8 848.3,682.3 842.6,680.1 840.4,674.4 842.6,668.8 846,663.1 851.7,662 858.5,664.2 863,667.6 867.5,672.1 870.9,669.9 870.9,664.2 865.2,659.7 858.5,655.2 850.5,650.7 842.6,647.3 835.9,645 830.2,642.8 826.8,639.4 831.3,634.9 824.6,633.7 815.5,633.1 808.6,630.5 803.7,624.7 798.8,618.9 795.5,612.3 792.2,605.7 788.9,600.8 782.3,596.7 775.7,592.6 770.7,588.4 769.1,582.7 769.9,577.7 771.6,574.4 769.1,571.1 768.3,566.2 772.4,563.7 777.3,561.3 782.3,558 787.2,556.3 787.4,565.2 788.2,561.9 789.1,557 787.4,552.1 788.2,547.1 785.8,542.2 778.4,538.9 771.8,537.2 766.9,533.9 765.2,529.8 761.9,530.6 755.4,532.3 748.8,534.8 742.2,535.6 740.8,538.9 737.2,540.5 738.9,545.5 735.6,545.5 730.6,545.5 725.7,543 722.4,548.8 719.9,554.5 715.8,545.5 710.9,543.8 705.9,548.8 699.3,552.9 691.3,552.3 689.1,556.4 693.3,561.4 691.6,566.3 685.8,570.4 690,576.2 688.3,581.1 690,586.1 694.9,589.4Z M777.3,716.5 782.9,714.2 790.8,714.2 799.9,715.3 808.9,714.2 817.9,711.9 827,709.7 824.7,717.6 822.5,724.4 824.7,733.4 822.5,742.4 814.5,740.2 805.5,736.8 796.5,733.4 788.6,730 781.8,725.5 777.3,722.1Z" fill="none" stroke="#141414" stroke-width="1.15" stroke-linejoin="round"/>
<path d="M707.1,655.2 713.9,652.9 722.9,651.8 728.6,652.9 732,662 733.1,669.9 730.8,677.8 729.7,686.8 725.2,693.6 719.5,695.9 713.9,699.3 708.2,694.7 709.4,684.6 708.2,675.5 707.1,666.5Z" fill="none" stroke="#141414" stroke-width="1.15" stroke-linejoin="round"/>
<path d="M785.8,542.2 788.2,540.5 793.2,538.9 799.8,538 806.4,536.4 813,535.6 817.9,532.3 823.7,531.5 827,533.9 827.8,536.4 824.5,540.5 819.5,543.8 817.1,548.8 813.8,553.7 815.4,558.6 809.7,561.1 804.7,561.9 798.1,561.1 793.2,562.8 789.1,565.2 787.4,565.2 788.2,561.9 789.1,557 787.4,552.1 788.2,547.1Z" fill="none" stroke="#141414" stroke-width="1.15" stroke-linejoin="round"/>
<path d="M789.1,565.2 793.2,562.8 798.1,561.1 804.7,561.9 809.7,561.1 815.4,558.6 813.8,553.7 817.1,548.8 819.5,543.8 824.5,540.5 827.8,536.4 832.7,538.9 837.7,543 843.4,547.1 847.6,549.6 854.2,548.8 860.7,547.1 864.9,545.5 869,548.8 872.3,553.7 873.9,558.6 869.8,560.3 862.4,562.8 854.2,561.9 845.9,562.8 837.7,563.6 829.4,565.2 823.7,564.4 821.2,566.9 823.5,572.8 825.9,579.4 828.4,585.1 831.7,590.1 836.7,594.2 842.4,598.3 848.2,602.5 854.8,606.6 861.4,610.7 866.3,614.8 868.8,618.6 863,614.8 856.4,611.5 850.7,607.4 844.9,604.1 838.3,601.6 831.7,599.2 825.1,595.9 820.2,590.9 815.2,586 811.9,579.4 808.6,574.4 805.4,569.5 802.1,566.2 797.9,565.4 796.3,570.3 793,574.4 789.7,569.5Z M799.6,569.5 802.1,572.8 804.5,579.4 802.9,581 800.4,574.4Z M798.8,566.2 800.7,568.2 800.1,569.8Z M807.8,587.6 812.8,591.7 816.1,595 814.4,594.2 808.6,590.1Z M811.1,581 813.6,582.7 812.8,584.3Z M827.6,608.2 831.7,609 830.9,610.7 828.1,609.9Z M833.4,605.7 839.1,606.6 838.3,607.7 833.7,607.1Z M839.1,609 845.7,609.9 844.9,611 839.6,610.4Z M831.7,622.2 835,622.6 834.2,624.2Z M820.2,628 822.7,628.5 821.5,630.1Z" fill="none" stroke="#141414" stroke-width="1.15" stroke-linejoin="round"/>
<path d="M914.3,494.4 919.5,492.2 926.1,493.1 932.7,492.2 938.5,491.1 945.1,493.9 952.5,489 959.1,485.7 964,481.5 967.3,477.9 972.3,483.2 977.2,489.8 982.2,494.7 988.8,499.7 993.7,504.6 996.2,511.2 997.8,517.8 999.5,524.4 1001.1,529.3 1005.2,531.8 1011.8,531 1016.8,528.5 1021.7,527.7 1023,532.6 1022.5,535.9 1018.4,540.9 1014.3,545.8 1012.7,552.4 1013.5,559 1013.8,564.8 1008.5,563.9 1003.6,562.3 997,563.1 992.1,564.8 985.5,565.6 978.9,567.2 973.9,570.5 969,574.6 962.4,576.3 954.2,577.1 945.9,578.8 937.7,579.6 931.1,580.4 929.4,577.1 925.3,572.2 921.2,568 923.7,565.6 917.9,565.6 913,566.4 906.4,564.8 904.7,559.8 901.4,555.7 895.7,552.4 893.2,548.3 889.9,544.2 885.8,538.9 888.8,536.4 893.7,533.9 897.8,529 899.5,522.4 901.9,515.8 904.4,509.2 906.1,503.4 910.2,499.3Z" fill="none" stroke="#141414" stroke-width="1.15" stroke-linejoin="round"/>
<path d="M1013.8,564.8 1008.5,563.9 1003.6,562.3 997,563.1 992.1,564.8 985.5,565.6 978.9,567.2 973.9,570.5 969,574.6 962.4,576.3 954.2,577.1 945.9,578.8 937.7,579.6 931.1,580.4 929.4,577.1 925.3,572.2 923.2,577.4 922.5,583.2 925.3,588.1 929.4,591.4 932.7,595.5 929.4,600.5 927,604.6 928.6,611.2 931.1,616.1 936,619.4 936.9,624.4 938,631 944.3,628.5 950.9,626 957.5,623.6 964,624.4 970.6,625.2 977.2,624.4 983,622.7 987.1,618.6 989.6,614.5 993.7,615.3 995.4,609.5 1000.3,605.4 1006.9,603.8 1011.8,602.1 1007.7,597.2 1004.4,593.1 1006.9,588.1 1007.7,583.2 1006.1,576.6 1008.5,571.6 1012.7,566.7Z" fill="none" stroke="#141414" stroke-width="1.15" stroke-linejoin="round"/>
<path d="M938,631 934.4,633.4 929.4,636.7 923.7,639.2 921.2,642.5 915.4,643.3 910.2,645.5 908.8,650.7 906.4,657.3 903.9,662.3 901.4,667.2 899.8,672.2 899.9,674 903.2,678.1 908.1,682.2 912.2,685.5 915.5,684.7 916.4,686.4 913.1,688.8 913.9,692.1 918,694.6 923,697.1 927.9,697.1 932.8,695.4 937.8,693.8 942.7,694.6 946.9,697.1 952.6,698.7 956.7,699.5 960.9,698.7 965,701.2 968.3,702.8 966.6,697.9 965,693.8 960.9,692.1 955.9,689.7 951,687.2 946.9,684.7 942.7,683.1 945.2,680.6 948.5,677.3 947.7,674 944.4,673.2 947.7,671.5 949.2,671.3 945.9,668 942.6,663.9 939.3,659.8 936.9,655.7 937.7,649.9 941,647.5 945.1,652.4 949.2,648.3 954.2,649.1 959.1,650.7 965.7,652.4 960.7,649.1 955.8,646.6 952.5,643.3 954.2,640.9 959.1,638.4 964,635.9 969,633.4 975.6,632.6 982.2,633.4 989.6,634.3 990.4,633.4 993.7,626.9 992.9,621.1 993.7,615.3 989.6,614.5 987.1,618.6 983,622.7 977.2,624.4 970.6,625.2 964,624.4 957.5,623.6 950.9,626 944.3,628.5Z M950.1,679.8 954.3,680.6 959.2,683.1 964.2,685.5 968.3,688 971.6,691.3 974,694.6 971.6,695.4 967.5,692.1 962.5,689.7 957.6,687.2 953.4,684.7 950.1,682.2Z M920.5,704.5 924.6,700.4 929.5,697.9 934.5,697.6 939.4,698.2 944.4,699.5 949.3,700.4 952.6,699.5 951.8,703.7 954.3,707 957.6,709.4 955.1,711.1 951.8,709.4 950.1,712.7 952.6,717.7 955.1,723.4 955.9,728.4 952.6,725.9 949.3,723.4 946.9,725.9 945.2,730.9 941.9,727.6 939.4,723.4 936.1,725.1 933.7,725.9 931.2,722.6 930.4,716.9 927.9,712.7 923.8,709.4 920.5,707Z M967.5,749.8 970.7,745.7 975.7,748.2 980.6,749 987.2,748.2 995.5,747.3 1003.7,746.5 1007,749 1012.8,746.5 1013.6,749 1008.6,752.3 1002.1,753.9 993.8,756.4 987.2,755.6 980.6,754.8 974,754.8 969.1,753.9Z M1035,721 1037.5,716 1040.8,714.4 1041.6,717.7 1039.1,723.4 1036.3,725.9Z M992.2,664.9 997.1,661.6 1002.1,663.3 1003.7,667.4 998.8,668.2 994.6,667.4Z M994.6,679 997.9,678.1 999.6,683.1 997.9,687.2 995.5,684.7Z M1009.5,692.1 1013.6,691 1015.2,693 1011.1,694.3Z M906.5,699.5 910.6,697.1 913.1,702.8 909.8,704.5 906.5,702.8Z M911.4,707.8 915.5,708.6 916.4,711.1 913.1,711.1Z M909,688.8 911.4,688.8 910.6,693 908.5,692.1Z M953.4,733.3 955.9,733.3 957.2,737.5 954.6,737.5Z M979,695.4 983.1,697.9 984.8,700.4 980.6,698.2Z M993,708.6 996.3,709.4 995.5,713.6 992.5,712.4Z M988,711.1 990.5,711.9 988.9,714.4Z M988.9,703.7 991.3,702.8 990.5,706.1Z M983.9,700.4 987.2,703.2 985.6,704.2Z M972.4,702 974.4,703.2 973.2,706.1Z M976.5,721.8 979.8,720.1 980.3,722.6Z M995.5,723.4 997.1,725.1 995.5,725.9Z M990.5,717.7 993,716.9 992.2,719.7Z M1020.2,709.4 1025.1,707.8 1025.9,709.4 1021.8,711.4Z M1026.8,730.9 1028.4,732.5 1028.1,738.3 1026.4,735.8Z M1002.1,698.7 1006.2,696.3 1006.7,697.9 1002.9,700.4Z M970.7,675.7 973.2,676.5 974.9,679.8 972.4,679.4Z M890.8,671.5 893.3,670.7 896.6,676.5 894.9,677.3Z M1000.4,716.9 1003.7,714.4 1002.9,716.9Z M1008.6,716.9 1011.1,716 1010.3,718.5Z M982.3,704.5 984.8,707 983.1,707.8Z M979.8,716.9 982.3,716 981.5,718.5Z M960.9,720.1 963.3,721 961.7,722.3Z M965.7,637.6 969,636.7 969.8,640.9 966.5,641.7Z M980.5,640 983.8,640.9 982.2,642.5Z M977.2,652.4 981.3,651.6 982.2,654.9 978.9,655.7Z M992.1,663.9 998.6,661.5 1003.6,666.4 998.6,668.9 993.7,667.2Z M950,654.9 953.3,655.7 955,658.2 950.9,657.3Z M955,652.4 958.3,653.2 959.9,655.7 956.6,654.9Z" fill="none" stroke="#141414" stroke-width="1.15" stroke-linejoin="round"/>
<path d="M1115.5,722.8 1122.8,717.9 1131,714.6 1139.2,709.6 1145.8,703 1149.1,699.7 1145.8,708 1142.5,716.2 1135.9,722.8 1129.3,727.7 1121.1,729.4 1116.2,727.1Z" fill="none" stroke="#141414" stroke-width="1.15" stroke-linejoin="round"/>
<path d="M450.4,71.6 453.5,70 457.1,69.5 459.2,66.4 462.8,64.5 465.4,65.9 468,69.5 468.5,63.3 470.6,61.4 473.2,62.5 474.2,66.4 474.8,71.6 475.8,75.2 473.2,78.3 472.7,83 473,86.6 477.3,85.1 481.5,83.5 483.6,79.9 485.6,77.8 487.7,80.9 488.8,84.6 491.9,82.2 496.5,82.2 498.6,85.1 499.6,88.7 502.2,84.6 504.8,86.1 507.9,88 511.6,87.2 515.2,86.6 517.8,83.5 519.9,82.8 522,85.6 524,90.3 528.2,91.5 528.4,95.5 527.7,99.6 529.7,103.8 531.8,107.9 532.3,111.5 530.8,114.6 530.2,118.3 527.1,121.4 523,124 518.8,126.6 514.7,129.2 510.5,129.7 506.4,129.5 502.2,130.2 498.1,131.8 493.9,132.8 489.8,132.3 485.6,133.3 481.5,134.4 476.3,134.4 472.2,133.3 468,130.7 464.4,127.6 461.3,124 459.2,119.8 457.6,116.7 454.5,115.2 449.9,113.1 445.2,111 444.4,108.9 445.7,106.3 447.3,105.3 447.8,107.9 450.4,108.9 453.5,108.4 456.1,105.8 459.2,105.3 461.3,105.8 456.6,103.8 455.6,98.6 455.6,94.4 453.5,91.8 449.9,89.8 446.7,88.2 449.3,87.4 453.5,88.2 458.2,89.2 461.3,89.8 462.3,86.6 464.9,83 463.9,79.9 461.3,77.3 457.6,76.3 453.5,75.7 450.9,73.7Z M566.4,194.4 571.4,191.2 576.3,192.8 574.7,197.7 570.7,201 567.4,197.7Z M568.1,206 570.1,207.6 569.4,210.9 567.4,209.3Z" fill="none" stroke="#141414" stroke-width="1.15" stroke-linejoin="round"/>
<path d="M733.4,368.8 725.7,368 720.3,367.2 717.4,362.2 715.9,356.5 713.8,351.9 714.9,346.7 713.8,341.5 713.3,336.3 714.9,332.2 714.3,329 716.4,331.1 718,330.1 715.9,325.9 718.5,322.3 722.6,320.2 727.3,319.2 729.9,317.1 732.5,313.5 736.1,310.4 740.8,308.5 741.3,312.4 740.8,317.6 739.8,323.9 738.7,329 741.8,331.6 744.9,333.2 746,335.3 743.9,337.9 740.3,338.9 738.2,342.5 736.1,345.6 733,348.8 731.5,351.9 732.5,353.9 730.9,356.5 729.9,360.7 732,362.2 734,364.3 733,366.4Z M733.5,355 736.1,352.9 739.8,351.9 742.3,353.9 744.4,358.1 744.9,361.2 742.3,363.3 739.2,362.2 736.1,359.6 734.6,357.6Z M749.1,349.3 752.2,346.7 755.3,344.6 756.3,348.8 758.4,347.7 761,350.8 762.6,355 763.1,359.1 764.6,362.2 763.6,364.8 761,367.4 758.9,371.6 754.8,370.5 750.6,369 748,367.4 749.1,365.4 752.7,366.4 755.8,366.9 757.9,364.3 756.3,361.2 753.2,359.1 751.2,356.5 750.1,352.9Z M758.4,342.5 761.5,340.5 764.6,341.5 765.7,345.6 765.2,349.8 762.6,350.8 760,348.8 758.4,345.6Z M791.6,356.5 794.2,356 796.8,358.6 796.3,361.2 793.7,361.7 791.9,359.6Z M746,316.6 748.6,315.4 749.1,316.6 747,318.2Z" fill="none" stroke="#141414" stroke-width="1.15" stroke-linejoin="round"/>
<path d="M720.6,331.1 722.1,327.5 724.2,323.9 725.7,323 726.3,327 724.2,329 722.1,331.1Z" fill="#fff" stroke="#141414" stroke-width="0.8"/>
<path d="M806.6,756 810,757.1 813.4,760.5 810,759.4Z" fill="none" stroke="#141414" stroke-width="1.15" stroke-linejoin="round"/>
<path d="M603.6,615.4 607.2,615.1 607.6,617.7 603.9,618.1Z" fill="#fff" stroke="#141414" stroke-width="0.7"/>
</g>
<rect x="361" y="9.3" width="2.6" height="1.1" fill="#333"/>
</svg>
<!--LOGO-->
<svg class="abs" style="left:10px;top:0" width="140" height="105" viewBox="0 0 140 105">
<ellipse cx="49" cy="30.5" rx="31" ry="24.5" fill="#c3dd9a"/>
<path d="M22 18 Q30 9 44 9 Q58 6 70 13 Q80 22 80 34 Q78 46 66 50 Q52 56 36 53 Q22 50 18 38 Q16 26 22 18Z" fill="#a9d070"/>
<path d="M30 22 Q40 14 52 18 Q60 24 56 32 Q46 38 36 34 Q28 30 30 22Z" fill="#bfdc92"/>
<g fill="none" stroke="#13221a" stroke-width="2.3" stroke-linecap="round">
<path d="M19 21 Q40 8 64 13 Q72 15 76 19"/>
<path d="M13.5 37 Q32 29 54 26 Q70 25 81 30"/>
<path d="M16.7 49 Q38 48 61.5 43.6 Q74 42 81 40"/>
<path d="M34.6 6.4 Q24 22 24.4 37 Q25 50 31.4 60"/>
<path d="M41.7 4.5 Q44 19 46.8 37 L49.4 51"/>
<path d="M48 4.5 Q60 13 63.5 25.6 Q66 38 64 46"/>
<path d="M60 7.7 Q74 16 79.5 29.5 Q81 42 75.6 51"/>
<path d="M23.7 16 Q14 27 14 38.5 Q15 50 24.4 60"/>
</g>
<text x="33" y="77" font-family="Liberation Serif,serif" font-size="46" fill="#13203c">e</text>
<text x="54" y="77" font-family="Liberation Serif,serif" font-size="46" fill="#3f9b1f">c</text>
<path d="M88 76 Q74 80 73 67 Q73 56 84 57 Q94 58 96 70 Q97 52 92 44 Q88 36 96 35 Q102 35 100 39" fill="none" stroke="#3f9b1f" stroke-width="4" stroke-linecap="round"/>
<text x="100" y="77" font-family="Liberation Serif,serif" font-size="46" fill="#13203c">c</text>
<rect x="34.5" y="84.5" width="22.5" height="14" fill="#1f3f94"/>
<circle cx="45.7" cy="91.5" r="4" fill="none" stroke="#0b1020" stroke-width="2.2"/>
<text x="60" y="88.8" font-family="Liberation Sans,sans-serif" font-weight="bold" font-size="4.6" fill="#10182c" textLength="59" lengthAdjust="spacingAndGlyphs">EUROPEAN CENTRE FOR</text>
<text x="60" y="93.8" font-family="Liberation Sans,sans-serif" font-weight="bold" font-size="4.6" fill="#10182c" textLength="52" lengthAdjust="spacingAndGlyphs">DISEASE PREVENTION</text>
<text x="60" y="98.6" font-family="Liberation Sans,sans-serif" font-weight="bold" font-size="4.6" fill="#10182c" textLength="37" lengthAdjust="spacingAndGlyphs">AND CONTROL</text>
</svg>
<div class="ttl" style="top:111px">14-day COVID-19 case notification</div>
<div class="ttl" style="top:130px;font-size:14.62px">rate per 100 000 population</div>
<div class="ttl" style="top:154px;letter-spacing:0.34px">2021-w18 to 2021-w19</div>
<div class="sw" style="left:24px;top:180.9px;background:#7BBAC3"></div>
<div class="lb" style="left:69px;top:182.7px">No cases reported</div>
<div class="sw" style="left:24px;top:207.0px;background:#F0D678"></div>
<div class="lb" style="left:69px;top:208.8px">&lt;20.0</div>
<div class="sw" style="left:24px;top:233.1px;background:#EAB858"></div>
<div class="lb" style="left:69px;top:234.9px">20.0 - 59.9</div>
<div class="sw" style="left:24px;top:259.2px;background:#DD9838"></div>
<div class="lb" style="left:69px;top:261.0px">60.0 - 119.9</div>
<div class="sw" style="left:24px;top:285.3px;background:#CF6B23"></div>
<div class="lb" style="left:69px;top:287.1px">120.0 - 239.9</div>
<div class="sw" style="left:24px;top:311.4px;background:#C44A18"></div>
<div class="lb" style="left:69px;top:313.2px">240.0 - 479.9</div>
<div class="sw" style="left:24px;top:337.5px;background:#A62C1A"></div>
<div class="lb" style="left:69px;top:339.3px">480.0 - 959.9</div>
<div class="sw" style="left:24px;top:363.6px;background:#7A1612"></div>
<div class="lb" style="left:69px;top:365.4px">≥960.0</div>
<div class="sw hatch" style="left:24px;top:389.7px;border-color:transparent"></div>
<div class="lb" style="left:69px;top:391.5px">No data reported / rate not calculated</div>
<div class="hd" style="top:457px">Regions not visible</div>
<div class="hd" style="top:476.5px">in the main map extent</div>
<div class="sw2" style="left:24.5px;top:512.5px;background:#DD9838"></div><div class="lb2" style="left:70px;top:514px">Azores</div>
<div class="sw2" style="left:170.5px;top:513.5px;background:#DD9838"></div><div class="lb2" style="left:217px;top:516px">Canary Islands</div>
<div class="sw2" style="left:24px;top:540.5px;background:#C44A18"></div><div class="lb2" style="left:70px;top:536px;font-size:9.5px;line-height:12.5px">Guadeloupe<br>and Saint Martin</div>
<div class="sw2" style="left:170.5px;top:540.5px;background:#A62C1A"></div><div class="lb2" style="left:217px;top:541px">Guyane</div>
<div class="sw2" style="left:24px;top:567px;background:#C44A18"></div><div class="lb2" style="left:70px;top:568px">La Reunion</div>
<div class="sw2" style="left:170.5px;top:567.5px;background:#DD9838"></div><div class="lb2" style="left:219px;top:569px">Madeira</div>
<div class="sw2" style="left:24px;top:594px;background:#DD9838"></div><div class="lb2" style="left:70px;top:596px">Martinique</div>
<div class="sw2" style="left:170.5px;top:594px;background:#EAB858"></div><div class="lb2" style="left:217px;top:596px">Mayotte</div>
<div class="hd" style="top:633px">Countries not visible</div>
<div class="hd" style="top:652.5px">in the main map extent</div>
<div class="sw2" style="left:24.5px;top:690.5px;background:#EAB858"></div><div class="lb2" style="left:71px;top:692.5px">Malta</div>
<div class="sw2" style="left:170.5px;top:690px;background:#DD9838"></div><div class="lb2" style="left:217px;top:690.5px">Liechtenstein</div>
<div class="cap" style="top:794.4px">Administrative boundaries: © EuroGeographics © UN–FAO © Turkstat. Office for National Statistics licensed under the Open Government Licence v.3.0. Contains OS data © Crown copyright and database right 2020. ©Kartverket</div>
<div class="cap" style="top:805.5px">©Instituto Nacional de Estatística - Statistics Portugal. The boundaries and names shown on this map do not imply official endorsement or acceptance by the European Union. ECDC. Map produced on: 19 May 2021</div>
</body></html>
